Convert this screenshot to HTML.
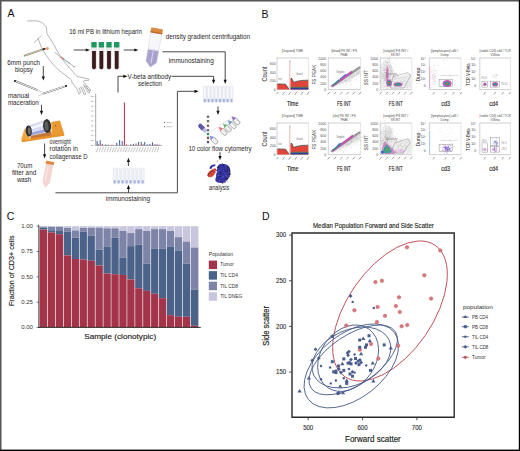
<!DOCTYPE html>
<html><head><meta charset="utf-8"><style>
html,body{margin:0;padding:0;background:#fff;}
svg{display:block;font-family:"Liberation Sans", sans-serif;}
</style></head><body>
<svg width="520" height="451" viewBox="0 0 520 451">
<rect width="520" height="451" fill="#fff"/>
<text x="7.6" y="17.4" font-size="10.5" fill="#111" stroke="#111" stroke-width="0" text-anchor="start" >A</text>
<line x1="73.7" y1="50" x2="87" y2="50" stroke="#1a1a1a" stroke-width="0.8" fill="none"/>
<polygon points="90,50 85.8,48.4 85.8,51.6" fill="#111"/>
<line x1="123.7" y1="50" x2="135.5" y2="50" stroke="#1a1a1a" stroke-width="0.8" fill="none"/>
<polygon points="138.5,50 134.3,48.4 134.3,51.6" fill="#111"/>
<polyline points="162.5,51.8 225.2,51.8 225.2,80.5" stroke="#1a1a1a" stroke-width="0.8" fill="none"/>
<polygon points="225.2,84 223.6,79.8 226.79999999999998,79.8" fill="#111"/>
<polyline points="118,92.5 118,76.3 124.5,76.3" stroke="#1a1a1a" stroke-width="0.8" fill="none"/>
<polygon points="127.5,76.3 123.3,74.7 123.3,77.89999999999999" fill="#111"/>
<polyline points="171.5,76.3 213.6,76.3 213.6,80.5" stroke="#1a1a1a" stroke-width="0.8" fill="none"/>
<polygon points="213.6,84 212.0,79.8 215.2,79.8" fill="#111"/>
<polyline points="55.4,192.8 177.4,192.8 177.4,91.3 195.5,91.3" stroke="#4a4a4a" stroke-width="1.0" fill="none"/>
<polygon points="198.7,91.3 194.5,89.7 194.5,92.89999999999999" fill="#111"/>
<line x1="128.5" y1="192.5" x2="128.5" y2="188" stroke="#1a1a1a" stroke-width="0.8" fill="none"/>
<polygon points="128.5,184.8 126.9,189.0 130.1,189.0" fill="#111"/>
<line x1="128.4" y1="166" x2="128.4" y2="161" stroke="#1a1a1a" stroke-width="0.8" fill="none"/>
<polygon points="128.4,157.7 126.80000000000001,161.89999999999998 130.0,161.89999999999998" fill="#111"/>
<line x1="43.3" y1="66" x2="43.3" y2="77" stroke="#1a1a1a" stroke-width="0.8" fill="none"/>
<polygon points="43.3,80.6 41.699999999999996,76.39999999999999 44.9,76.39999999999999" fill="#111"/>
<line x1="41.5" y1="104.8" x2="41.5" y2="111.5" stroke="#1a1a1a" stroke-width="0.8" fill="none"/>
<polygon points="41.5,115 39.9,110.8 43.1,110.8" fill="#111"/>
<line x1="44.6" y1="143.5" x2="44.6" y2="155" stroke="#1a1a1a" stroke-width="0.8" fill="none"/>
<polygon points="44.6,158.5 43.0,154.3 46.2,154.3" fill="#111"/>
<line x1="218" y1="106.4" x2="218" y2="111.5" stroke="#1a1a1a" stroke-width="0.8" fill="none"/>
<polygon points="218,115 216.4,110.8 219.6,110.8" fill="#111"/>
<line x1="220" y1="152.1" x2="220" y2="157" stroke="#1a1a1a" stroke-width="0.8" fill="none"/>
<polygon points="220,160.2 218.4,156.0 221.6,156.0" fill="#111"/>
<text x="69.2" y="33.7" font-size="6.3" fill="#2a2627" stroke="#2a2627" stroke-width="0" text-anchor="start" textLength="72.7" lengthAdjust="spacingAndGlyphs" >16 ml PB in lithium heparin</text>
<text x="165.8" y="38.5" font-size="6.3" fill="#2a2627" stroke="#2a2627" stroke-width="0" text-anchor="start" textLength="84.2" lengthAdjust="spacingAndGlyphs" >density gradient centrifugation</text>
<text x="168.7" y="62.5" font-size="6.3" fill="#2a2627" stroke="#2a2627" stroke-width="0" text-anchor="start" textLength="45.1" lengthAdjust="spacingAndGlyphs" >immunostaining</text>
<text x="127.6" y="78.5" font-size="6.3" fill="#2a2627" stroke="#2a2627" stroke-width="0" text-anchor="start" textLength="43.6" lengthAdjust="spacingAndGlyphs" >V-beta antibody</text>
<text x="138" y="86.3" font-size="6.3" fill="#2a2627" stroke="#2a2627" stroke-width="0" text-anchor="start" textLength="24" lengthAdjust="spacingAndGlyphs" >selection</text>
<text x="7.3" y="64.8" font-size="6.3" fill="#2a2627" stroke="#2a2627" stroke-width="0" text-anchor="start" textLength="32.7" lengthAdjust="spacingAndGlyphs" >6mm punch</text>
<text x="14.9" y="72.1" font-size="6.3" fill="#2a2627" stroke="#2a2627" stroke-width="0" text-anchor="start" textLength="18" lengthAdjust="spacingAndGlyphs" >biopsy</text>
<text x="7.9" y="97.7" font-size="6.3" fill="#2a2627" stroke="#2a2627" stroke-width="0" text-anchor="start" textLength="21.4" lengthAdjust="spacingAndGlyphs" >manual</text>
<text x="7.9" y="105" font-size="6.3" fill="#2a2627" stroke="#2a2627" stroke-width="0" text-anchor="start" textLength="30.9" lengthAdjust="spacingAndGlyphs" >maceration</text>
<text x="49.6" y="143.5" font-size="6.3" fill="#2a2627" stroke="#2a2627" stroke-width="0" text-anchor="start" textLength="21.2" lengthAdjust="spacingAndGlyphs" >overnight</text>
<text x="49.6" y="151.2" font-size="6.3" fill="#2a2627" stroke="#2a2627" stroke-width="0" text-anchor="start" textLength="28.3" lengthAdjust="spacingAndGlyphs" >rotation in</text>
<text x="49.6" y="158.8" font-size="6.3" fill="#2a2627" stroke="#2a2627" stroke-width="0" text-anchor="start" textLength="37.9" lengthAdjust="spacingAndGlyphs" >collagenase D</text>
<text x="16.9" y="167.5" font-size="6.3" fill="#2a2627" stroke="#2a2627" stroke-width="0" text-anchor="start" textLength="15.4" lengthAdjust="spacingAndGlyphs" >70um</text>
<text x="11.9" y="174.6" font-size="6.3" fill="#2a2627" stroke="#2a2627" stroke-width="0" text-anchor="start" textLength="24.3" lengthAdjust="spacingAndGlyphs" >filter and</text>
<text x="16.9" y="182.3" font-size="6.3" fill="#2a2627" stroke="#2a2627" stroke-width="0" text-anchor="start" textLength="14.3" lengthAdjust="spacingAndGlyphs" >wash</text>
<text x="188.4" y="151" font-size="6.3" fill="#2a2627" stroke="#2a2627" stroke-width="0" text-anchor="start" textLength="63.2" lengthAdjust="spacingAndGlyphs" >10 color flow cytometry</text>
<text x="209" y="189.8" font-size="6.3" fill="#2a2627" stroke="#2a2627" stroke-width="0" text-anchor="start" textLength="20.4" lengthAdjust="spacingAndGlyphs" >analysis</text>
<text x="105.8" y="201.2" font-size="6.3" fill="#2a2627" stroke="#2a2627" stroke-width="0" text-anchor="start" textLength="44.2" lengthAdjust="spacingAndGlyphs" >immunostaining</text>
<path d="M27.5,20.9 L37.7,20.9 C41,21.5 44.5,24 46.2,27.1 C47,29.5 46.6,31.5 46.8,33.5 C49,37 52,41 54,45 C57,51 60,56 63,60 C67,65 70,69 73.3,72 C74.5,74 75.5,75.3 77.2,76.4 C80,77.2 85,78 88.8,79.2 C89.6,79.6 89.2,80.4 87.7,80.4 L84.4,80.6 C83.2,81 83.3,82 84,82.6 L88.5,87.5 C90,89 91,90 90.5,90.6 C90,91 89,90.5 88.3,89.8 L83.8,85" stroke="#6a6a6a" stroke-width="0.5" fill="none" stroke-linecap="round" stroke-linejoin="round"/>
<path d="M38.2,39 C40,44 41.5,48 43.5,51 C47,57 52,64 58,69.5 C63,73.5 67,76.5 70.5,79.2 C72,80.5 72.5,81.5 71.6,81.6 C73,84 75,86.5 77.2,89.2 C78,90.5 78.3,92 78.4,93.2 C78.8,94.2 80,94 80.3,93 C80.5,91.5 79.8,89.5 79.2,88 M80.8,87 C81.8,89.5 83,92 84,94.2 C84.6,95.2 85.6,94.8 85.5,93.8 C85.2,92 83.8,89.5 82.5,87 M83.8,85 C85,87.5 86.8,90.5 88.2,92.6 C88.8,93.5 89.8,93.2 89.6,92.2 C89.2,90.8 87.6,88.5 86,86" stroke="#6a6a6a" stroke-width="0.5" fill="none" stroke-linecap="round" stroke-linejoin="round"/>
<path d="M34.2,42.6 L40.8,36" stroke="#6a6a6a" stroke-width="0.5" fill="none" stroke-linecap="round" stroke-linejoin="round"/>
<line x1="24.7" y1="55.6" x2="43.5" y2="49.2" stroke="#8f8a72" stroke-width="1.9" stroke-linecap="round"/>
<line x1="25" y1="55.5" x2="43" y2="49.3" stroke="#e3ddc6" stroke-width="0.7"/>
<line x1="42.5" y1="49.5" x2="45.5" y2="48.5" stroke="#222" stroke-width="1.5"/>
<circle cx="47.4" cy="48.4" r="1.5" fill="#f39a72"/>
<line x1="55" y1="52.7" x2="72.5" y2="65.5" stroke="#c7cdd0" stroke-width="1.3" stroke-linecap="round"/>
<line x1="60.3" y1="56.6" x2="64" y2="59.3" stroke="#c97060" stroke-width="1.1"/>
<line x1="64" y1="59.3" x2="70" y2="63.7" stroke="#6aa5a5" stroke-width="0.6"/>
<circle cx="74" cy="66.6" r="0.8" fill="#888"/>
<rect x="91.3" y="41.9" width="5.4" height="5.8" rx="0.7" fill="#1c9860"/>
<path d="M91.6,47.7 L91.6,67.8 Q91.6,69.8 94.0,69.8 Q96.4,69.8 96.4,67.8 L96.4,47.7 Z" fill="#f0eef0" stroke="#bfb7b9" stroke-width="0.3"/>
<path d="M92.1,51 L92.1,67.6 Q92.1,69.3 94.0,69.3 Q95.9,69.3 95.9,67.6 L95.9,51 Z" fill="#3a1b1e"/>
<rect x="98.64999999999999" y="41.9" width="5.4" height="5.8" rx="0.7" fill="#1c9860"/>
<path d="M98.94999999999999,47.7 L98.94999999999999,67.8 Q98.94999999999999,69.8 101.35,69.8 Q103.75,69.8 103.75,67.8 L103.75,47.7 Z" fill="#f0eef0" stroke="#bfb7b9" stroke-width="0.3"/>
<path d="M99.44999999999999,51 L99.44999999999999,67.6 Q99.44999999999999,69.3 101.35,69.3 Q103.25,69.3 103.25,67.6 L103.25,51 Z" fill="#3a1b1e"/>
<rect x="106.3" y="41.9" width="5.4" height="5.8" rx="0.7" fill="#1c9860"/>
<path d="M106.6,47.7 L106.6,67.8 Q106.6,69.8 109.0,69.8 Q111.4,69.8 111.4,67.8 L111.4,47.7 Z" fill="#f0eef0" stroke="#bfb7b9" stroke-width="0.3"/>
<path d="M107.1,51 L107.1,67.6 Q107.1,69.3 109.0,69.3 Q110.9,69.3 110.9,67.6 L110.9,51 Z" fill="#3a1b1e"/>
<rect x="114.0" y="41.9" width="5.4" height="5.8" rx="0.7" fill="#1c9860"/>
<path d="M114.3,47.7 L114.3,67.8 Q114.3,69.8 116.7,69.8 Q119.10000000000001,69.8 119.10000000000001,67.8 L119.10000000000001,47.7 Z" fill="#f0eef0" stroke="#bfb7b9" stroke-width="0.3"/>
<path d="M114.8,51 L114.8,67.6 Q114.8,69.3 116.7,69.3 Q118.60000000000001,69.3 118.60000000000001,67.6 L118.60000000000001,51 Z" fill="#3a1b1e"/>
<g transform="translate(-1.8 0) rotate(10 155 48)">
<path d="M150,33 L161,33 L161,62 L155.5,67.5 L150,62 Z" fill="#f7f6fb" stroke="#cfcbd9" stroke-width="0.4"/>
<path d="M150.2,49.5 L160.8,49.5 L160.8,62 L155.5,67.3 L150.2,62 Z" fill="#a9a2cd"/>
<rect x="150.2" y="49.2" width="10.6" height="1.2" fill="#e6e3f2"/>
<rect x="155" y="50.5" width="1" height="13" fill="#d9d5ea"/>
<rect x="149.5" y="28" width="12" height="5" rx="0.8" fill="#da8a40"/>
<rect x="149.5" y="31.8" width="12" height="1.2" fill="#b9692a"/>
</g>
<g stroke-linecap="round">
<line x1="14.8" y1="80.9" x2="37.1" y2="90" stroke="#4a4a4a" stroke-width="1.75"/>
<line x1="15.8" y1="81.3" x2="36.8" y2="89.9" stroke="#fafafa" stroke-width="1.0"/>
<path d="M36.8,89.2 L41.7,91.7 L36.5,90.8 Z" fill="#f6f6f6" stroke="#aaa" stroke-width="0.3"/>
<circle cx="14.9" cy="80.9" r="0.95" fill="#222"/>
<line x1="43.5" y1="93.5" x2="66" y2="86" stroke="#4a4a4a" stroke-width="1.75"/>
<line x1="44" y1="93.3" x2="65.2" y2="86.2" stroke="#fafafa" stroke-width="1.0"/>
<path d="M43.6,92.8 L38.3,95.8 L43.6,94.2 Z" fill="#f6f6f6" stroke="#aaa" stroke-width="0.3"/>
<circle cx="66" cy="86" r="0.95" fill="#222"/>
</g>
<path d="M51.25,121.9 L60,120.6 L64,133.75 L51.9,136.9 Z" fill="#eb9a32"/>
<path d="M60,120.6 L64,133.75 L64.3,135.5 L60.5,122 Z" fill="#d07a22"/>
<path d="M30.6,140 L51.9,136.9 L51.25,131 L30.6,134.5 Z" fill="#c47636"/>
<path d="M21.25,139.4 L64,133.75 L64.3,135.8 L21.9,142.3 Z" fill="#e8922c"/>
<path d="M21.25,139.4 L24.75,128.3 L30.8,140.2 Z" fill="#f2a540"/>
<path d="M21.25,139.4 L24.75,128.3" stroke="#f7c070" stroke-width="0.4"/>
<polygon points="28.8,125.6 47,119.3 47.2,132.5 29.2,136.3" fill="#d6daf3"/>
<polygon points="29.5,127.5 46.5,121.5 46.5,124.5 29.8,130" fill="#f4f5fd"/>
<polygon points="30,133 46.5,129 46.8,131.8 30,135.5" fill="#9aa2d8"/>
<ellipse cx="28.75" cy="131" rx="3.1" ry="5.6" fill="#2e2e2e" transform="rotate(-6 28.75 131)"/>
<ellipse cx="29.3" cy="131" rx="1.5" ry="3.8" fill="#6e6e6e" transform="rotate(-6 28.75 131)"/>
<ellipse cx="47.1" cy="126" rx="4" ry="6.9" fill="#2e2e2e" transform="rotate(-6 47.1 126)"/>
<ellipse cx="46.5" cy="126" rx="2" ry="4.8" fill="#5e5e5e" transform="rotate(-6 47.1 126)"/>
<circle cx="55.7" cy="125.8" r="0.6" fill="#444"/>
<g transform="rotate(11 47.8 174)">
<path d="M44,164 L51.5,164 L51.5,182.5 L47.8,188 L44,182.5 Z" fill="#f4d6d0"/>
<rect x="46" y="166" width="1" height="16" fill="#f9ebe8"/>
<rect x="43.6" y="161.2" width="8.3" height="3" rx="0.5" fill="#e0893e"/>
</g>
<line x1="95.7" y1="93.5" x2="95.7" y2="145.4" stroke="#444" stroke-width="0.45"/>
<line x1="95.7" y1="145.4" x2="162" y2="145.4" stroke="#444" stroke-width="0.45"/>
<line x1="94.6" y1="145.4" x2="95.7" y2="145.4" stroke="#666" stroke-width="0.3"/>
<rect x="91" y="145.0" width="2.2" height="0.9" fill="#b5b5b5"/>
<line x1="94.6" y1="140.5" x2="95.7" y2="140.5" stroke="#666" stroke-width="0.3"/>
<rect x="91" y="140.1" width="2.2" height="0.9" fill="#b5b5b5"/>
<line x1="94.6" y1="135.6" x2="95.7" y2="135.6" stroke="#666" stroke-width="0.3"/>
<rect x="91" y="135.2" width="2.2" height="0.9" fill="#b5b5b5"/>
<line x1="94.6" y1="130.7" x2="95.7" y2="130.7" stroke="#666" stroke-width="0.3"/>
<rect x="91" y="130.3" width="2.2" height="0.9" fill="#b5b5b5"/>
<line x1="94.6" y1="125.8" x2="95.7" y2="125.8" stroke="#666" stroke-width="0.3"/>
<rect x="91" y="125.4" width="2.2" height="0.9" fill="#b5b5b5"/>
<line x1="94.6" y1="120.9" x2="95.7" y2="120.9" stroke="#666" stroke-width="0.3"/>
<rect x="91" y="120.5" width="2.2" height="0.9" fill="#b5b5b5"/>
<line x1="94.6" y1="116.0" x2="95.7" y2="116.0" stroke="#666" stroke-width="0.3"/>
<rect x="91" y="115.5" width="2.2" height="0.9" fill="#b5b5b5"/>
<line x1="94.6" y1="111.1" x2="95.7" y2="111.1" stroke="#666" stroke-width="0.3"/>
<rect x="91" y="110.6" width="2.2" height="0.9" fill="#b5b5b5"/>
<line x1="94.6" y1="106.2" x2="95.7" y2="106.2" stroke="#666" stroke-width="0.3"/>
<rect x="91" y="105.8" width="2.2" height="0.9" fill="#b5b5b5"/>
<line x1="94.6" y1="101.3" x2="95.7" y2="101.3" stroke="#666" stroke-width="0.3"/>
<rect x="91" y="100.9" width="2.2" height="0.9" fill="#b5b5b5"/>
<line x1="94.6" y1="96.4" x2="95.7" y2="96.4" stroke="#666" stroke-width="0.3"/>
<rect x="91" y="96.0" width="2.6" height="0.9" fill="#b5b5b5"/>
<rect x="123.9" y="102.5" width="1.1" height="42.9" fill="#c43a4a"/>
<rect x="96.6" y="141.0" width="1" height="4.4" fill="#3f5fa0"/>
<rect x="99.7" y="140.20000000000002" width="1" height="5.2" fill="#3f5fa0"/>
<rect x="105.3" y="144.4" width="1" height="1" fill="#3f5fa0"/>
<rect x="108.0" y="144.8" width="1" height="0.6" fill="#3f5fa0"/>
<rect x="116.2" y="142.8" width="1" height="2.6" fill="#3f5fa0"/>
<rect x="119.1" y="140.0" width="1" height="5.4" fill="#3f5fa0"/>
<rect x="121.7" y="141.0" width="1" height="4.4" fill="#3f5fa0"/>
<rect x="130.3" y="144.4" width="1" height="1" fill="#3f5fa0"/>
<rect x="132.9" y="143.9" width="1" height="1.5" fill="#3f5fa0"/>
<rect x="138.1" y="141.9" width="1" height="3.5" fill="#3f5fa0"/>
<rect x="140.7" y="141.9" width="1" height="3.5" fill="#3f5fa0"/>
<rect x="144.2" y="141.9" width="1" height="3.5" fill="#3f5fa0"/>
<rect x="146.8" y="144.4" width="1" height="1" fill="#3f5fa0"/>
<rect x="149.4" y="143.9" width="1" height="1.5" fill="#3f5fa0"/>
<rect x="152.0" y="142.4" width="1" height="3" fill="#3f5fa0"/>
<rect x="155.5" y="144.4" width="1" height="1" fill="#3f5fa0"/>
<rect x="158.5" y="144.8" width="1" height="0.6" fill="#3f5fa0"/>
<rect x="97.8" y="144.20000000000002" width="1" height="1.2" fill="#c43a4a"/>
<rect x="101.8" y="143.9" width="1" height="1.5" fill="#c43a4a"/>
<rect x="111.5" y="144.8" width="1" height="0.6" fill="#c43a4a"/>
<rect x="126.0" y="144.4" width="1" height="1" fill="#c43a4a"/>
<rect x="135.5" y="143.4" width="1" height="2" fill="#c43a4a"/>
<rect x="142.5" y="144.20000000000002" width="1" height="1.2" fill="#c43a4a"/>
<rect x="153.7" y="144.4" width="1" height="1" fill="#c43a4a"/>
<rect x="157.0" y="144.6" width="1" height="0.8" fill="#c43a4a"/>
<line x1="98.3" y1="147.2" x2="96.1" y2="152.2" stroke="#b8b8b8" stroke-width="0.8"/>
<line x1="101.0" y1="147.2" x2="98.8" y2="152.2" stroke="#b8b8b8" stroke-width="0.8"/>
<line x1="103.6" y1="147.2" x2="101.4" y2="152.2" stroke="#b8b8b8" stroke-width="0.8"/>
<line x1="106.2" y1="147.2" x2="104.0" y2="152.2" stroke="#b8b8b8" stroke-width="0.8"/>
<line x1="108.9" y1="147.2" x2="106.7" y2="152.2" stroke="#b8b8b8" stroke-width="0.8"/>
<line x1="111.5" y1="147.2" x2="109.3" y2="152.2" stroke="#b8b8b8" stroke-width="0.8"/>
<line x1="114.2" y1="147.2" x2="112.0" y2="152.2" stroke="#b8b8b8" stroke-width="0.8"/>
<line x1="116.8" y1="147.2" x2="114.6" y2="152.2" stroke="#b8b8b8" stroke-width="0.8"/>
<line x1="119.5" y1="147.2" x2="117.3" y2="152.2" stroke="#b8b8b8" stroke-width="0.8"/>
<line x1="122.1" y1="147.2" x2="119.9" y2="152.2" stroke="#b8b8b8" stroke-width="0.8"/>
<line x1="124.8" y1="147.2" x2="122.6" y2="152.2" stroke="#b8b8b8" stroke-width="0.8"/>
<line x1="127.5" y1="147.2" x2="125.2" y2="152.2" stroke="#b8b8b8" stroke-width="0.8"/>
<line x1="130.1" y1="147.2" x2="127.9" y2="152.2" stroke="#b8b8b8" stroke-width="0.8"/>
<line x1="132.8" y1="147.2" x2="130.5" y2="152.2" stroke="#b8b8b8" stroke-width="0.8"/>
<line x1="135.4" y1="147.2" x2="133.2" y2="152.2" stroke="#b8b8b8" stroke-width="0.8"/>
<line x1="138.1" y1="147.2" x2="135.8" y2="152.2" stroke="#b8b8b8" stroke-width="0.8"/>
<line x1="140.7" y1="147.2" x2="138.5" y2="152.2" stroke="#b8b8b8" stroke-width="0.8"/>
<line x1="143.4" y1="147.2" x2="141.2" y2="152.2" stroke="#b8b8b8" stroke-width="0.8"/>
<line x1="146.0" y1="147.2" x2="143.8" y2="152.2" stroke="#b8b8b8" stroke-width="0.8"/>
<line x1="148.7" y1="147.2" x2="146.4" y2="152.2" stroke="#b8b8b8" stroke-width="0.8"/>
<line x1="151.3" y1="147.2" x2="149.1" y2="152.2" stroke="#b8b8b8" stroke-width="0.8"/>
<line x1="154.0" y1="147.2" x2="151.8" y2="152.2" stroke="#b8b8b8" stroke-width="0.8"/>
<line x1="156.6" y1="147.2" x2="154.4" y2="152.2" stroke="#b8b8b8" stroke-width="0.8"/>
<line x1="159.2" y1="147.2" x2="157.0" y2="152.2" stroke="#b8b8b8" stroke-width="0.8"/>
<rect x="164.1" y="122" width="1" height="1.1" fill="#c43a4a"/><rect x="166.3" y="122.1" width="6" height="0.9" fill="#c8c8c8"/>
<rect x="164.1" y="126.2" width="1" height="1.1" fill="#3f5fa0"/><rect x="166.3" y="126.3" width="6" height="0.9" fill="#c8c8c8"/>
<rect x="203.4" y="86.2" width="2.9" height="16.3" rx="0.9" fill="#f7f8fc" stroke="#c9cde2" stroke-width="0.45"/>
<rect x="203.75" y="98.7" width="2.2" height="3.5" rx="1.1" fill="#a6b4da"/>
<rect x="207.20000000000002" y="86.2" width="2.9" height="16.3" rx="0.9" fill="#f7f8fc" stroke="#c9cde2" stroke-width="0.45"/>
<rect x="207.55" y="98.7" width="2.2" height="3.5" rx="1.1" fill="#a6b4da"/>
<rect x="211.0" y="86.2" width="2.9" height="16.3" rx="0.9" fill="#f7f8fc" stroke="#c9cde2" stroke-width="0.45"/>
<rect x="211.35" y="98.7" width="2.2" height="3.5" rx="1.1" fill="#a6b4da"/>
<rect x="214.8" y="86.2" width="2.9" height="16.3" rx="0.9" fill="#f7f8fc" stroke="#c9cde2" stroke-width="0.45"/>
<rect x="215.15" y="98.7" width="2.2" height="3.5" rx="1.1" fill="#a6b4da"/>
<rect x="218.6" y="86.2" width="2.9" height="16.3" rx="0.9" fill="#f7f8fc" stroke="#c9cde2" stroke-width="0.45"/>
<rect x="218.95" y="98.7" width="2.2" height="3.5" rx="1.1" fill="#a6b4da"/>
<rect x="222.4" y="86.2" width="2.9" height="16.3" rx="0.9" fill="#f7f8fc" stroke="#c9cde2" stroke-width="0.45"/>
<rect x="222.75" y="98.7" width="2.2" height="3.5" rx="1.1" fill="#a6b4da"/>
<rect x="226.2" y="86.2" width="2.9" height="16.3" rx="0.9" fill="#f7f8fc" stroke="#c9cde2" stroke-width="0.45"/>
<rect x="226.54999999999998" y="98.7" width="2.2" height="3.5" rx="1.1" fill="#a6b4da"/>
<rect x="230.0" y="86.2" width="2.9" height="16.3" rx="0.9" fill="#f7f8fc" stroke="#c9cde2" stroke-width="0.45"/>
<rect x="230.35" y="98.7" width="2.2" height="3.5" rx="1.1" fill="#a6b4da"/>
<rect x="113.3" y="168.1" width="2.8" height="15.7" rx="0.9" fill="#f7f8fc" stroke="#c9cde2" stroke-width="0.45"/>
<rect x="113.64999999999999" y="179.99999999999997" width="2.0999999999999996" height="3.5" rx="1.1" fill="#a6b4da"/>
<rect x="117.3" y="168.1" width="2.8" height="15.7" rx="0.9" fill="#f7f8fc" stroke="#c9cde2" stroke-width="0.45"/>
<rect x="117.64999999999999" y="179.99999999999997" width="2.0999999999999996" height="3.5" rx="1.1" fill="#a6b4da"/>
<rect x="121.3" y="168.1" width="2.8" height="15.7" rx="0.9" fill="#f7f8fc" stroke="#c9cde2" stroke-width="0.45"/>
<rect x="121.64999999999999" y="179.99999999999997" width="2.0999999999999996" height="3.5" rx="1.1" fill="#a6b4da"/>
<rect x="125.3" y="168.1" width="2.8" height="15.7" rx="0.9" fill="#f7f8fc" stroke="#c9cde2" stroke-width="0.45"/>
<rect x="125.64999999999999" y="179.99999999999997" width="2.0999999999999996" height="3.5" rx="1.1" fill="#a6b4da"/>
<rect x="129.3" y="168.1" width="2.8" height="15.7" rx="0.9" fill="#f7f8fc" stroke="#c9cde2" stroke-width="0.45"/>
<rect x="129.65" y="179.99999999999997" width="2.0999999999999996" height="3.5" rx="1.1" fill="#a6b4da"/>
<rect x="133.3" y="168.1" width="2.8" height="15.7" rx="0.9" fill="#f7f8fc" stroke="#c9cde2" stroke-width="0.45"/>
<rect x="133.65" y="179.99999999999997" width="2.0999999999999996" height="3.5" rx="1.1" fill="#a6b4da"/>
<rect x="137.3" y="168.1" width="2.8" height="15.7" rx="0.9" fill="#f7f8fc" stroke="#c9cde2" stroke-width="0.45"/>
<rect x="137.65" y="179.99999999999997" width="2.0999999999999996" height="3.5" rx="1.1" fill="#a6b4da"/>
<rect x="141.3" y="168.1" width="2.8" height="15.7" rx="0.9" fill="#f7f8fc" stroke="#c9cde2" stroke-width="0.45"/>
<rect x="141.65" y="179.99999999999997" width="2.0999999999999996" height="3.5" rx="1.1" fill="#a6b4da"/>
<circle cx="208" cy="116.8" r="1.3" fill="#6f6080"/>
<circle cx="208" cy="121.1" r="1.3" fill="#606f62"/>
<circle cx="208" cy="125.8" r="1.3" fill="#8a6050"/>
<circle cx="208" cy="130.2" r="1.3" fill="#705a88"/>
<circle cx="208" cy="134" r="1.3" fill="#1e8a40"/>
<circle cx="208" cy="137.9" r="1.3" fill="#8a5a40"/>
<circle cx="208" cy="142.1" r="1.3" fill="#5e5478"/>
<polyline points="208.5,133.8 215,129 221,124.5 233,116.8" stroke="#c9a6c9" stroke-width="0.35" fill="none"/>
<line x1="204" y1="131" x2="209" y2="135" stroke="#9aa" stroke-width="0.35"/>
<g transform="rotate(45 198.8 124.4)"><path d="M198.8,124.4 Q198.8,122.2 201,122.2 L205.5,122.2 L205.5,126.6 L201,126.6 Q198.8,126.6 198.8,124.4 Z" fill="#5d5aa8"/><rect x="205.5" y="122.6" width="3.5" height="3.6" fill="#b8b6e0"/></g>
<g transform="rotate(45 218.6 126.8)"><path d="M222.6,124.7 L227.9,124.7 Q229.6,124.7 229.6,126.8 Q229.6,128.9 227.9,128.9 L222.6,128.9 Z" fill="#f2f2f2" stroke="#6a6a6a" stroke-width="0.5"/><path d="M224.1,125.6 L228.1,125.6" stroke="#aaa" stroke-width="0.4"/><path d="M218.6,126.8 L222.9,124.7 L222.9,128.9 Z" fill="#e87a7a"/></g>
<g transform="rotate(45 222.9 123.5)"><path d="M226.9,121.4 L232.20000000000002,121.4 Q233.9,121.4 233.9,123.5 Q233.9,125.6 232.20000000000002,125.6 L226.9,125.6 Z" fill="#f2f2f2" stroke="#6a6a6a" stroke-width="0.5"/><path d="M228.4,122.3 L232.4,122.3" stroke="#aaa" stroke-width="0.4"/><path d="M222.9,123.5 L227.20000000000002,121.4 L227.20000000000002,125.6 Z" fill="#6cba78"/></g>
<g transform="rotate(45 227.7 120.1)"><path d="M231.7,118.0 L237.0,118.0 Q238.7,118.0 238.7,120.1 Q238.7,122.19999999999999 237.0,122.19999999999999 L231.7,122.19999999999999 Z" fill="#f2f2f2" stroke="#6a6a6a" stroke-width="0.5"/><path d="M233.2,118.89999999999999 L237.2,118.89999999999999" stroke="#aaa" stroke-width="0.4"/><path d="M227.7,120.1 L232.0,118.0 L232.0,122.19999999999999 Z" fill="#6a9ad8"/></g>
<g transform="rotate(45 231.5 116.3)"><path d="M235.5,114.2 L240.8,114.2 Q242.5,114.2 242.5,116.3 Q242.5,118.39999999999999 240.8,118.39999999999999 L235.5,118.39999999999999 Z" fill="#f2f2f2" stroke="#6a6a6a" stroke-width="0.5"/><path d="M237.0,115.1 L241.0,115.1" stroke="#aaa" stroke-width="0.4"/><path d="M231.5,116.3 L235.8,114.2 L235.8,118.39999999999999 Z" fill="#a46cc4"/></g>
<g transform="rotate(45 209.4 135.5)"><path d="M213.4,133.4 L218.70000000000002,133.4 Q220.4,133.4 220.4,135.5 Q220.4,137.6 218.70000000000002,137.6 L213.4,137.6 Z" fill="#f2f2f2" stroke="#6a6a6a" stroke-width="0.5"/><path d="M214.9,134.3 L218.9,134.3" stroke="#aaa" stroke-width="0.4"/><path d="M209.4,135.5 L213.70000000000002,133.4 L213.70000000000002,137.6 Z" fill="#7a96dc"/></g>
<path d="M219,164.5 C222,163.2 226,164 228.5,166 C230.5,168 230.3,172 229.8,175 C229,178 227,181 224,182.5 C221,183.5 217,183 215.5,181 C214.8,179 216.5,176 217,173 C217.2,170 216.5,167 219,164.5 Z" fill="#3636a2"/>
<g><circle cx="221.7" cy="174.7" r="0.46" fill="#6464e0"/><circle cx="228.2" cy="167.3" r="0.48" fill="#111"/><circle cx="224.6" cy="179.4" r="0.46" fill="#161650"/><circle cx="216.8" cy="174.3" r="0.50" fill="#161650"/><circle cx="220.8" cy="172.6" r="0.51" fill="#20206a"/><circle cx="224.1" cy="179.1" r="0.46" fill="#5a5ad8"/><circle cx="228.0" cy="173.9" r="0.42" fill="#701a30"/><circle cx="225.0" cy="171.6" r="0.53" fill="#161650"/><circle cx="219.5" cy="168.1" r="0.36" fill="#5a5ad8"/><circle cx="223.5" cy="165.7" r="0.56" fill="#161650"/><circle cx="220.7" cy="182.7" r="0.40" fill="#161650"/><circle cx="220.5" cy="177.7" r="0.37" fill="#6464e0"/><circle cx="224.6" cy="179.1" r="0.43" fill="#5a5ad8"/><circle cx="221.1" cy="182.0" r="0.41" fill="#20206a"/><circle cx="227.3" cy="167.1" r="0.40" fill="#2a1010"/><circle cx="222.6" cy="183.2" r="0.45" fill="#20206a"/><circle cx="220.6" cy="171.4" r="0.35" fill="#20206a"/><circle cx="223.7" cy="164.3" r="0.40" fill="#20206a"/><circle cx="218.6" cy="179.0" r="0.56" fill="#5a5ad8"/><circle cx="220.7" cy="165.0" r="0.50" fill="#20206a"/><circle cx="218.4" cy="175.5" r="0.51" fill="#5a5ad8"/><circle cx="216.5" cy="175.2" r="0.57" fill="#20206a"/><circle cx="218.5" cy="167.3" r="0.52" fill="#20206a"/><circle cx="220.7" cy="173.2" r="0.46" fill="#161650"/><circle cx="225.8" cy="168.6" r="0.42" fill="#6464e0"/><circle cx="217.3" cy="177.9" r="0.38" fill="#161650"/><circle cx="222.2" cy="176.6" r="0.42" fill="#161650"/><circle cx="221.6" cy="164.7" r="0.42" fill="#20206a"/><circle cx="223.0" cy="183.0" r="0.44" fill="#161650"/><circle cx="225.0" cy="177.3" r="0.50" fill="#20206a"/><circle cx="229.3" cy="173.0" r="0.53" fill="#5a5ad8"/><circle cx="224.7" cy="173.1" r="0.43" fill="#5a5ad8"/><circle cx="223.2" cy="178.2" r="0.55" fill="#20206a"/><circle cx="229.1" cy="170.5" r="0.47" fill="#701a30"/><circle cx="222.5" cy="163.8" r="0.44" fill="#6464e0"/><circle cx="218.6" cy="171.8" r="0.45" fill="#5a5ad8"/><circle cx="226.3" cy="175.1" r="0.47" fill="#6464e0"/><circle cx="223.2" cy="173.9" r="0.43" fill="#161650"/><circle cx="227.0" cy="176.7" r="0.41" fill="#6464e0"/><circle cx="225.4" cy="167.6" r="0.54" fill="#20206a"/><circle cx="220.0" cy="182.1" r="0.57" fill="#6464e0"/><circle cx="219.7" cy="176.8" r="0.51" fill="#20206a"/><circle cx="227.4" cy="178.6" r="0.57" fill="#20206a"/><circle cx="220.7" cy="175.2" r="0.40" fill="#5a5ad8"/><circle cx="216.7" cy="170.5" r="0.53" fill="#161650"/><circle cx="217.2" cy="172.5" r="0.58" fill="#5a5ad8"/><circle cx="227.8" cy="171.2" r="0.47" fill="#2a1010"/><circle cx="219.5" cy="180.3" r="0.43" fill="#6464e0"/><circle cx="227.8" cy="169.1" r="0.36" fill="#2a1010"/><circle cx="225.8" cy="174.9" r="0.51" fill="#5a5ad8"/><circle cx="223.5" cy="176.3" r="0.46" fill="#6464e0"/><circle cx="218.3" cy="166.3" r="0.60" fill="#161650"/><circle cx="223.1" cy="176.3" r="0.59" fill="#5a5ad8"/><circle cx="225.5" cy="167.5" r="0.41" fill="#6464e0"/><circle cx="225.9" cy="178.6" r="0.39" fill="#161650"/><circle cx="218.9" cy="170.4" r="0.45" fill="#20206a"/><circle cx="227.2" cy="181.6" r="0.45" fill="#161650"/><circle cx="228.8" cy="171.3" r="0.46" fill="#6464e0"/><circle cx="224.5" cy="181.7" r="0.49" fill="#6464e0"/><circle cx="224.9" cy="173.6" r="0.47" fill="#5a5ad8"/><circle cx="224.9" cy="167.6" r="0.40" fill="#161650"/><circle cx="230.1" cy="174.2" r="0.58" fill="#111"/><circle cx="218.7" cy="177.9" r="0.44" fill="#161650"/><circle cx="215.8" cy="172.3" r="0.54" fill="#6464e0"/><circle cx="222.3" cy="164.1" r="0.46" fill="#161650"/><circle cx="225.5" cy="181.8" r="0.39" fill="#6464e0"/><circle cx="222.8" cy="178.0" r="0.59" fill="#6464e0"/><circle cx="222.4" cy="182.5" r="0.54" fill="#161650"/><circle cx="221.5" cy="174.7" r="0.48" fill="#20206a"/><circle cx="228.0" cy="174.7" r="0.52" fill="#5a5ad8"/><circle cx="224.3" cy="169.6" r="0.59" fill="#20206a"/><circle cx="222.9" cy="175.0" r="0.45" fill="#20206a"/><circle cx="220.5" cy="174.3" r="0.48" fill="#161650"/><circle cx="220.9" cy="179.5" r="0.47" fill="#161650"/><circle cx="225.6" cy="164.8" r="0.45" fill="#6464e0"/><circle cx="218.8" cy="173.0" r="0.43" fill="#20206a"/><circle cx="229.2" cy="174.0" r="0.40" fill="#161650"/><circle cx="224.4" cy="182.0" r="0.53" fill="#20206a"/><circle cx="219.0" cy="178.0" r="0.50" fill="#20206a"/><circle cx="216.5" cy="173.7" r="0.53" fill="#5a5ad8"/><circle cx="225.7" cy="181.1" r="0.44" fill="#161650"/><circle cx="221.1" cy="174.1" r="0.48" fill="#20206a"/><circle cx="228.3" cy="174.2" r="0.48" fill="#20206a"/><circle cx="228.1" cy="175.7" r="0.38" fill="#111"/><circle cx="229.1" cy="176.1" r="0.58" fill="#5a5ad8"/><circle cx="219.6" cy="169.8" r="0.40" fill="#20206a"/><circle cx="226.1" cy="168.7" r="0.46" fill="#161650"/><circle cx="229.6" cy="174.4" r="0.38" fill="#701a30"/><circle cx="220.9" cy="177.2" r="0.37" fill="#161650"/><circle cx="223.6" cy="170.7" r="0.38" fill="#5a5ad8"/><circle cx="222.6" cy="178.7" r="0.55" fill="#20206a"/><circle cx="222.2" cy="164.0" r="0.39" fill="#6464e0"/><circle cx="217.5" cy="167.6" r="0.60" fill="#20206a"/><circle cx="221.9" cy="178.8" r="0.45" fill="#5a5ad8"/><circle cx="221.3" cy="170.6" r="0.50" fill="#20206a"/><circle cx="228.0" cy="167.1" r="0.44" fill="#6464e0"/><circle cx="220.4" cy="181.9" r="0.37" fill="#20206a"/><circle cx="227.2" cy="170.0" r="0.55" fill="#161650"/><circle cx="225.8" cy="180.7" r="0.49" fill="#6464e0"/><circle cx="217.6" cy="175.2" r="0.55" fill="#5a5ad8"/><circle cx="226.4" cy="179.1" r="0.58" fill="#111"/><circle cx="216.6" cy="170.1" r="0.54" fill="#5a5ad8"/><circle cx="226.7" cy="171.6" r="0.40" fill="#701a30"/><circle cx="227.3" cy="169.5" r="0.35" fill="#161650"/><circle cx="220.2" cy="176.3" r="0.41" fill="#161650"/><circle cx="229.6" cy="176.8" r="0.40" fill="#5a5ad8"/><circle cx="221.0" cy="167.1" r="0.45" fill="#161650"/><circle cx="225.7" cy="178.7" r="0.38" fill="#161650"/><circle cx="221.6" cy="173.6" r="0.51" fill="#20206a"/><circle cx="218.9" cy="170.3" r="0.59" fill="#6464e0"/><circle cx="224.7" cy="179.7" r="0.49" fill="#161650"/><circle cx="225.2" cy="182.6" r="0.58" fill="#6464e0"/></g>
<path d="M227,166 C229.5,167.5 230.5,170 230,173.5 C229.5,176.5 228.5,178.5 227,179.5" stroke="#1a1020" stroke-width="0.9" fill="none" opacity="0.6"/>
<path d="M207.5,175.5 C207,173 210,170.5 213,169 C214.5,168 216,167.8 216,169 C216,172 214.5,175.5 212,176.8 C210,177.8 208,177.5 207.5,175.5 Z" fill="#d4483a"/>
<path d="M207.8,175.8 C208.5,174 210.5,172 213,170.5" stroke="#401010" stroke-width="0.7" fill="none" opacity="0.75"/>
<path d="M209.5,168.6 C209.5,166.2 211.5,165 213.5,164.6 L215.6,164.4 L215.2,165.9 L213.2,166.4 C212.2,166.9 211.6,168 211.1,169.2 Z" fill="#3232a8"/>
<circle cx="217.3" cy="161" r="0.6" fill="#c0392b"/>
<text x="261.6" y="17.5" font-size="10.5" fill="#111" stroke="#111" stroke-width="0" text-anchor="start" >B</text>
<text x="292.4" y="51.9" font-size="3.8" fill="#4a4a4a" text-anchor="middle" textLength="21.3" lengthAdjust="spacingAndGlyphs" >[Ungated] TIME</text>
<text x="344.2" y="51.9" font-size="3.8" fill="#4a4a4a" text-anchor="middle" textLength="25.4" lengthAdjust="spacingAndGlyphs" >[blood] FS INT / FS</text>
<text x="344.2" y="55.5" font-size="3.8" fill="#4a4a4a" text-anchor="middle" textLength="7.5" lengthAdjust="spacingAndGlyphs" >PEAK</text>
<text x="395.8" y="51.9" font-size="3.8" fill="#4a4a4a" text-anchor="middle" textLength="25" lengthAdjust="spacingAndGlyphs" >[singlet] FS INT /</text>
<text x="395.5" y="55.5" font-size="3.8" fill="#4a4a4a" text-anchor="middle" textLength="9.4" lengthAdjust="spacingAndGlyphs" >SS INT</text>
<text x="444.6" y="51.9" font-size="3.8" fill="#4a4a4a" text-anchor="middle" textLength="27" lengthAdjust="spacingAndGlyphs" >[lymphocytes] cd3 /</text>
<text x="444.6" y="55.5" font-size="3.8" fill="#4a4a4a" text-anchor="middle" textLength="8" lengthAdjust="spacingAndGlyphs" >Dump</text>
<text x="495.1" y="51.9" font-size="3.8" fill="#4a4a4a" text-anchor="middle" textLength="31" lengthAdjust="spacingAndGlyphs" >[viable CD3] cd4 / TCR</text>
<text x="495.1" y="55.5" font-size="3.8" fill="#4a4a4a" text-anchor="middle" textLength="9.4" lengthAdjust="spacingAndGlyphs" >V-Beta</text>
<text x="292.7" y="105.5" font-size="6.4" fill="#2a2627" stroke="#2a2627" stroke-width="0.13" text-anchor="middle" textLength="11.6" lengthAdjust="spacingAndGlyphs" >Time</text>
<text x="343.85" y="105.5" font-size="6.4" fill="#2a2627" stroke="#2a2627" stroke-width="0.13" text-anchor="middle" textLength="13.9" lengthAdjust="spacingAndGlyphs" >FS INT</text>
<text x="395.7" y="105.5" font-size="6.4" fill="#2a2627" stroke="#2a2627" stroke-width="0.13" text-anchor="middle" textLength="13.9" lengthAdjust="spacingAndGlyphs" >FS INT</text>
<text x="445.7" y="105.5" font-size="6.4" fill="#2a2627" stroke="#2a2627" stroke-width="0.13" text-anchor="middle" textLength="8.8" lengthAdjust="spacingAndGlyphs" >cd3</text>
<text x="493.7" y="105.5" font-size="6.4" fill="#2a2627" stroke="#2a2627" stroke-width="0.13" text-anchor="middle" textLength="8.8" lengthAdjust="spacingAndGlyphs" >cd4</text>
<text x="266.8" y="74.1" font-size="6.3" fill="#2a2627" stroke="#2a2627" stroke-width="0" text-anchor="middle" transform="rotate(-90 266.8 74.1)" textLength="15" lengthAdjust="spacingAndGlyphs">Count</text>
<text x="316.4" y="74.6" font-size="6.0" fill="#2a2627" stroke="#2a2627" stroke-width="0" text-anchor="middle" transform="rotate(-90 316.4 74.6)" textLength="19.8" lengthAdjust="spacingAndGlyphs">FS PEAK</text>
<text x="368.4" y="77.8" font-size="6.0" fill="#2a2627" stroke="#2a2627" stroke-width="0" text-anchor="middle" transform="rotate(-90 368.4 77.8)" textLength="14.7" lengthAdjust="spacingAndGlyphs">SS INT</text>
<text x="420.2" y="74.6" font-size="6.0" fill="#2a2627" stroke="#2a2627" stroke-width="0" text-anchor="middle" transform="rotate(-90 420.2 74.6)" textLength="13.9" lengthAdjust="spacingAndGlyphs">Dump</text>
<text x="469.8" y="74.6" font-size="6.0" fill="#2a2627" stroke="#2a2627" stroke-width="0" text-anchor="middle" transform="rotate(-90 469.8 74.6)" textLength="22.7" lengthAdjust="spacingAndGlyphs">TCR V-Beta</text>
<line x1="277" y1="58.0" x2="308.5" y2="58.0" stroke="#cfcfcf" stroke-width="1"/>
<line x1="308.5" y1="57.6" x2="308.5" y2="89.6" stroke="#cfcfcf" stroke-width="0.5"/>
<line x1="277" y1="57.6" x2="277" y2="89.6" stroke="#a0a0a0" stroke-width="0.5"/>
<line x1="277" y1="89.6" x2="308.5" y2="89.6" stroke="#a0a0a0" stroke-width="0.5"/>
<text x="275.6" y="65.1" font-size="3.5" fill="#505050" text-anchor="end" >600</text>
<text x="275.6" y="73.63333333333333" font-size="3.5" fill="#505050" text-anchor="end" >400</text>
<text x="275.6" y="82.16666666666666" font-size="3.5" fill="#505050" text-anchor="end" >200</text>
<text x="275.6" y="90.69999999999999" font-size="3.5" fill="#505050" text-anchor="end" >0</text>
<path d="M277.3,89.6 L277.3,84.39999999999999 L279,84.0 L282,84.19999999999999 L285.3,84.3 L287.5,87.1 L289.3,89.6 Z" fill="#e2443a"/>
<path d="M277.3,84.3 L279,83.8 L282,84.1 L285.3,84.1 L287.5,86.89999999999999 L289.3,89.3" stroke="#222" stroke-width="0.6" fill="none"/>
<path d="M290.2,89.6 L290.2,79.6 L291.5,78.19999999999999 L293.7,82.6 L297,81.39999999999999 L302,80.69999999999999 L308.3,80.39999999999999 L308.3,89.6 Z" fill="#e2443a"/>
<path d="M290.2,79.39999999999999 L291.5,78.0 L293.7,82.39999999999999 L297,81.19999999999999 L302,80.39999999999999 L308.3,80.19999999999999" stroke="#222" stroke-width="0.65" fill="none"/>
<rect x="290.2" y="86.8" width="18.1" height="0.9" fill="#3a9a5a"/>
<rect x="290.2" y="87.69999999999999" width="18.1" height="1.7" fill="#2a3f9a"/>
<rect x="289" y="60.2" width="1.4" height="29.39999999999999" fill="#f0cac4"/>
<rect x="289" y="60.2" width="1.4" height="3" fill="#d0d0d0"/>
<text x="278.3" y="79.8" font-size="2.8" fill="#777" text-anchor="start" textLength="3.5" lengthAdjust="spacingAndGlyphs" >live</text>
<text x="296.5" y="75.0" font-size="2.8" fill="#777" text-anchor="start" textLength="6" lengthAdjust="spacingAndGlyphs" >blood</text>
<line x1="278.6" y1="91.8" x2="276.4" y2="94.19999999999999" stroke="#888" stroke-width="0.8"/>
<line x1="284.7" y1="91.8" x2="282.5" y2="94.79999999999998" stroke="#888" stroke-width="0.8"/>
<line x1="290.8" y1="91.8" x2="288.6" y2="94.79999999999998" stroke="#888" stroke-width="0.8"/>
<line x1="296.9" y1="91.8" x2="294.7" y2="94.79999999999998" stroke="#888" stroke-width="0.8"/>
<line x1="303.0" y1="91.8" x2="300.8" y2="94.79999999999998" stroke="#888" stroke-width="0.8"/>
<line x1="309.1" y1="91.8" x2="306.9" y2="94.79999999999998" stroke="#888" stroke-width="0.8"/>
<line x1="328.3" y1="58.0" x2="360.5" y2="58.0" stroke="#cfcfcf" stroke-width="1"/>
<line x1="360.5" y1="57.6" x2="360.5" y2="89.6" stroke="#cfcfcf" stroke-width="0.5"/>
<line x1="328.3" y1="57.6" x2="328.3" y2="89.6" stroke="#a0a0a0" stroke-width="0.5"/>
<line x1="328.3" y1="89.6" x2="360.5" y2="89.6" stroke="#a0a0a0" stroke-width="0.5"/>
<text x="326.1" y="90.69999999999999" font-size="3.5" fill="#505050" text-anchor="end" >0</text>
<line x1="329.9" y1="91.8" x2="327.7" y2="94.39999999999999" stroke="#888" stroke-width="0.8"/>
<text x="326.1" y="84.49999999999999" font-size="3.5" fill="#505050" text-anchor="end" >200</text>
<line x1="336.1" y1="91.8" x2="333.9" y2="94.39999999999999" stroke="#888" stroke-width="0.8"/>
<text x="326.1" y="78.3" font-size="3.5" fill="#505050" text-anchor="end" >400</text>
<line x1="342.4" y1="91.8" x2="340.2" y2="94.39999999999999" stroke="#888" stroke-width="0.8"/>
<text x="326.1" y="72.1" font-size="3.5" fill="#505050" text-anchor="end" >600</text>
<line x1="348.6" y1="91.8" x2="346.4" y2="94.39999999999999" stroke="#888" stroke-width="0.8"/>
<text x="326.1" y="65.89999999999999" font-size="3.5" fill="#505050" text-anchor="end" >800</text>
<line x1="354.9" y1="91.8" x2="352.7" y2="94.39999999999999" stroke="#888" stroke-width="0.8"/>
<text x="326.1" y="59.7" font-size="3.5" fill="#505050" text-anchor="end" >1000</text>
<line x1="361.1" y1="91.8" x2="358.9" y2="94.39999999999999" stroke="#888" stroke-width="0.8"/>
<path d="M331.5,86.3 L348,74.6 L360,67.1 L360,73.6 L348,80.6 L333,87.8 Z" fill="#c4c4c4" opacity="0.45"/>
<g fill="#7a7a7a" opacity="0.45"><circle cx="341.9" cy="79.4" r="0.3"/><circle cx="352.4" cy="69.9" r="0.3"/><circle cx="347.1" cy="73.1" r="0.3"/><circle cx="358.4" cy="73.9" r="0.3"/><circle cx="359.2" cy="71.4" r="0.3"/><circle cx="353.2" cy="75.5" r="0.3"/><circle cx="346.4" cy="80.7" r="0.3"/><circle cx="342.4" cy="81.5" r="0.3"/><circle cx="355.6" cy="75.1" r="0.3"/><circle cx="351.2" cy="84.1" r="0.3"/><circle cx="350.6" cy="76.1" r="0.3"/><circle cx="351.4" cy="75.8" r="0.3"/><circle cx="348.0" cy="78.3" r="0.3"/><circle cx="364.2" cy="70.1" r="0.3"/><circle cx="353.0" cy="78.5" r="0.3"/><circle cx="363.8" cy="69.5" r="0.3"/><circle cx="350.2" cy="85.5" r="0.3"/><circle cx="341.0" cy="82.2" r="0.3"/><circle cx="358.3" cy="80.2" r="0.3"/><circle cx="341.7" cy="75.7" r="0.3"/><circle cx="354.6" cy="73.9" r="0.3"/><circle cx="349.1" cy="80.1" r="0.3"/><circle cx="352.8" cy="77.4" r="0.3"/><circle cx="349.9" cy="82.1" r="0.3"/><circle cx="360.8" cy="72.0" r="0.3"/><circle cx="349.0" cy="80.9" r="0.3"/><circle cx="352.8" cy="73.5" r="0.3"/><circle cx="349.4" cy="81.7" r="0.3"/><circle cx="349.9" cy="77.2" r="0.3"/><circle cx="352.3" cy="76.7" r="0.3"/><circle cx="348.5" cy="73.3" r="0.3"/><circle cx="362.6" cy="71.5" r="0.3"/><circle cx="346.6" cy="83.1" r="0.3"/><circle cx="353.0" cy="76.5" r="0.3"/><circle cx="360.7" cy="78.8" r="0.3"/><circle cx="356.7" cy="79.1" r="0.3"/><circle cx="363.7" cy="67.2" r="0.3"/><circle cx="348.6" cy="81.3" r="0.3"/><circle cx="339.6" cy="83.4" r="0.3"/><circle cx="360.8" cy="75.1" r="0.3"/><circle cx="352.3" cy="71.2" r="0.3"/><circle cx="367.0" cy="70.0" r="0.3"/><circle cx="356.6" cy="75.8" r="0.3"/><circle cx="338.0" cy="80.8" r="0.3"/><circle cx="345.6" cy="86.5" r="0.3"/><circle cx="345.3" cy="80.2" r="0.3"/><circle cx="350.1" cy="79.8" r="0.3"/><circle cx="354.6" cy="76.3" r="0.3"/><circle cx="338.7" cy="75.3" r="0.3"/><circle cx="352.4" cy="77.6" r="0.3"/><circle cx="358.9" cy="72.8" r="0.3"/><circle cx="347.6" cy="80.8" r="0.3"/><circle cx="339.6" cy="81.1" r="0.3"/><circle cx="344.8" cy="82.0" r="0.3"/><circle cx="365.6" cy="71.5" r="0.3"/><circle cx="358.7" cy="73.9" r="0.3"/><circle cx="352.2" cy="75.5" r="0.3"/><circle cx="346.0" cy="73.2" r="0.3"/><circle cx="341.5" cy="79.2" r="0.3"/><circle cx="357.3" cy="76.0" r="0.3"/><circle cx="360.4" cy="76.8" r="0.3"/><circle cx="350.4" cy="81.1" r="0.3"/><circle cx="363.7" cy="70.2" r="0.3"/><circle cx="357.8" cy="73.2" r="0.3"/><circle cx="340.7" cy="83.9" r="0.3"/><circle cx="345.8" cy="80.9" r="0.3"/><circle cx="348.4" cy="80.1" r="0.3"/><circle cx="339.8" cy="90.3" r="0.3"/><circle cx="359.4" cy="71.7" r="0.3"/><circle cx="345.1" cy="81.0" r="0.3"/><circle cx="355.9" cy="76.0" r="0.3"/><circle cx="351.0" cy="71.7" r="0.3"/><circle cx="345.4" cy="84.9" r="0.3"/><circle cx="350.6" cy="73.3" r="0.3"/><circle cx="343.5" cy="77.6" r="0.3"/><circle cx="345.9" cy="84.1" r="0.3"/><circle cx="351.0" cy="81.0" r="0.3"/><circle cx="350.3" cy="73.5" r="0.3"/><circle cx="349.8" cy="85.3" r="0.3"/><circle cx="344.6" cy="78.1" r="0.3"/><circle cx="359.3" cy="73.1" r="0.3"/><circle cx="352.9" cy="81.0" r="0.3"/><circle cx="339.9" cy="85.3" r="0.3"/><circle cx="342.2" cy="78.4" r="0.3"/><circle cx="347.1" cy="83.4" r="0.3"/><circle cx="347.6" cy="73.9" r="0.3"/><circle cx="345.7" cy="85.3" r="0.3"/><circle cx="356.3" cy="71.2" r="0.3"/><circle cx="366.6" cy="67.5" r="0.3"/><circle cx="342.9" cy="81.9" r="0.3"/><circle cx="359.4" cy="77.7" r="0.3"/><circle cx="357.3" cy="72.7" r="0.3"/><circle cx="345.3" cy="76.4" r="0.3"/><circle cx="349.7" cy="76.5" r="0.3"/><circle cx="350.9" cy="73.7" r="0.3"/><circle cx="346.4" cy="77.6" r="0.3"/><circle cx="341.4" cy="79.5" r="0.3"/><circle cx="342.7" cy="78.8" r="0.3"/><circle cx="354.9" cy="75.6" r="0.3"/><circle cx="342.9" cy="83.8" r="0.3"/><circle cx="354.9" cy="79.9" r="0.3"/><circle cx="349.4" cy="77.9" r="0.3"/><circle cx="346.6" cy="80.5" r="0.3"/><circle cx="354.5" cy="76.1" r="0.3"/><circle cx="350.1" cy="79.9" r="0.3"/><circle cx="351.9" cy="77.8" r="0.3"/><circle cx="345.1" cy="81.7" r="0.3"/><circle cx="343.3" cy="79.5" r="0.3"/><circle cx="354.9" cy="81.8" r="0.3"/><circle cx="357.6" cy="73.8" r="0.3"/><circle cx="351.1" cy="80.6" r="0.3"/><circle cx="361.8" cy="75.1" r="0.3"/><circle cx="350.0" cy="78.7" r="0.3"/><circle cx="348.4" cy="78.2" r="0.3"/><circle cx="345.0" cy="80.3" r="0.3"/><circle cx="335.1" cy="83.1" r="0.3"/><circle cx="352.6" cy="73.8" r="0.3"/><circle cx="352.9" cy="72.5" r="0.3"/><circle cx="349.1" cy="79.9" r="0.3"/><circle cx="343.2" cy="79.9" r="0.3"/><circle cx="366.5" cy="66.5" r="0.3"/><circle cx="345.5" cy="79.0" r="0.3"/><circle cx="351.2" cy="77.4" r="0.3"/><circle cx="358.6" cy="75.7" r="0.3"/><circle cx="347.8" cy="78.3" r="0.3"/><circle cx="339.6" cy="79.6" r="0.3"/><circle cx="347.1" cy="82.1" r="0.3"/><circle cx="352.9" cy="79.0" r="0.3"/><circle cx="357.0" cy="73.6" r="0.3"/><circle cx="364.3" cy="68.3" r="0.3"/><circle cx="346.3" cy="79.0" r="0.3"/><circle cx="358.4" cy="72.9" r="0.3"/><circle cx="346.7" cy="81.4" r="0.3"/><circle cx="358.4" cy="73.0" r="0.3"/><circle cx="350.8" cy="81.1" r="0.3"/><circle cx="358.8" cy="76.0" r="0.3"/><circle cx="346.3" cy="81.2" r="0.3"/><circle cx="351.0" cy="72.1" r="0.3"/><circle cx="359.1" cy="73.2" r="0.3"/><circle cx="351.7" cy="84.1" r="0.3"/><circle cx="351.0" cy="75.4" r="0.3"/><circle cx="351.3" cy="79.1" r="0.3"/><circle cx="356.3" cy="74.4" r="0.3"/><circle cx="344.3" cy="79.3" r="0.3"/><circle cx="344.2" cy="78.3" r="0.3"/><circle cx="350.2" cy="76.5" r="0.3"/><circle cx="350.3" cy="75.5" r="0.3"/><circle cx="345.0" cy="80.5" r="0.3"/><circle cx="350.2" cy="81.6" r="0.3"/><circle cx="345.3" cy="81.5" r="0.3"/><circle cx="349.0" cy="74.7" r="0.3"/><circle cx="356.1" cy="75.2" r="0.3"/><circle cx="337.9" cy="87.0" r="0.3"/><circle cx="356.2" cy="72.2" r="0.3"/><circle cx="362.4" cy="71.5" r="0.3"/><circle cx="344.1" cy="83.3" r="0.3"/><circle cx="346.8" cy="75.9" r="0.3"/><circle cx="337.1" cy="86.4" r="0.3"/><circle cx="347.0" cy="81.9" r="0.3"/><circle cx="352.9" cy="74.9" r="0.3"/></g>
<path d="M332,86.0 L359.5,67.6" stroke="#9a9a9a" stroke-width="2.4" stroke-linecap="round"/>
<path d="M332.5,86.0 L352,71.6" stroke="#b94fb0" stroke-width="2.0"/>
<path d="M333.5,85.19999999999999 L339,79.8" stroke="#2a9a8a" stroke-width="1.4"/>
<path d="M340,79.1 L346,74.1" stroke="#3a6ad0" stroke-width="1.1"/>
<path d="M341,79.1 L350,73.6" stroke="#d050b8" stroke-width="0.9"/>
<text x="336.4" y="73.4" font-size="2.8" fill="#666" text-anchor="start" textLength="8" lengthAdjust="spacingAndGlyphs" >Singlets</text>
<line x1="380.3" y1="58.0" x2="411.8" y2="58.0" stroke="#cfcfcf" stroke-width="1"/>
<line x1="411.8" y1="57.6" x2="411.8" y2="89.6" stroke="#cfcfcf" stroke-width="0.5"/>
<line x1="380.3" y1="57.6" x2="380.3" y2="89.6" stroke="#a0a0a0" stroke-width="0.5"/>
<line x1="380.3" y1="89.6" x2="411.8" y2="89.6" stroke="#a0a0a0" stroke-width="0.5"/>
<text x="378.1" y="90.69999999999999" font-size="3.5" fill="#505050" text-anchor="end" >0</text>
<line x1="381.9" y1="91.8" x2="379.7" y2="94.39999999999999" stroke="#888" stroke-width="0.8"/>
<text x="378.1" y="84.49999999999999" font-size="3.5" fill="#505050" text-anchor="end" >200</text>
<line x1="388.0" y1="91.8" x2="385.8" y2="94.39999999999999" stroke="#888" stroke-width="0.8"/>
<text x="378.1" y="78.3" font-size="3.5" fill="#505050" text-anchor="end" >400</text>
<line x1="394.1" y1="91.8" x2="391.9" y2="94.39999999999999" stroke="#888" stroke-width="0.8"/>
<text x="378.1" y="72.1" font-size="3.5" fill="#505050" text-anchor="end" >600</text>
<line x1="400.2" y1="91.8" x2="398.0" y2="94.39999999999999" stroke="#888" stroke-width="0.8"/>
<text x="378.1" y="65.89999999999999" font-size="3.5" fill="#505050" text-anchor="end" >800</text>
<line x1="406.3" y1="91.8" x2="404.1" y2="94.39999999999999" stroke="#888" stroke-width="0.8"/>
<text x="378.1" y="59.7" font-size="3.5" fill="#505050" text-anchor="end" >1000</text>
<line x1="412.4" y1="91.8" x2="410.2" y2="94.39999999999999" stroke="#888" stroke-width="0.8"/>
<path d="M381,88.6 L381,65.6 L385,59.6 L390,61.6 L394,71.6 L398,76.6 L411,73.6 L411,88.6 Z" fill="#cfcfcf" opacity="0.35"/>
<g fill="#6a6a6a" opacity="0.45"><circle cx="390.2" cy="79.8" r="0.3"/><circle cx="384.9" cy="64.6" r="0.3"/><circle cx="388.8" cy="82.7" r="0.3"/><circle cx="389.0" cy="62.8" r="0.3"/><circle cx="384.9" cy="70.4" r="0.3"/><circle cx="390.9" cy="70.7" r="0.3"/><circle cx="386.4" cy="69.2" r="0.3"/><circle cx="388.2" cy="65.7" r="0.3"/><circle cx="387.6" cy="72.6" r="0.3"/><circle cx="393.2" cy="70.4" r="0.3"/><circle cx="390.9" cy="63.8" r="0.3"/><circle cx="390.6" cy="71.9" r="0.3"/><circle cx="385.8" cy="70.7" r="0.3"/><circle cx="390.7" cy="68.6" r="0.3"/><circle cx="391.1" cy="81.3" r="0.3"/><circle cx="393.2" cy="81.9" r="0.3"/><circle cx="383.3" cy="73.2" r="0.3"/><circle cx="385.3" cy="77.3" r="0.3"/><circle cx="387.9" cy="72.4" r="0.3"/><circle cx="389.2" cy="66.8" r="0.3"/><circle cx="388.0" cy="65.9" r="0.3"/><circle cx="394.8" cy="67.7" r="0.3"/><circle cx="387.7" cy="58.7" r="0.3"/><circle cx="382.6" cy="65.1" r="0.3"/><circle cx="390.4" cy="76.1" r="0.3"/><circle cx="388.6" cy="66.4" r="0.3"/><circle cx="394.0" cy="63.8" r="0.3"/><circle cx="384.7" cy="74.2" r="0.3"/><circle cx="384.2" cy="72.7" r="0.3"/><circle cx="391.0" cy="70.4" r="0.3"/><circle cx="389.0" cy="71.1" r="0.3"/><circle cx="385.3" cy="49.0" r="0.3"/><circle cx="383.4" cy="70.8" r="0.3"/><circle cx="382.0" cy="67.0" r="0.3"/><circle cx="388.3" cy="80.0" r="0.3"/><circle cx="382.9" cy="67.2" r="0.3"/><circle cx="388.4" cy="74.5" r="0.3"/><circle cx="382.9" cy="83.7" r="0.3"/><circle cx="384.8" cy="78.4" r="0.3"/><circle cx="386.9" cy="73.7" r="0.3"/><circle cx="393.4" cy="75.7" r="0.3"/><circle cx="388.1" cy="63.9" r="0.3"/><circle cx="385.4" cy="61.0" r="0.3"/><circle cx="394.6" cy="60.1" r="0.3"/><circle cx="378.7" cy="82.2" r="0.3"/><circle cx="392.0" cy="68.4" r="0.3"/><circle cx="390.5" cy="65.2" r="0.3"/><circle cx="385.6" cy="74.3" r="0.3"/><circle cx="389.0" cy="67.7" r="0.3"/><circle cx="393.2" cy="75.9" r="0.3"/><circle cx="388.1" cy="62.6" r="0.3"/><circle cx="388.1" cy="68.6" r="0.3"/><circle cx="387.4" cy="76.4" r="0.3"/><circle cx="385.6" cy="72.7" r="0.3"/><circle cx="390.4" cy="73.3" r="0.3"/><circle cx="395.6" cy="58.7" r="0.3"/><circle cx="387.4" cy="62.6" r="0.3"/><circle cx="387.4" cy="88.3" r="0.3"/><circle cx="381.9" cy="68.8" r="0.3"/><circle cx="389.9" cy="71.5" r="0.3"/><circle cx="390.8" cy="60.0" r="0.3"/><circle cx="391.0" cy="64.2" r="0.3"/><circle cx="383.4" cy="74.7" r="0.3"/><circle cx="389.3" cy="65.7" r="0.3"/><circle cx="384.8" cy="69.4" r="0.3"/><circle cx="387.6" cy="69.6" r="0.3"/><circle cx="384.1" cy="54.6" r="0.3"/><circle cx="392.1" cy="72.0" r="0.3"/><circle cx="383.3" cy="59.9" r="0.3"/><circle cx="385.2" cy="67.9" r="0.3"/><circle cx="380.2" cy="80.5" r="0.3"/><circle cx="389.1" cy="68.5" r="0.3"/><circle cx="388.8" cy="72.3" r="0.3"/><circle cx="391.3" cy="71.8" r="0.3"/><circle cx="392.0" cy="81.5" r="0.3"/><circle cx="386.5" cy="67.6" r="0.3"/><circle cx="384.5" cy="69.1" r="0.3"/><circle cx="385.0" cy="70.8" r="0.3"/><circle cx="388.6" cy="74.5" r="0.3"/><circle cx="383.5" cy="78.2" r="0.3"/><circle cx="386.5" cy="69.9" r="0.3"/><circle cx="385.8" cy="56.8" r="0.3"/><circle cx="388.4" cy="58.4" r="0.3"/><circle cx="391.4" cy="71.0" r="0.3"/><circle cx="393.0" cy="75.2" r="0.3"/><circle cx="390.0" cy="80.4" r="0.3"/><circle cx="387.4" cy="81.4" r="0.3"/><circle cx="387.1" cy="72.5" r="0.3"/><circle cx="385.2" cy="74.5" r="0.3"/><circle cx="389.9" cy="67.2" r="0.3"/><circle cx="383.1" cy="70.4" r="0.3"/><circle cx="389.0" cy="69.6" r="0.3"/><circle cx="384.1" cy="65.6" r="0.3"/><circle cx="386.6" cy="52.4" r="0.3"/><circle cx="385.5" cy="80.7" r="0.3"/><circle cx="383.1" cy="69.2" r="0.3"/><circle cx="393.4" cy="75.6" r="0.3"/><circle cx="390.7" cy="69.6" r="0.3"/><circle cx="382.9" cy="90.7" r="0.3"/><circle cx="388.6" cy="72.3" r="0.3"/><circle cx="393.3" cy="76.3" r="0.3"/><circle cx="387.7" cy="63.0" r="0.3"/><circle cx="387.0" cy="69.6" r="0.3"/><circle cx="385.2" cy="64.6" r="0.3"/><circle cx="384.0" cy="69.8" r="0.3"/><circle cx="385.5" cy="73.5" r="0.3"/><circle cx="391.1" cy="72.9" r="0.3"/><circle cx="387.6" cy="81.5" r="0.3"/><circle cx="389.8" cy="60.4" r="0.3"/><circle cx="385.0" cy="72.0" r="0.3"/><circle cx="384.5" cy="75.9" r="0.3"/><circle cx="381.4" cy="57.4" r="0.3"/><circle cx="390.9" cy="74.7" r="0.3"/><circle cx="381.9" cy="71.2" r="0.3"/><circle cx="392.2" cy="62.9" r="0.3"/><circle cx="383.4" cy="62.2" r="0.3"/><circle cx="384.1" cy="58.5" r="0.3"/><circle cx="385.8" cy="60.5" r="0.3"/><circle cx="387.7" cy="86.2" r="0.3"/><circle cx="383.9" cy="76.9" r="0.3"/><circle cx="391.6" cy="54.5" r="0.3"/><circle cx="387.9" cy="70.5" r="0.3"/><circle cx="386.3" cy="76.2" r="0.3"/><circle cx="386.0" cy="73.1" r="0.3"/><circle cx="386.2" cy="69.7" r="0.3"/><circle cx="384.8" cy="86.5" r="0.3"/><circle cx="387.3" cy="62.8" r="0.3"/><circle cx="394.3" cy="81.6" r="0.3"/><circle cx="386.8" cy="66.0" r="0.3"/><circle cx="384.9" cy="79.2" r="0.3"/><circle cx="386.4" cy="65.7" r="0.3"/><circle cx="390.4" cy="68.7" r="0.3"/><circle cx="387.3" cy="84.1" r="0.3"/><circle cx="390.5" cy="79.3" r="0.3"/><circle cx="389.0" cy="79.6" r="0.3"/><circle cx="386.9" cy="77.3" r="0.3"/><circle cx="391.2" cy="67.7" r="0.3"/><circle cx="383.0" cy="74.3" r="0.3"/><circle cx="387.1" cy="74.9" r="0.3"/><circle cx="385.4" cy="74.3" r="0.3"/><circle cx="390.9" cy="87.1" r="0.3"/><circle cx="393.7" cy="73.3" r="0.3"/><circle cx="392.5" cy="66.2" r="0.3"/><circle cx="391.6" cy="71.6" r="0.3"/><circle cx="392.1" cy="72.9" r="0.3"/><circle cx="386.7" cy="65.7" r="0.3"/><circle cx="391.9" cy="71.0" r="0.3"/><circle cx="390.0" cy="74.0" r="0.3"/><circle cx="380.4" cy="74.8" r="0.3"/><circle cx="386.2" cy="73.3" r="0.3"/><circle cx="389.2" cy="58.0" r="0.3"/><circle cx="386.4" cy="70.2" r="0.3"/><circle cx="388.9" cy="77.2" r="0.3"/><circle cx="385.1" cy="69.0" r="0.3"/><circle cx="389.7" cy="57.8" r="0.3"/><circle cx="394.0" cy="64.0" r="0.3"/><circle cx="392.1" cy="71.6" r="0.3"/><circle cx="394.1" cy="77.9" r="0.3"/><circle cx="387.4" cy="58.8" r="0.3"/><circle cx="388.0" cy="72.9" r="0.3"/><circle cx="389.4" cy="61.8" r="0.3"/><circle cx="384.6" cy="65.2" r="0.3"/><circle cx="388.5" cy="64.6" r="0.3"/><circle cx="387.1" cy="77.1" r="0.3"/><circle cx="386.0" cy="80.0" r="0.3"/><circle cx="388.5" cy="68.9" r="0.3"/><circle cx="391.3" cy="74.1" r="0.3"/><circle cx="386.5" cy="66.5" r="0.3"/><circle cx="387.3" cy="73.0" r="0.3"/><circle cx="391.5" cy="72.5" r="0.3"/><circle cx="385.4" cy="61.4" r="0.3"/><circle cx="388.4" cy="73.4" r="0.3"/><circle cx="391.4" cy="66.9" r="0.3"/><circle cx="383.0" cy="76.4" r="0.3"/><circle cx="386.9" cy="62.1" r="0.3"/><circle cx="393.3" cy="76.8" r="0.3"/><circle cx="387.7" cy="72.6" r="0.3"/><circle cx="384.9" cy="77.5" r="0.3"/><circle cx="386.0" cy="67.5" r="0.3"/><circle cx="386.5" cy="62.7" r="0.3"/><circle cx="391.1" cy="82.2" r="0.3"/><circle cx="390.2" cy="56.3" r="0.3"/><circle cx="386.4" cy="66.2" r="0.3"/><circle cx="388.8" cy="55.7" r="0.3"/><circle cx="380.0" cy="67.4" r="0.3"/><circle cx="390.9" cy="69.3" r="0.3"/><circle cx="395.2" cy="64.7" r="0.3"/><circle cx="387.6" cy="69.6" r="0.3"/><circle cx="384.6" cy="78.3" r="0.3"/><circle cx="382.9" cy="63.3" r="0.3"/><circle cx="386.2" cy="67.3" r="0.3"/><circle cx="391.4" cy="66.9" r="0.3"/><circle cx="389.3" cy="67.4" r="0.3"/><circle cx="392.0" cy="70.5" r="0.3"/><circle cx="388.4" cy="59.3" r="0.3"/><circle cx="390.0" cy="66.1" r="0.3"/><circle cx="390.6" cy="74.1" r="0.3"/><circle cx="389.4" cy="78.5" r="0.3"/><circle cx="388.8" cy="64.5" r="0.3"/><circle cx="388.1" cy="71.8" r="0.3"/><circle cx="383.4" cy="74.9" r="0.3"/><circle cx="392.6" cy="72.3" r="0.3"/><circle cx="387.9" cy="73.8" r="0.3"/><circle cx="391.3" cy="66.9" r="0.3"/><circle cx="390.8" cy="65.4" r="0.3"/><circle cx="389.4" cy="74.2" r="0.3"/><circle cx="383.0" cy="75.2" r="0.3"/><circle cx="388.3" cy="59.0" r="0.3"/><circle cx="385.9" cy="66.3" r="0.3"/><circle cx="384.4" cy="73.5" r="0.3"/><circle cx="384.8" cy="71.0" r="0.3"/><circle cx="383.7" cy="68.8" r="0.3"/><circle cx="393.9" cy="73.5" r="0.3"/><circle cx="382.1" cy="64.1" r="0.3"/><circle cx="387.0" cy="59.3" r="0.3"/><circle cx="390.9" cy="70.3" r="0.3"/><circle cx="387.3" cy="71.0" r="0.3"/><circle cx="385.1" cy="62.7" r="0.3"/><circle cx="376.7" cy="59.3" r="0.3"/><circle cx="388.3" cy="75.3" r="0.3"/></g>
<g fill="#808080" opacity="0.4"><circle cx="404.2" cy="80.8" r="0.3"/><circle cx="393.3" cy="84.4" r="0.3"/><circle cx="403.0" cy="82.1" r="0.3"/><circle cx="402.2" cy="87.3" r="0.3"/><circle cx="407.4" cy="85.9" r="0.3"/><circle cx="399.2" cy="78.8" r="0.3"/><circle cx="394.1" cy="79.6" r="0.3"/><circle cx="382.4" cy="87.6" r="0.3"/><circle cx="402.1" cy="81.0" r="0.3"/><circle cx="407.1" cy="79.1" r="0.3"/><circle cx="402.9" cy="84.0" r="0.3"/><circle cx="390.3" cy="88.1" r="0.3"/><circle cx="402.1" cy="83.3" r="0.3"/><circle cx="394.0" cy="78.0" r="0.3"/><circle cx="412.9" cy="78.4" r="0.3"/><circle cx="398.3" cy="82.7" r="0.3"/><circle cx="411.1" cy="70.3" r="0.3"/><circle cx="411.4" cy="81.8" r="0.3"/><circle cx="407.4" cy="76.3" r="0.3"/><circle cx="403.3" cy="87.6" r="0.3"/><circle cx="400.5" cy="78.0" r="0.3"/><circle cx="398.1" cy="78.4" r="0.3"/><circle cx="406.7" cy="81.5" r="0.3"/><circle cx="397.7" cy="84.1" r="0.3"/><circle cx="393.5" cy="74.5" r="0.3"/><circle cx="418.3" cy="78.0" r="0.3"/><circle cx="412.5" cy="80.3" r="0.3"/><circle cx="399.6" cy="82.9" r="0.3"/><circle cx="395.2" cy="77.1" r="0.3"/><circle cx="399.7" cy="79.0" r="0.3"/><circle cx="406.2" cy="89.0" r="0.3"/><circle cx="392.9" cy="76.9" r="0.3"/><circle cx="406.4" cy="82.9" r="0.3"/><circle cx="408.9" cy="77.5" r="0.3"/><circle cx="405.3" cy="80.5" r="0.3"/><circle cx="389.8" cy="82.6" r="0.3"/><circle cx="390.2" cy="83.0" r="0.3"/><circle cx="398.0" cy="79.8" r="0.3"/><circle cx="416.1" cy="87.2" r="0.3"/><circle cx="404.1" cy="82.4" r="0.3"/><circle cx="395.8" cy="86.0" r="0.3"/><circle cx="405.5" cy="77.0" r="0.3"/><circle cx="389.5" cy="80.7" r="0.3"/><circle cx="399.9" cy="84.4" r="0.3"/><circle cx="394.0" cy="76.9" r="0.3"/><circle cx="404.1" cy="81.1" r="0.3"/><circle cx="407.8" cy="85.5" r="0.3"/><circle cx="394.9" cy="70.5" r="0.3"/><circle cx="401.5" cy="77.6" r="0.3"/><circle cx="402.8" cy="69.1" r="0.3"/><circle cx="400.4" cy="81.1" r="0.3"/><circle cx="397.3" cy="82.9" r="0.3"/><circle cx="401.9" cy="81.7" r="0.3"/><circle cx="410.2" cy="86.3" r="0.3"/><circle cx="409.5" cy="82.3" r="0.3"/><circle cx="402.1" cy="83.1" r="0.3"/><circle cx="403.4" cy="77.6" r="0.3"/><circle cx="403.9" cy="84.6" r="0.3"/><circle cx="398.3" cy="76.0" r="0.3"/><circle cx="405.2" cy="77.5" r="0.3"/><circle cx="390.8" cy="79.6" r="0.3"/><circle cx="391.0" cy="82.1" r="0.3"/><circle cx="397.6" cy="81.0" r="0.3"/><circle cx="409.1" cy="85.5" r="0.3"/><circle cx="400.5" cy="71.0" r="0.3"/><circle cx="397.9" cy="75.7" r="0.3"/><circle cx="407.4" cy="87.4" r="0.3"/><circle cx="406.0" cy="83.5" r="0.3"/><circle cx="405.0" cy="83.6" r="0.3"/><circle cx="398.6" cy="84.5" r="0.3"/><circle cx="399.0" cy="75.8" r="0.3"/><circle cx="401.5" cy="87.5" r="0.3"/><circle cx="399.9" cy="73.1" r="0.3"/><circle cx="409.8" cy="81.7" r="0.3"/><circle cx="405.0" cy="78.7" r="0.3"/><circle cx="404.5" cy="87.6" r="0.3"/><circle cx="396.7" cy="83.7" r="0.3"/><circle cx="403.6" cy="77.0" r="0.3"/><circle cx="402.4" cy="83.2" r="0.3"/><circle cx="395.3" cy="85.7" r="0.3"/><circle cx="393.4" cy="85.7" r="0.3"/><circle cx="405.5" cy="81.8" r="0.3"/><circle cx="395.7" cy="77.4" r="0.3"/><circle cx="385.8" cy="80.6" r="0.3"/><circle cx="400.3" cy="83.1" r="0.3"/><circle cx="408.3" cy="81.6" r="0.3"/><circle cx="398.8" cy="84.9" r="0.3"/><circle cx="401.1" cy="80.6" r="0.3"/><circle cx="393.0" cy="85.2" r="0.3"/><circle cx="396.5" cy="89.0" r="0.3"/><circle cx="395.2" cy="78.7" r="0.3"/><circle cx="401.8" cy="77.7" r="0.3"/><circle cx="391.1" cy="75.8" r="0.3"/><circle cx="395.5" cy="79.7" r="0.3"/><circle cx="408.0" cy="83.6" r="0.3"/><circle cx="403.4" cy="84.2" r="0.3"/><circle cx="386.1" cy="78.1" r="0.3"/><circle cx="397.4" cy="76.3" r="0.3"/><circle cx="404.5" cy="77.9" r="0.3"/><circle cx="393.6" cy="84.5" r="0.3"/><circle cx="396.7" cy="79.7" r="0.3"/><circle cx="390.8" cy="84.6" r="0.3"/><circle cx="401.5" cy="86.9" r="0.3"/><circle cx="416.4" cy="83.6" r="0.3"/><circle cx="398.7" cy="77.4" r="0.3"/><circle cx="412.5" cy="79.8" r="0.3"/><circle cx="405.5" cy="81.7" r="0.3"/><circle cx="377.9" cy="81.3" r="0.3"/><circle cx="402.3" cy="81.6" r="0.3"/><circle cx="400.2" cy="81.7" r="0.3"/><circle cx="394.2" cy="83.3" r="0.3"/><circle cx="397.7" cy="81.4" r="0.3"/><circle cx="412.6" cy="81.6" r="0.3"/><circle cx="394.1" cy="82.3" r="0.3"/><circle cx="391.2" cy="81.4" r="0.3"/><circle cx="410.9" cy="76.2" r="0.3"/><circle cx="400.2" cy="77.0" r="0.3"/><circle cx="402.4" cy="82.1" r="0.3"/><circle cx="402.4" cy="79.5" r="0.3"/><circle cx="388.1" cy="76.9" r="0.3"/><circle cx="398.2" cy="84.2" r="0.3"/><circle cx="387.4" cy="85.3" r="0.3"/><circle cx="396.0" cy="73.6" r="0.3"/><circle cx="411.2" cy="82.2" r="0.3"/><circle cx="394.7" cy="81.8" r="0.3"/><circle cx="405.3" cy="74.6" r="0.3"/><circle cx="410.0" cy="77.1" r="0.3"/><circle cx="406.8" cy="78.3" r="0.3"/><circle cx="390.3" cy="78.2" r="0.3"/><circle cx="397.6" cy="81.2" r="0.3"/><circle cx="389.7" cy="76.5" r="0.3"/><circle cx="403.3" cy="79.1" r="0.3"/><circle cx="397.6" cy="82.6" r="0.3"/><circle cx="392.1" cy="89.1" r="0.3"/><circle cx="396.0" cy="82.2" r="0.3"/><circle cx="400.0" cy="84.9" r="0.3"/><circle cx="398.1" cy="77.4" r="0.3"/><circle cx="402.8" cy="83.2" r="0.3"/><circle cx="400.1" cy="89.3" r="0.3"/><circle cx="406.3" cy="86.5" r="0.3"/><circle cx="409.9" cy="85.0" r="0.3"/><circle cx="399.9" cy="87.5" r="0.3"/><circle cx="398.6" cy="81.3" r="0.3"/><circle cx="410.7" cy="84.6" r="0.3"/><circle cx="393.8" cy="79.4" r="0.3"/><circle cx="395.0" cy="85.5" r="0.3"/><circle cx="398.7" cy="80.8" r="0.3"/><circle cx="396.5" cy="78.5" r="0.3"/><circle cx="405.7" cy="76.5" r="0.3"/><circle cx="401.5" cy="78.6" r="0.3"/></g>
<g fill="#666" opacity="0.5"><circle cx="381.2" cy="75.2" r="0.3"/><circle cx="386.0" cy="74.7" r="0.3"/><circle cx="381.3" cy="70.7" r="0.3"/><circle cx="386.6" cy="76.2" r="0.3"/><circle cx="382.6" cy="73.1" r="0.3"/><circle cx="377.2" cy="77.4" r="0.3"/><circle cx="381.8" cy="76.8" r="0.3"/><circle cx="389.0" cy="75.6" r="0.3"/><circle cx="384.2" cy="80.9" r="0.3"/><circle cx="384.0" cy="77.6" r="0.3"/><circle cx="381.2" cy="73.5" r="0.3"/><circle cx="379.8" cy="81.1" r="0.3"/><circle cx="388.4" cy="75.4" r="0.3"/><circle cx="384.4" cy="75.8" r="0.3"/><circle cx="392.9" cy="81.5" r="0.3"/><circle cx="384.6" cy="80.3" r="0.3"/><circle cx="389.0" cy="73.6" r="0.3"/><circle cx="386.9" cy="80.1" r="0.3"/><circle cx="385.1" cy="80.8" r="0.3"/><circle cx="388.7" cy="77.8" r="0.3"/><circle cx="384.0" cy="81.4" r="0.3"/><circle cx="385.6" cy="79.4" r="0.3"/><circle cx="391.0" cy="79.3" r="0.3"/><circle cx="384.9" cy="72.5" r="0.3"/><circle cx="386.2" cy="79.2" r="0.3"/><circle cx="386.9" cy="80.0" r="0.3"/><circle cx="387.3" cy="78.7" r="0.3"/><circle cx="385.6" cy="80.1" r="0.3"/><circle cx="383.1" cy="74.0" r="0.3"/><circle cx="382.2" cy="78.2" r="0.3"/><circle cx="379.9" cy="75.9" r="0.3"/><circle cx="384.6" cy="79.0" r="0.3"/><circle cx="382.1" cy="78.1" r="0.3"/><circle cx="385.3" cy="75.7" r="0.3"/><circle cx="385.4" cy="77.1" r="0.3"/><circle cx="381.9" cy="76.5" r="0.3"/><circle cx="382.5" cy="85.3" r="0.3"/><circle cx="384.5" cy="75.3" r="0.3"/><circle cx="380.9" cy="77.8" r="0.3"/><circle cx="386.3" cy="78.0" r="0.3"/><circle cx="381.1" cy="73.7" r="0.3"/><circle cx="381.9" cy="78.6" r="0.3"/><circle cx="382.7" cy="77.5" r="0.3"/><circle cx="390.5" cy="70.4" r="0.3"/><circle cx="384.4" cy="77.7" r="0.3"/><circle cx="380.7" cy="81.9" r="0.3"/><circle cx="384.4" cy="79.3" r="0.3"/><circle cx="386.9" cy="83.4" r="0.3"/><circle cx="383.2" cy="75.3" r="0.3"/><circle cx="381.4" cy="72.9" r="0.3"/><circle cx="390.5" cy="76.0" r="0.3"/><circle cx="380.0" cy="80.5" r="0.3"/><circle cx="390.4" cy="74.0" r="0.3"/><circle cx="385.0" cy="72.3" r="0.3"/><circle cx="379.2" cy="77.0" r="0.3"/><circle cx="381.6" cy="73.1" r="0.3"/><circle cx="385.2" cy="79.3" r="0.3"/><circle cx="384.5" cy="82.8" r="0.3"/><circle cx="383.2" cy="76.4" r="0.3"/><circle cx="387.8" cy="86.7" r="0.3"/><circle cx="391.2" cy="81.6" r="0.3"/><circle cx="385.5" cy="72.4" r="0.3"/><circle cx="389.5" cy="77.4" r="0.3"/><circle cx="392.1" cy="78.0" r="0.3"/><circle cx="379.3" cy="82.2" r="0.3"/><circle cx="385.6" cy="75.6" r="0.3"/><circle cx="385.6" cy="77.8" r="0.3"/><circle cx="386.0" cy="70.6" r="0.3"/><circle cx="385.2" cy="79.5" r="0.3"/><circle cx="381.4" cy="82.9" r="0.3"/><circle cx="384.7" cy="69.6" r="0.3"/><circle cx="389.9" cy="76.3" r="0.3"/><circle cx="385.3" cy="77.0" r="0.3"/><circle cx="391.0" cy="77.9" r="0.3"/><circle cx="383.0" cy="75.2" r="0.3"/><circle cx="386.9" cy="80.2" r="0.3"/><circle cx="383.1" cy="81.6" r="0.3"/><circle cx="383.1" cy="78.4" r="0.3"/><circle cx="386.8" cy="78.9" r="0.3"/><circle cx="386.0" cy="78.9" r="0.3"/></g>
<ellipse cx="387.4" cy="74.6" rx="1.3" ry="8" fill="#c858b6" opacity="0.6"/>
<g fill="#c050b0" opacity="0.7"><circle cx="386.3" cy="74.8" r="0.4"/><circle cx="387.7" cy="70.5" r="0.4"/><circle cx="386.8" cy="81.5" r="0.4"/><circle cx="386.6" cy="75.0" r="0.4"/><circle cx="386.7" cy="77.1" r="0.4"/><circle cx="388.0" cy="80.7" r="0.4"/><circle cx="388.5" cy="69.9" r="0.4"/><circle cx="386.9" cy="71.2" r="0.4"/><circle cx="386.9" cy="75.7" r="0.4"/><circle cx="387.3" cy="70.4" r="0.4"/><circle cx="386.7" cy="88.2" r="0.4"/><circle cx="386.1" cy="86.3" r="0.4"/><circle cx="386.3" cy="68.9" r="0.4"/><circle cx="387.0" cy="72.3" r="0.4"/><circle cx="387.2" cy="70.8" r="0.4"/><circle cx="387.0" cy="76.0" r="0.4"/><circle cx="388.2" cy="76.3" r="0.4"/><circle cx="388.3" cy="75.0" r="0.4"/><circle cx="389.3" cy="60.0" r="0.4"/><circle cx="387.0" cy="75.7" r="0.4"/><circle cx="387.2" cy="76.1" r="0.4"/><circle cx="387.7" cy="81.4" r="0.4"/><circle cx="387.2" cy="73.8" r="0.4"/><circle cx="386.5" cy="75.0" r="0.4"/><circle cx="387.0" cy="76.2" r="0.4"/><circle cx="387.1" cy="76.0" r="0.4"/><circle cx="386.9" cy="67.9" r="0.4"/><circle cx="386.8" cy="70.9" r="0.4"/><circle cx="388.2" cy="73.3" r="0.4"/><circle cx="387.6" cy="79.2" r="0.4"/><circle cx="387.9" cy="73.1" r="0.4"/><circle cx="387.6" cy="62.8" r="0.4"/><circle cx="388.0" cy="70.1" r="0.4"/><circle cx="385.7" cy="77.7" r="0.4"/><circle cx="387.0" cy="65.8" r="0.4"/><circle cx="387.9" cy="80.8" r="0.4"/><circle cx="387.4" cy="70.9" r="0.4"/><circle cx="387.9" cy="83.8" r="0.4"/><circle cx="386.6" cy="72.5" r="0.4"/><circle cx="386.7" cy="74.9" r="0.4"/><circle cx="387.4" cy="77.0" r="0.4"/><circle cx="387.0" cy="76.2" r="0.4"/><circle cx="389.2" cy="67.1" r="0.4"/><circle cx="387.1" cy="73.4" r="0.4"/><circle cx="387.0" cy="72.9" r="0.4"/><circle cx="387.1" cy="76.5" r="0.4"/><circle cx="387.0" cy="74.6" r="0.4"/><circle cx="387.3" cy="78.2" r="0.4"/><circle cx="385.4" cy="77.0" r="0.4"/><circle cx="386.0" cy="70.5" r="0.4"/></g>
<ellipse cx="389" cy="83.0" rx="2.8" ry="3.5" fill="#c858b6"/>
<ellipse cx="398" cy="84.39999999999999" rx="4.4" ry="2.2" fill="#c858b6"/>
<ellipse cx="389" cy="83.0" rx="1.8" ry="2.4" fill="#27a08a"/>
<ellipse cx="398" cy="84.39999999999999" rx="2.8" ry="1.3" fill="#27a08a"/>
<ellipse cx="389" cy="83.0" rx="0.8" ry="1.1" fill="#e0502a"/>
<path d="M390.5,88.1 L393,76.6 L408,72.6 L410.5,75.6 L404,88.1 Z" fill="none" stroke="#777" stroke-width="0.4"/>
<text x="385.5" y="74.8" font-size="2.8" fill="#888" text-anchor="start" textLength="12" lengthAdjust="spacingAndGlyphs" >lymphocytes</text>
<line x1="429.3" y1="58.0" x2="461" y2="58.0" stroke="#cfcfcf" stroke-width="1"/>
<line x1="461" y1="57.6" x2="461" y2="89.6" stroke="#cfcfcf" stroke-width="0.5"/>
<line x1="429.3" y1="57.6" x2="429.3" y2="89.6" stroke="#a0a0a0" stroke-width="0.5"/>
<line x1="429.3" y1="89.6" x2="461" y2="89.6" stroke="#a0a0a0" stroke-width="0.5"/>
<text x="425.8" y="59.6" font-size="3.5" fill="#505050" text-anchor="end" >10⁴</text>
<text x="425.8" y="65.8" font-size="3.5" fill="#505050" text-anchor="end" >10³</text>
<text x="425.8" y="73.1" font-size="3.5" fill="#505050" text-anchor="end" >10²</text>
<text x="425.8" y="79.69999999999999" font-size="3.5" fill="#505050" text-anchor="end" >10¹</text>
<text x="425.8" y="86.69999999999999" font-size="3.5" fill="#505050" text-anchor="end" >0</text>
<line x1="434.5" y1="92.1" x2="433.0" y2="94.39999999999999" stroke="#888" stroke-width="0.8"/>
<line x1="446.2" y1="92.1" x2="444.7" y2="94.39999999999999" stroke="#888" stroke-width="0.8"/>
<line x1="454.2" y1="92.1" x2="452.7" y2="94.39999999999999" stroke="#888" stroke-width="0.8"/>
<line x1="461.5" y1="92.1" x2="460.0" y2="94.39999999999999" stroke="#888" stroke-width="0.8"/>
<g fill="#999" opacity="0.4"><circle cx="440.8" cy="78.0" r="0.3"/><circle cx="453.9" cy="90.8" r="0.3"/><circle cx="434.2" cy="67.1" r="0.3"/><circle cx="437.6" cy="70.7" r="0.3"/><circle cx="443.8" cy="61.9" r="0.3"/><circle cx="447.3" cy="60.6" r="0.3"/><circle cx="449.6" cy="65.4" r="0.3"/><circle cx="447.6" cy="77.8" r="0.3"/><circle cx="444.2" cy="68.2" r="0.3"/><circle cx="438.7" cy="63.2" r="0.3"/><circle cx="458.0" cy="79.4" r="0.3"/><circle cx="460.7" cy="77.3" r="0.3"/><circle cx="448.0" cy="68.3" r="0.3"/><circle cx="443.1" cy="59.2" r="0.3"/><circle cx="453.4" cy="83.1" r="0.3"/><circle cx="457.6" cy="87.6" r="0.3"/><circle cx="436.6" cy="50.3" r="0.3"/><circle cx="451.6" cy="76.2" r="0.3"/><circle cx="437.0" cy="65.2" r="0.3"/><circle cx="451.9" cy="90.7" r="0.3"/><circle cx="448.9" cy="67.3" r="0.3"/><circle cx="452.2" cy="84.2" r="0.3"/><circle cx="435.1" cy="80.9" r="0.3"/><circle cx="437.0" cy="74.0" r="0.3"/><circle cx="449.3" cy="74.3" r="0.3"/><circle cx="432.5" cy="77.4" r="0.3"/><circle cx="433.2" cy="80.3" r="0.3"/><circle cx="429.0" cy="69.0" r="0.3"/><circle cx="441.0" cy="67.0" r="0.3"/><circle cx="446.9" cy="76.1" r="0.3"/><circle cx="460.4" cy="78.0" r="0.3"/><circle cx="454.4" cy="63.0" r="0.3"/><circle cx="454.1" cy="82.0" r="0.3"/><circle cx="456.7" cy="87.2" r="0.3"/><circle cx="437.5" cy="61.2" r="0.3"/><circle cx="438.6" cy="67.7" r="0.3"/><circle cx="456.8" cy="54.9" r="0.3"/><circle cx="445.4" cy="83.2" r="0.3"/><circle cx="443.7" cy="60.1" r="0.3"/><circle cx="437.6" cy="78.8" r="0.3"/><circle cx="451.3" cy="72.1" r="0.3"/><circle cx="447.9" cy="86.9" r="0.3"/><circle cx="442.1" cy="92.5" r="0.3"/><circle cx="436.7" cy="91.8" r="0.3"/><circle cx="432.9" cy="86.4" r="0.3"/><circle cx="445.1" cy="59.0" r="0.3"/><circle cx="446.1" cy="78.9" r="0.3"/><circle cx="450.0" cy="74.7" r="0.3"/><circle cx="443.5" cy="70.8" r="0.3"/><circle cx="445.8" cy="85.2" r="0.3"/><circle cx="449.0" cy="80.3" r="0.3"/><circle cx="446.6" cy="87.0" r="0.3"/><circle cx="465.4" cy="94.7" r="0.3"/><circle cx="434.7" cy="65.3" r="0.3"/><circle cx="436.1" cy="70.2" r="0.3"/><circle cx="461.7" cy="70.1" r="0.3"/><circle cx="445.9" cy="71.6" r="0.3"/><circle cx="428.9" cy="62.2" r="0.3"/><circle cx="438.8" cy="65.4" r="0.3"/><circle cx="442.1" cy="69.1" r="0.3"/></g>
<g fill="#b070a8" opacity="0.5"><circle cx="435.8" cy="79.5" r="0.35"/><circle cx="434.8" cy="82.0" r="0.35"/><circle cx="433.0" cy="69.8" r="0.35"/><circle cx="432.7" cy="79.3" r="0.35"/><circle cx="435.3" cy="78.2" r="0.35"/><circle cx="432.4" cy="84.6" r="0.35"/><circle cx="432.1" cy="75.2" r="0.35"/><circle cx="433.3" cy="78.9" r="0.35"/><circle cx="435.3" cy="70.1" r="0.35"/><circle cx="433.6" cy="79.2" r="0.35"/><circle cx="432.6" cy="77.1" r="0.35"/><circle cx="434.2" cy="70.9" r="0.35"/><circle cx="432.4" cy="77.3" r="0.35"/><circle cx="433.7" cy="78.7" r="0.35"/><circle cx="436.7" cy="82.1" r="0.35"/><circle cx="434.5" cy="74.0" r="0.35"/><circle cx="435.1" cy="73.7" r="0.35"/><circle cx="435.9" cy="83.5" r="0.35"/><circle cx="431.6" cy="71.7" r="0.35"/><circle cx="433.8" cy="75.6" r="0.35"/><circle cx="432.5" cy="71.5" r="0.35"/><circle cx="434.9" cy="74.9" r="0.35"/><circle cx="432.2" cy="76.2" r="0.35"/><circle cx="435.2" cy="86.0" r="0.35"/><circle cx="434.1" cy="76.0" r="0.35"/><circle cx="433.0" cy="75.0" r="0.35"/><circle cx="434.6" cy="83.9" r="0.35"/><circle cx="435.5" cy="76.4" r="0.35"/><circle cx="435.1" cy="81.4" r="0.35"/><circle cx="434.5" cy="65.3" r="0.35"/><circle cx="433.9" cy="76.2" r="0.35"/><circle cx="435.6" cy="76.2" r="0.35"/><circle cx="434.5" cy="78.9" r="0.35"/><circle cx="435.5" cy="81.4" r="0.35"/><circle cx="435.2" cy="85.1" r="0.35"/><circle cx="435.2" cy="81.5" r="0.35"/><circle cx="433.7" cy="78.1" r="0.35"/><circle cx="436.6" cy="77.8" r="0.35"/><circle cx="434.6" cy="77.2" r="0.35"/><circle cx="433.7" cy="62.6" r="0.35"/><circle cx="436.1" cy="71.7" r="0.35"/><circle cx="433.0" cy="84.4" r="0.35"/><circle cx="431.2" cy="77.7" r="0.35"/><circle cx="433.3" cy="68.4" r="0.35"/><circle cx="434.7" cy="73.7" r="0.35"/><circle cx="433.9" cy="75.5" r="0.35"/><circle cx="434.8" cy="88.9" r="0.35"/><circle cx="432.5" cy="81.9" r="0.35"/><circle cx="433.2" cy="75.8" r="0.35"/><circle cx="431.7" cy="71.9" r="0.35"/><circle cx="433.5" cy="81.7" r="0.35"/><circle cx="434.3" cy="80.5" r="0.35"/><circle cx="434.9" cy="70.7" r="0.35"/><circle cx="435.7" cy="76.0" r="0.35"/><circle cx="434.8" cy="76.7" r="0.35"/><circle cx="434.3" cy="80.8" r="0.35"/><circle cx="431.3" cy="87.7" r="0.35"/><circle cx="434.2" cy="83.1" r="0.35"/><circle cx="434.3" cy="78.0" r="0.35"/><circle cx="432.4" cy="75.6" r="0.35"/></g>
<rect x="429.3" y="66.6" width="0.9" height="21.999999999999993" fill="#e88ab8" opacity="0.7"/>
<ellipse cx="447.1" cy="83.6" rx="4.5" ry="3.5" fill="#c858b6"/>
<ellipse cx="447.1" cy="83.6" rx="2.6" ry="2" fill="#27a08a"/>
<ellipse cx="447.1" cy="83.6" rx="1" ry="0.8" fill="#e0602a"/>
<text x="440" y="75.8" font-size="2.4" fill="#aaa" text-anchor="start" >Viable CD3  93.77</text>
<rect x="439.1" y="79.3" width="13.2" height="7.4" fill="none" stroke="#777" stroke-width="0.4"/>
<line x1="479.8" y1="58.0" x2="510.5" y2="58.0" stroke="#cfcfcf" stroke-width="1"/>
<line x1="510.5" y1="57.6" x2="510.5" y2="89.6" stroke="#cfcfcf" stroke-width="0.5"/>
<line x1="479.8" y1="57.6" x2="479.8" y2="89.6" stroke="#a0a0a0" stroke-width="0.5"/>
<line x1="479.8" y1="89.6" x2="510.5" y2="89.6" stroke="#a0a0a0" stroke-width="0.5"/>
<text x="476.2" y="59.6" font-size="3.5" fill="#505050" text-anchor="end" >10⁴</text>
<text x="476.2" y="65.8" font-size="3.5" fill="#505050" text-anchor="end" >10³</text>
<text x="476.2" y="73.1" font-size="3.5" fill="#505050" text-anchor="end" >10²</text>
<text x="476.2" y="79.69999999999999" font-size="3.5" fill="#505050" text-anchor="end" >10¹</text>
<text x="476.2" y="86.69999999999999" font-size="3.5" fill="#505050" text-anchor="end" >0</text>
<line x1="485.4" y1="92.1" x2="483.9" y2="94.39999999999999" stroke="#888" stroke-width="0.8"/>
<line x1="495.6" y1="92.1" x2="494.1" y2="94.39999999999999" stroke="#888" stroke-width="0.8"/>
<line x1="503.5" y1="92.1" x2="502.0" y2="94.39999999999999" stroke="#888" stroke-width="0.8"/>
<line x1="510.5" y1="92.1" x2="509.0" y2="94.39999999999999" stroke="#888" stroke-width="0.8"/>
<rect x="482" y="81.19999999999999" width="5.8" height="5.9" fill="none" stroke="#777" stroke-width="0.4"/>
<rect x="490.7" y="81.19999999999999" width="8.8" height="5.9" fill="none" stroke="#777" stroke-width="0.4"/>
<ellipse cx="484.9" cy="84.3" rx="1.7" ry="1.7" fill="#c858b6"/><ellipse cx="484.9" cy="84.3" rx="0.8" ry="0.8" fill="#27a08a"/>
<ellipse cx="495.1" cy="84.3" rx="3" ry="2.3" fill="#c858b6"/><ellipse cx="495.1" cy="84.3" rx="1.7" ry="1.3" fill="#27a08a"/>
<g fill="#aaa" opacity="0.6"><circle cx="495.2" cy="77.4" r="0.35"/><circle cx="496.3" cy="78.0" r="0.35"/><circle cx="495.3" cy="77.5" r="0.35"/><circle cx="496.2" cy="74.9" r="0.35"/><circle cx="497.0" cy="75.1" r="0.35"/><circle cx="493.5" cy="75.0" r="0.35"/><circle cx="494.1" cy="74.9" r="0.35"/><circle cx="496.3" cy="75.6" r="0.35"/><circle cx="497.4" cy="75.3" r="0.35"/><circle cx="496.0" cy="75.8" r="0.35"/><circle cx="492.9" cy="76.0" r="0.35"/><circle cx="495.8" cy="77.5" r="0.35"/><circle cx="493.7" cy="77.6" r="0.35"/><circle cx="496.9" cy="74.5" r="0.35"/><circle cx="495.8" cy="78.0" r="0.35"/><circle cx="493.0" cy="76.7" r="0.35"/><circle cx="492.5" cy="76.2" r="0.35"/><circle cx="497.3" cy="75.4" r="0.35"/><circle cx="496.1" cy="73.1" r="0.35"/><circle cx="494.5" cy="75.1" r="0.35"/><circle cx="496.4" cy="75.5" r="0.35"/><circle cx="496.4" cy="75.8" r="0.35"/><circle cx="494.4" cy="76.1" r="0.35"/><circle cx="495.7" cy="75.4" r="0.35"/><circle cx="496.3" cy="74.5" r="0.35"/></g>
<text x="481.5" y="79.1" font-size="2.6" fill="#888" text-anchor="start" textLength="5.5" lengthAdjust="spacingAndGlyphs" >PB CD8</text>
<text x="501.5" y="85.0" font-size="2.6" fill="#888" text-anchor="start" textLength="6" lengthAdjust="spacingAndGlyphs" >PB CD4</text>
<text x="292.4" y="116.9" font-size="3.8" fill="#4a4a4a" text-anchor="middle" textLength="21.3" lengthAdjust="spacingAndGlyphs" >[Ungated] TIME</text>
<text x="344.2" y="116.9" font-size="3.8" fill="#4a4a4a" text-anchor="middle" textLength="23" lengthAdjust="spacingAndGlyphs" >[ukn] FS INT / FS</text>
<text x="344.2" y="120.5" font-size="3.8" fill="#4a4a4a" text-anchor="middle" textLength="7.5" lengthAdjust="spacingAndGlyphs" >PEAK</text>
<text x="395.8" y="116.9" font-size="3.8" fill="#4a4a4a" text-anchor="middle" textLength="25" lengthAdjust="spacingAndGlyphs" >[singlet] FS INT /</text>
<text x="395.5" y="120.5" font-size="3.8" fill="#4a4a4a" text-anchor="middle" textLength="9.4" lengthAdjust="spacingAndGlyphs" >SS INT</text>
<text x="444.6" y="116.9" font-size="3.8" fill="#4a4a4a" text-anchor="middle" textLength="27" lengthAdjust="spacingAndGlyphs" >[lymphocytes] cd3 /</text>
<text x="444.6" y="120.5" font-size="3.8" fill="#4a4a4a" text-anchor="middle" textLength="8" lengthAdjust="spacingAndGlyphs" >Dump</text>
<text x="495.1" y="116.9" font-size="3.8" fill="#4a4a4a" text-anchor="middle" textLength="31" lengthAdjust="spacingAndGlyphs" >[viable CD3] cd4 / TCR</text>
<text x="495.1" y="120.5" font-size="3.8" fill="#4a4a4a" text-anchor="middle" textLength="9.4" lengthAdjust="spacingAndGlyphs" >V-Beta</text>
<text x="292.7" y="170.5" font-size="6.4" fill="#2a2627" stroke="#2a2627" stroke-width="0.13" text-anchor="middle" textLength="11.6" lengthAdjust="spacingAndGlyphs" >Time</text>
<text x="343.85" y="170.5" font-size="6.4" fill="#2a2627" stroke="#2a2627" stroke-width="0.13" text-anchor="middle" textLength="13.9" lengthAdjust="spacingAndGlyphs" >FS INT</text>
<text x="395.7" y="170.5" font-size="6.4" fill="#2a2627" stroke="#2a2627" stroke-width="0.13" text-anchor="middle" textLength="13.9" lengthAdjust="spacingAndGlyphs" >FS INT</text>
<text x="445.7" y="170.5" font-size="6.4" fill="#2a2627" stroke="#2a2627" stroke-width="0.13" text-anchor="middle" textLength="8.8" lengthAdjust="spacingAndGlyphs" >cd3</text>
<text x="493.7" y="170.5" font-size="6.4" fill="#2a2627" stroke="#2a2627" stroke-width="0.13" text-anchor="middle" textLength="8.8" lengthAdjust="spacingAndGlyphs" >cd4</text>
<text x="266.8" y="139.1" font-size="6.3" fill="#2a2627" stroke="#2a2627" stroke-width="0" text-anchor="middle" transform="rotate(-90 266.8 139.1)" textLength="15" lengthAdjust="spacingAndGlyphs">Count</text>
<text x="316.4" y="139.6" font-size="6.0" fill="#2a2627" stroke="#2a2627" stroke-width="0" text-anchor="middle" transform="rotate(-90 316.4 139.6)" textLength="19.8" lengthAdjust="spacingAndGlyphs">FS PEAK</text>
<text x="368.4" y="142.8" font-size="6.0" fill="#2a2627" stroke="#2a2627" stroke-width="0" text-anchor="middle" transform="rotate(-90 368.4 142.8)" textLength="14.7" lengthAdjust="spacingAndGlyphs">SS INT</text>
<text x="420.2" y="139.6" font-size="6.0" fill="#2a2627" stroke="#2a2627" stroke-width="0" text-anchor="middle" transform="rotate(-90 420.2 139.6)" textLength="13.9" lengthAdjust="spacingAndGlyphs">Dump</text>
<text x="469.8" y="139.6" font-size="6.0" fill="#2a2627" stroke="#2a2627" stroke-width="0" text-anchor="middle" transform="rotate(-90 469.8 139.6)" textLength="22.7" lengthAdjust="spacingAndGlyphs">TCR V-Beta</text>
<line x1="277" y1="123.0" x2="308.5" y2="123.0" stroke="#cfcfcf" stroke-width="1"/>
<line x1="308.5" y1="122.6" x2="308.5" y2="154.6" stroke="#cfcfcf" stroke-width="0.5"/>
<line x1="277" y1="122.6" x2="277" y2="154.6" stroke="#a0a0a0" stroke-width="0.5"/>
<line x1="277" y1="154.6" x2="308.5" y2="154.6" stroke="#a0a0a0" stroke-width="0.5"/>
<text x="275.6" y="130.1" font-size="3.5" fill="#505050" text-anchor="end" >600</text>
<text x="275.6" y="138.63333333333333" font-size="3.5" fill="#505050" text-anchor="end" >400</text>
<text x="275.6" y="147.16666666666666" font-size="3.5" fill="#505050" text-anchor="end" >200</text>
<text x="275.6" y="155.7" font-size="3.5" fill="#505050" text-anchor="end" >0</text>
<path d="M277.3,154.6 L277.3,149.4 L279,149.0 L282,149.2 L285.3,149.29999999999998 L287.5,152.1 L289.3,154.6 Z" fill="#e2443a"/>
<path d="M277.3,149.29999999999998 L279,148.79999999999998 L282,149.1 L285.3,149.1 L287.5,151.9 L289.3,154.29999999999998" stroke="#222" stroke-width="0.6" fill="none"/>
<path d="M290.2,154.6 L290.2,144.6 L291.5,143.2 L293.7,147.6 L297,146.4 L302,145.7 L308.3,145.4 L308.3,154.6 Z" fill="#e2443a"/>
<path d="M290.2,144.4 L291.5,143.0 L293.7,147.4 L297,146.2 L302,145.4 L308.3,145.2" stroke="#222" stroke-width="0.65" fill="none"/>
<rect x="290.2" y="151.79999999999998" width="18.1" height="0.9" fill="#3a9a5a"/>
<rect x="290.2" y="152.7" width="18.1" height="1.7" fill="#2a3f9a"/>
<rect x="289" y="125.19999999999999" width="1.4" height="29.4" fill="#f0cac4"/>
<rect x="289" y="125.19999999999999" width="1.4" height="3" fill="#d0d0d0"/>
<text x="278.3" y="144.79999999999998" font-size="2.8" fill="#777" text-anchor="start" textLength="3.5" lengthAdjust="spacingAndGlyphs" >live</text>
<text x="296.5" y="140.0" font-size="2.8" fill="#777" text-anchor="start" textLength="6" lengthAdjust="spacingAndGlyphs" >blood</text>
<line x1="278.6" y1="156.79999999999998" x2="276.4" y2="159.2" stroke="#888" stroke-width="0.8"/>
<line x1="284.7" y1="156.79999999999998" x2="282.5" y2="159.79999999999998" stroke="#888" stroke-width="0.8"/>
<line x1="290.8" y1="156.79999999999998" x2="288.6" y2="159.79999999999998" stroke="#888" stroke-width="0.8"/>
<line x1="296.9" y1="156.79999999999998" x2="294.7" y2="159.79999999999998" stroke="#888" stroke-width="0.8"/>
<line x1="303.0" y1="156.79999999999998" x2="300.8" y2="159.79999999999998" stroke="#888" stroke-width="0.8"/>
<line x1="309.1" y1="156.79999999999998" x2="306.9" y2="159.79999999999998" stroke="#888" stroke-width="0.8"/>
<line x1="328.3" y1="123.0" x2="360.5" y2="123.0" stroke="#cfcfcf" stroke-width="1"/>
<line x1="360.5" y1="122.6" x2="360.5" y2="154.6" stroke="#cfcfcf" stroke-width="0.5"/>
<line x1="328.3" y1="122.6" x2="328.3" y2="154.6" stroke="#a0a0a0" stroke-width="0.5"/>
<line x1="328.3" y1="154.6" x2="360.5" y2="154.6" stroke="#a0a0a0" stroke-width="0.5"/>
<text x="326.1" y="155.7" font-size="3.5" fill="#505050" text-anchor="end" >0</text>
<line x1="329.9" y1="156.79999999999998" x2="327.7" y2="159.4" stroke="#888" stroke-width="0.8"/>
<text x="326.1" y="149.5" font-size="3.5" fill="#505050" text-anchor="end" >200</text>
<line x1="336.1" y1="156.79999999999998" x2="333.9" y2="159.4" stroke="#888" stroke-width="0.8"/>
<text x="326.1" y="143.29999999999998" font-size="3.5" fill="#505050" text-anchor="end" >400</text>
<line x1="342.4" y1="156.79999999999998" x2="340.2" y2="159.4" stroke="#888" stroke-width="0.8"/>
<text x="326.1" y="137.1" font-size="3.5" fill="#505050" text-anchor="end" >600</text>
<line x1="348.6" y1="156.79999999999998" x2="346.4" y2="159.4" stroke="#888" stroke-width="0.8"/>
<text x="326.1" y="130.89999999999998" font-size="3.5" fill="#505050" text-anchor="end" >800</text>
<line x1="354.9" y1="156.79999999999998" x2="352.7" y2="159.4" stroke="#888" stroke-width="0.8"/>
<text x="326.1" y="124.69999999999999" font-size="3.5" fill="#505050" text-anchor="end" >1000</text>
<line x1="361.1" y1="156.79999999999998" x2="358.9" y2="159.4" stroke="#888" stroke-width="0.8"/>
<path d="M331.5,151.29999999999998 L348,139.6 L360,132.1 L360,138.6 L348,145.6 L333,152.79999999999998 Z" fill="#c4c4c4" opacity="0.45"/>
<g fill="#7a7a7a" opacity="0.45"><circle cx="351.9" cy="136.7" r="0.3"/><circle cx="346.1" cy="145.7" r="0.3"/><circle cx="360.6" cy="137.1" r="0.3"/><circle cx="340.6" cy="149.5" r="0.3"/><circle cx="344.8" cy="149.9" r="0.3"/><circle cx="351.7" cy="147.6" r="0.3"/><circle cx="348.8" cy="140.8" r="0.3"/><circle cx="341.0" cy="147.3" r="0.3"/><circle cx="355.4" cy="143.6" r="0.3"/><circle cx="351.8" cy="139.9" r="0.3"/><circle cx="352.4" cy="137.5" r="0.3"/><circle cx="353.3" cy="139.0" r="0.3"/><circle cx="362.0" cy="139.2" r="0.3"/><circle cx="352.1" cy="138.9" r="0.3"/><circle cx="355.1" cy="141.4" r="0.3"/><circle cx="346.6" cy="143.3" r="0.3"/><circle cx="358.7" cy="136.9" r="0.3"/><circle cx="355.7" cy="144.1" r="0.3"/><circle cx="343.7" cy="152.2" r="0.3"/><circle cx="356.7" cy="137.3" r="0.3"/><circle cx="343.2" cy="143.4" r="0.3"/><circle cx="353.7" cy="133.3" r="0.3"/><circle cx="357.3" cy="139.5" r="0.3"/><circle cx="345.9" cy="144.0" r="0.3"/><circle cx="348.3" cy="143.5" r="0.3"/><circle cx="355.7" cy="137.4" r="0.3"/><circle cx="359.4" cy="140.7" r="0.3"/><circle cx="350.2" cy="144.9" r="0.3"/><circle cx="347.5" cy="144.8" r="0.3"/><circle cx="356.8" cy="145.1" r="0.3"/><circle cx="350.5" cy="142.5" r="0.3"/><circle cx="351.0" cy="142.1" r="0.3"/><circle cx="346.4" cy="150.9" r="0.3"/><circle cx="346.2" cy="143.6" r="0.3"/><circle cx="347.3" cy="146.8" r="0.3"/><circle cx="374.2" cy="138.3" r="0.3"/><circle cx="357.9" cy="139.7" r="0.3"/><circle cx="349.5" cy="140.4" r="0.3"/><circle cx="355.7" cy="139.6" r="0.3"/><circle cx="364.2" cy="134.1" r="0.3"/><circle cx="342.1" cy="142.2" r="0.3"/><circle cx="340.2" cy="150.7" r="0.3"/><circle cx="351.7" cy="138.7" r="0.3"/><circle cx="341.4" cy="149.0" r="0.3"/><circle cx="349.0" cy="144.5" r="0.3"/><circle cx="349.9" cy="140.9" r="0.3"/><circle cx="339.8" cy="149.5" r="0.3"/><circle cx="351.9" cy="142.6" r="0.3"/><circle cx="358.4" cy="141.1" r="0.3"/><circle cx="348.6" cy="145.8" r="0.3"/><circle cx="337.7" cy="152.3" r="0.3"/><circle cx="352.1" cy="145.0" r="0.3"/><circle cx="356.3" cy="136.7" r="0.3"/><circle cx="351.6" cy="145.6" r="0.3"/><circle cx="347.5" cy="144.8" r="0.3"/><circle cx="347.8" cy="146.2" r="0.3"/><circle cx="351.9" cy="139.6" r="0.3"/><circle cx="338.8" cy="142.9" r="0.3"/><circle cx="356.0" cy="138.4" r="0.3"/><circle cx="345.8" cy="144.0" r="0.3"/><circle cx="345.9" cy="147.6" r="0.3"/><circle cx="352.2" cy="135.1" r="0.3"/><circle cx="351.0" cy="142.9" r="0.3"/><circle cx="349.0" cy="144.1" r="0.3"/><circle cx="362.4" cy="137.0" r="0.3"/><circle cx="360.2" cy="140.4" r="0.3"/><circle cx="343.4" cy="152.4" r="0.3"/><circle cx="352.0" cy="141.1" r="0.3"/><circle cx="359.5" cy="144.5" r="0.3"/><circle cx="345.0" cy="144.0" r="0.3"/><circle cx="351.1" cy="137.2" r="0.3"/><circle cx="343.8" cy="146.9" r="0.3"/><circle cx="356.7" cy="141.0" r="0.3"/><circle cx="358.0" cy="141.9" r="0.3"/><circle cx="347.7" cy="143.5" r="0.3"/><circle cx="348.5" cy="143.0" r="0.3"/><circle cx="359.5" cy="140.3" r="0.3"/><circle cx="338.1" cy="151.5" r="0.3"/><circle cx="342.6" cy="144.1" r="0.3"/><circle cx="361.3" cy="140.7" r="0.3"/><circle cx="359.7" cy="139.7" r="0.3"/><circle cx="361.5" cy="133.1" r="0.3"/><circle cx="355.7" cy="137.8" r="0.3"/><circle cx="344.9" cy="141.2" r="0.3"/><circle cx="363.5" cy="140.8" r="0.3"/><circle cx="356.1" cy="137.9" r="0.3"/><circle cx="350.9" cy="139.5" r="0.3"/><circle cx="351.3" cy="147.1" r="0.3"/><circle cx="362.6" cy="138.0" r="0.3"/><circle cx="356.1" cy="139.3" r="0.3"/><circle cx="353.3" cy="140.8" r="0.3"/><circle cx="353.5" cy="139.3" r="0.3"/><circle cx="357.4" cy="138.2" r="0.3"/><circle cx="352.3" cy="141.5" r="0.3"/><circle cx="362.5" cy="138.8" r="0.3"/><circle cx="344.6" cy="143.5" r="0.3"/><circle cx="355.1" cy="140.6" r="0.3"/><circle cx="349.9" cy="144.0" r="0.3"/><circle cx="361.9" cy="136.1" r="0.3"/><circle cx="360.0" cy="136.0" r="0.3"/><circle cx="350.0" cy="144.2" r="0.3"/><circle cx="350.0" cy="141.7" r="0.3"/><circle cx="343.6" cy="145.9" r="0.3"/><circle cx="348.5" cy="144.1" r="0.3"/><circle cx="358.7" cy="139.8" r="0.3"/><circle cx="359.1" cy="138.6" r="0.3"/><circle cx="355.0" cy="142.3" r="0.3"/><circle cx="357.3" cy="142.1" r="0.3"/><circle cx="348.1" cy="145.7" r="0.3"/><circle cx="354.1" cy="144.6" r="0.3"/><circle cx="356.0" cy="138.0" r="0.3"/><circle cx="354.9" cy="142.6" r="0.3"/><circle cx="353.2" cy="145.2" r="0.3"/><circle cx="351.3" cy="138.7" r="0.3"/><circle cx="354.3" cy="143.2" r="0.3"/><circle cx="346.8" cy="147.2" r="0.3"/><circle cx="335.7" cy="157.7" r="0.3"/><circle cx="341.3" cy="146.8" r="0.3"/><circle cx="347.2" cy="140.6" r="0.3"/><circle cx="352.0" cy="139.3" r="0.3"/><circle cx="339.3" cy="142.4" r="0.3"/><circle cx="357.2" cy="142.6" r="0.3"/><circle cx="349.6" cy="144.1" r="0.3"/><circle cx="362.2" cy="137.4" r="0.3"/><circle cx="360.0" cy="140.5" r="0.3"/><circle cx="356.8" cy="141.0" r="0.3"/><circle cx="359.3" cy="138.6" r="0.3"/><circle cx="351.1" cy="140.4" r="0.3"/><circle cx="336.4" cy="148.3" r="0.3"/><circle cx="350.4" cy="146.2" r="0.3"/><circle cx="346.3" cy="139.4" r="0.3"/><circle cx="357.3" cy="142.8" r="0.3"/><circle cx="353.7" cy="142.0" r="0.3"/><circle cx="353.0" cy="141.3" r="0.3"/><circle cx="359.4" cy="135.3" r="0.3"/><circle cx="344.4" cy="142.1" r="0.3"/><circle cx="347.0" cy="142.9" r="0.3"/><circle cx="347.2" cy="145.5" r="0.3"/><circle cx="356.4" cy="135.4" r="0.3"/><circle cx="351.2" cy="140.5" r="0.3"/><circle cx="346.3" cy="144.1" r="0.3"/><circle cx="351.6" cy="137.4" r="0.3"/><circle cx="361.1" cy="136.6" r="0.3"/><circle cx="344.4" cy="141.7" r="0.3"/><circle cx="359.2" cy="140.1" r="0.3"/><circle cx="357.3" cy="139.5" r="0.3"/><circle cx="364.9" cy="139.5" r="0.3"/><circle cx="365.9" cy="135.2" r="0.3"/><circle cx="357.1" cy="138.0" r="0.3"/><circle cx="351.7" cy="141.4" r="0.3"/><circle cx="351.7" cy="142.5" r="0.3"/><circle cx="351.5" cy="142.4" r="0.3"/><circle cx="351.8" cy="141.0" r="0.3"/><circle cx="346.1" cy="144.2" r="0.3"/><circle cx="356.6" cy="141.7" r="0.3"/><circle cx="361.7" cy="144.0" r="0.3"/><circle cx="345.7" cy="148.4" r="0.3"/><circle cx="341.9" cy="146.2" r="0.3"/><circle cx="346.0" cy="145.8" r="0.3"/><circle cx="361.9" cy="141.0" r="0.3"/></g>
<path d="M332,151.0 L359.5,132.6" stroke="#9a9a9a" stroke-width="2.4" stroke-linecap="round"/>
<path d="M332.5,151.0 L353,135.6" stroke="#c04fae" stroke-width="2.1"/>
<path d="M333.5,150.1 L340,143.6" stroke="#2a9a8a" stroke-width="1.4"/>
<path d="M337,146.6 L341,143.1" stroke="#3a6ad0" stroke-width="0.9"/>
<text x="336.4" y="138.4" font-size="2.8" fill="#666" text-anchor="start" textLength="8" lengthAdjust="spacingAndGlyphs" >Singlets</text>
<line x1="380.3" y1="123.0" x2="411.8" y2="123.0" stroke="#cfcfcf" stroke-width="1"/>
<line x1="411.8" y1="122.6" x2="411.8" y2="154.6" stroke="#cfcfcf" stroke-width="0.5"/>
<line x1="380.3" y1="122.6" x2="380.3" y2="154.6" stroke="#a0a0a0" stroke-width="0.5"/>
<line x1="380.3" y1="154.6" x2="411.8" y2="154.6" stroke="#a0a0a0" stroke-width="0.5"/>
<text x="378.1" y="155.7" font-size="3.5" fill="#505050" text-anchor="end" >0</text>
<line x1="381.9" y1="156.79999999999998" x2="379.7" y2="159.4" stroke="#888" stroke-width="0.8"/>
<text x="378.1" y="149.5" font-size="3.5" fill="#505050" text-anchor="end" >200</text>
<line x1="388.0" y1="156.79999999999998" x2="385.8" y2="159.4" stroke="#888" stroke-width="0.8"/>
<text x="378.1" y="143.29999999999998" font-size="3.5" fill="#505050" text-anchor="end" >400</text>
<line x1="394.1" y1="156.79999999999998" x2="391.9" y2="159.4" stroke="#888" stroke-width="0.8"/>
<text x="378.1" y="137.1" font-size="3.5" fill="#505050" text-anchor="end" >600</text>
<line x1="400.2" y1="156.79999999999998" x2="398.0" y2="159.4" stroke="#888" stroke-width="0.8"/>
<text x="378.1" y="130.89999999999998" font-size="3.5" fill="#505050" text-anchor="end" >800</text>
<line x1="406.3" y1="156.79999999999998" x2="404.1" y2="159.4" stroke="#888" stroke-width="0.8"/>
<text x="378.1" y="124.69999999999999" font-size="3.5" fill="#505050" text-anchor="end" >1000</text>
<line x1="412.4" y1="156.79999999999998" x2="410.2" y2="159.4" stroke="#888" stroke-width="0.8"/>
<path d="M381,153.6 L381,130.6 L385,124.6 L390,126.6 L394,136.6 L398,141.6 L411,138.6 L411,153.6 Z" fill="#cfcfcf" opacity="0.35"/>
<g fill="#6a6a6a" opacity="0.45"><circle cx="389.4" cy="134.6" r="0.3"/><circle cx="400.1" cy="139.4" r="0.3"/><circle cx="388.2" cy="138.9" r="0.3"/><circle cx="385.6" cy="130.4" r="0.3"/><circle cx="389.5" cy="132.3" r="0.3"/><circle cx="390.5" cy="134.1" r="0.3"/><circle cx="381.0" cy="126.0" r="0.3"/><circle cx="384.4" cy="121.0" r="0.3"/><circle cx="387.2" cy="133.5" r="0.3"/><circle cx="390.9" cy="129.3" r="0.3"/><circle cx="386.7" cy="139.8" r="0.3"/><circle cx="390.2" cy="128.1" r="0.3"/><circle cx="393.1" cy="131.0" r="0.3"/><circle cx="391.9" cy="133.4" r="0.3"/><circle cx="386.0" cy="126.5" r="0.3"/><circle cx="387.0" cy="153.1" r="0.3"/><circle cx="385.2" cy="146.9" r="0.3"/><circle cx="392.4" cy="132.7" r="0.3"/><circle cx="391.6" cy="145.8" r="0.3"/><circle cx="386.4" cy="131.7" r="0.3"/><circle cx="391.6" cy="138.2" r="0.3"/><circle cx="395.3" cy="138.8" r="0.3"/><circle cx="383.3" cy="135.3" r="0.3"/><circle cx="383.2" cy="141.1" r="0.3"/><circle cx="390.1" cy="132.6" r="0.3"/><circle cx="384.3" cy="142.2" r="0.3"/><circle cx="386.1" cy="144.6" r="0.3"/><circle cx="383.9" cy="133.6" r="0.3"/><circle cx="385.5" cy="128.0" r="0.3"/><circle cx="397.5" cy="148.0" r="0.3"/><circle cx="385.2" cy="141.5" r="0.3"/><circle cx="380.9" cy="144.8" r="0.3"/><circle cx="391.5" cy="133.1" r="0.3"/><circle cx="386.2" cy="137.4" r="0.3"/><circle cx="389.2" cy="133.0" r="0.3"/><circle cx="384.4" cy="133.7" r="0.3"/><circle cx="385.9" cy="141.4" r="0.3"/><circle cx="387.8" cy="137.4" r="0.3"/><circle cx="381.4" cy="132.8" r="0.3"/><circle cx="386.1" cy="131.9" r="0.3"/><circle cx="387.1" cy="133.5" r="0.3"/><circle cx="381.9" cy="142.6" r="0.3"/><circle cx="390.9" cy="131.9" r="0.3"/><circle cx="389.8" cy="128.8" r="0.3"/><circle cx="382.9" cy="134.2" r="0.3"/><circle cx="393.3" cy="135.0" r="0.3"/><circle cx="381.9" cy="137.5" r="0.3"/><circle cx="385.5" cy="130.5" r="0.3"/><circle cx="388.9" cy="122.9" r="0.3"/><circle cx="381.0" cy="125.1" r="0.3"/><circle cx="391.6" cy="136.5" r="0.3"/><circle cx="385.4" cy="130.8" r="0.3"/><circle cx="390.0" cy="145.1" r="0.3"/><circle cx="385.0" cy="137.8" r="0.3"/><circle cx="396.3" cy="140.4" r="0.3"/><circle cx="386.4" cy="138.4" r="0.3"/><circle cx="388.1" cy="140.9" r="0.3"/><circle cx="389.0" cy="132.3" r="0.3"/><circle cx="387.2" cy="138.7" r="0.3"/><circle cx="385.2" cy="136.5" r="0.3"/><circle cx="384.3" cy="145.1" r="0.3"/><circle cx="393.4" cy="129.6" r="0.3"/><circle cx="390.8" cy="137.2" r="0.3"/><circle cx="388.0" cy="134.1" r="0.3"/><circle cx="388.7" cy="143.4" r="0.3"/><circle cx="383.2" cy="143.5" r="0.3"/><circle cx="386.7" cy="127.9" r="0.3"/><circle cx="387.5" cy="140.7" r="0.3"/><circle cx="387.4" cy="138.2" r="0.3"/><circle cx="386.5" cy="132.1" r="0.3"/><circle cx="391.4" cy="129.1" r="0.3"/><circle cx="391.4" cy="138.5" r="0.3"/><circle cx="386.7" cy="134.4" r="0.3"/><circle cx="386.6" cy="135.7" r="0.3"/><circle cx="387.5" cy="135.0" r="0.3"/><circle cx="380.6" cy="120.6" r="0.3"/><circle cx="389.0" cy="131.4" r="0.3"/><circle cx="385.6" cy="134.8" r="0.3"/><circle cx="383.7" cy="147.3" r="0.3"/><circle cx="387.7" cy="134.7" r="0.3"/><circle cx="383.9" cy="142.5" r="0.3"/><circle cx="390.3" cy="146.9" r="0.3"/><circle cx="391.0" cy="130.1" r="0.3"/><circle cx="383.1" cy="146.0" r="0.3"/><circle cx="385.2" cy="135.2" r="0.3"/><circle cx="387.1" cy="139.7" r="0.3"/><circle cx="389.7" cy="128.5" r="0.3"/><circle cx="385.4" cy="123.4" r="0.3"/><circle cx="389.7" cy="134.9" r="0.3"/><circle cx="381.6" cy="143.6" r="0.3"/><circle cx="387.8" cy="128.7" r="0.3"/><circle cx="386.2" cy="131.8" r="0.3"/><circle cx="388.1" cy="137.5" r="0.3"/><circle cx="385.6" cy="139.1" r="0.3"/><circle cx="378.3" cy="133.6" r="0.3"/><circle cx="390.1" cy="142.9" r="0.3"/><circle cx="390.6" cy="128.5" r="0.3"/><circle cx="381.6" cy="133.6" r="0.3"/><circle cx="395.9" cy="137.9" r="0.3"/><circle cx="385.0" cy="123.9" r="0.3"/><circle cx="388.2" cy="132.8" r="0.3"/><circle cx="389.5" cy="137.4" r="0.3"/><circle cx="379.2" cy="135.1" r="0.3"/><circle cx="390.5" cy="131.7" r="0.3"/><circle cx="383.4" cy="127.6" r="0.3"/><circle cx="382.9" cy="151.7" r="0.3"/><circle cx="392.8" cy="131.6" r="0.3"/><circle cx="392.6" cy="128.3" r="0.3"/><circle cx="385.7" cy="130.6" r="0.3"/><circle cx="387.0" cy="140.7" r="0.3"/><circle cx="395.0" cy="141.2" r="0.3"/><circle cx="387.3" cy="137.1" r="0.3"/><circle cx="386.8" cy="138.6" r="0.3"/><circle cx="384.5" cy="137.7" r="0.3"/><circle cx="389.3" cy="142.7" r="0.3"/><circle cx="384.7" cy="138.9" r="0.3"/><circle cx="388.7" cy="130.1" r="0.3"/><circle cx="380.6" cy="131.9" r="0.3"/><circle cx="390.8" cy="133.9" r="0.3"/><circle cx="395.8" cy="139.9" r="0.3"/><circle cx="385.1" cy="135.2" r="0.3"/><circle cx="389.3" cy="139.3" r="0.3"/><circle cx="386.8" cy="139.2" r="0.3"/><circle cx="398.2" cy="142.4" r="0.3"/><circle cx="388.2" cy="132.5" r="0.3"/><circle cx="381.3" cy="137.1" r="0.3"/><circle cx="386.2" cy="135.5" r="0.3"/><circle cx="385.7" cy="141.4" r="0.3"/><circle cx="391.5" cy="130.9" r="0.3"/><circle cx="382.7" cy="138.1" r="0.3"/><circle cx="392.6" cy="138.8" r="0.3"/><circle cx="389.4" cy="125.9" r="0.3"/><circle cx="385.7" cy="140.0" r="0.3"/><circle cx="388.9" cy="135.8" r="0.3"/><circle cx="389.7" cy="142.0" r="0.3"/><circle cx="387.9" cy="130.8" r="0.3"/><circle cx="382.6" cy="137.3" r="0.3"/><circle cx="387.0" cy="134.6" r="0.3"/><circle cx="391.6" cy="131.2" r="0.3"/><circle cx="386.6" cy="140.5" r="0.3"/><circle cx="384.5" cy="120.5" r="0.3"/><circle cx="385.7" cy="141.6" r="0.3"/><circle cx="385.5" cy="134.1" r="0.3"/><circle cx="381.0" cy="144.3" r="0.3"/><circle cx="381.4" cy="131.1" r="0.3"/><circle cx="387.0" cy="149.7" r="0.3"/><circle cx="388.0" cy="130.7" r="0.3"/><circle cx="382.3" cy="133.6" r="0.3"/><circle cx="383.2" cy="131.4" r="0.3"/><circle cx="387.8" cy="144.5" r="0.3"/><circle cx="383.7" cy="145.5" r="0.3"/><circle cx="380.7" cy="149.6" r="0.3"/><circle cx="385.3" cy="133.2" r="0.3"/><circle cx="385.9" cy="137.5" r="0.3"/><circle cx="387.4" cy="133.5" r="0.3"/><circle cx="385.1" cy="131.9" r="0.3"/><circle cx="387.8" cy="132.0" r="0.3"/><circle cx="385.2" cy="125.6" r="0.3"/><circle cx="387.7" cy="139.3" r="0.3"/><circle cx="384.0" cy="142.9" r="0.3"/><circle cx="387.5" cy="136.5" r="0.3"/><circle cx="381.6" cy="140.2" r="0.3"/><circle cx="392.1" cy="149.5" r="0.3"/><circle cx="385.4" cy="135.4" r="0.3"/><circle cx="390.2" cy="139.6" r="0.3"/><circle cx="385.3" cy="136.2" r="0.3"/><circle cx="391.1" cy="139.8" r="0.3"/><circle cx="387.4" cy="143.2" r="0.3"/><circle cx="382.3" cy="138.9" r="0.3"/><circle cx="385.3" cy="133.2" r="0.3"/><circle cx="390.5" cy="148.1" r="0.3"/><circle cx="389.2" cy="136.7" r="0.3"/><circle cx="393.4" cy="141.2" r="0.3"/><circle cx="379.8" cy="131.6" r="0.3"/><circle cx="385.3" cy="131.1" r="0.3"/><circle cx="382.4" cy="140.4" r="0.3"/><circle cx="388.2" cy="148.1" r="0.3"/><circle cx="386.6" cy="136.7" r="0.3"/><circle cx="385.0" cy="143.1" r="0.3"/><circle cx="392.1" cy="147.7" r="0.3"/><circle cx="391.2" cy="131.9" r="0.3"/><circle cx="391.9" cy="129.6" r="0.3"/><circle cx="385.5" cy="134.6" r="0.3"/><circle cx="395.0" cy="131.0" r="0.3"/><circle cx="384.2" cy="137.7" r="0.3"/><circle cx="391.9" cy="139.9" r="0.3"/><circle cx="389.6" cy="130.1" r="0.3"/><circle cx="386.3" cy="145.0" r="0.3"/><circle cx="388.1" cy="131.5" r="0.3"/><circle cx="386.5" cy="145.4" r="0.3"/><circle cx="393.7" cy="138.9" r="0.3"/><circle cx="384.9" cy="147.7" r="0.3"/><circle cx="385.5" cy="136.8" r="0.3"/><circle cx="389.2" cy="136.0" r="0.3"/><circle cx="387.1" cy="147.4" r="0.3"/><circle cx="388.8" cy="126.1" r="0.3"/><circle cx="385.7" cy="145.3" r="0.3"/><circle cx="387.1" cy="128.9" r="0.3"/><circle cx="390.9" cy="139.5" r="0.3"/><circle cx="387.9" cy="140.1" r="0.3"/><circle cx="386.4" cy="137.4" r="0.3"/><circle cx="389.8" cy="132.2" r="0.3"/><circle cx="392.1" cy="128.8" r="0.3"/><circle cx="395.0" cy="136.6" r="0.3"/><circle cx="389.1" cy="127.6" r="0.3"/><circle cx="390.5" cy="130.3" r="0.3"/><circle cx="389.5" cy="136.2" r="0.3"/><circle cx="384.9" cy="148.4" r="0.3"/><circle cx="388.3" cy="132.5" r="0.3"/><circle cx="386.5" cy="138.4" r="0.3"/><circle cx="387.9" cy="142.1" r="0.3"/><circle cx="385.8" cy="137.6" r="0.3"/><circle cx="386.1" cy="131.2" r="0.3"/><circle cx="390.6" cy="130.5" r="0.3"/><circle cx="382.1" cy="140.7" r="0.3"/><circle cx="386.0" cy="140.1" r="0.3"/><circle cx="389.6" cy="139.7" r="0.3"/><circle cx="388.1" cy="147.0" r="0.3"/><circle cx="384.1" cy="144.3" r="0.3"/><circle cx="387.3" cy="138.2" r="0.3"/></g>
<g fill="#808080" opacity="0.4"><circle cx="405.0" cy="146.9" r="0.3"/><circle cx="396.4" cy="153.7" r="0.3"/><circle cx="390.6" cy="145.8" r="0.3"/><circle cx="407.3" cy="148.4" r="0.3"/><circle cx="405.4" cy="141.5" r="0.3"/><circle cx="413.6" cy="142.8" r="0.3"/><circle cx="400.8" cy="145.7" r="0.3"/><circle cx="401.1" cy="143.5" r="0.3"/><circle cx="411.5" cy="146.0" r="0.3"/><circle cx="407.8" cy="139.2" r="0.3"/><circle cx="405.2" cy="144.8" r="0.3"/><circle cx="403.9" cy="146.6" r="0.3"/><circle cx="404.1" cy="145.3" r="0.3"/><circle cx="401.7" cy="146.3" r="0.3"/><circle cx="402.7" cy="145.9" r="0.3"/><circle cx="398.7" cy="147.5" r="0.3"/><circle cx="395.5" cy="154.2" r="0.3"/><circle cx="406.9" cy="152.0" r="0.3"/><circle cx="400.4" cy="140.4" r="0.3"/><circle cx="391.1" cy="142.5" r="0.3"/><circle cx="397.0" cy="144.1" r="0.3"/><circle cx="398.7" cy="148.2" r="0.3"/><circle cx="385.4" cy="152.5" r="0.3"/><circle cx="398.8" cy="146.3" r="0.3"/><circle cx="389.2" cy="146.7" r="0.3"/><circle cx="391.5" cy="147.7" r="0.3"/><circle cx="403.0" cy="146.4" r="0.3"/><circle cx="399.9" cy="144.5" r="0.3"/><circle cx="398.9" cy="149.3" r="0.3"/><circle cx="401.6" cy="146.6" r="0.3"/><circle cx="417.0" cy="146.0" r="0.3"/><circle cx="395.0" cy="136.5" r="0.3"/><circle cx="384.9" cy="146.1" r="0.3"/><circle cx="406.9" cy="141.4" r="0.3"/><circle cx="393.3" cy="144.8" r="0.3"/><circle cx="402.0" cy="149.4" r="0.3"/><circle cx="400.3" cy="143.0" r="0.3"/><circle cx="405.6" cy="141.7" r="0.3"/><circle cx="391.4" cy="141.1" r="0.3"/><circle cx="398.9" cy="143.9" r="0.3"/><circle cx="401.0" cy="145.8" r="0.3"/><circle cx="416.8" cy="147.3" r="0.3"/><circle cx="386.7" cy="139.8" r="0.3"/><circle cx="402.1" cy="142.2" r="0.3"/><circle cx="415.4" cy="143.7" r="0.3"/><circle cx="398.4" cy="146.1" r="0.3"/><circle cx="399.4" cy="147.8" r="0.3"/><circle cx="399.2" cy="146.8" r="0.3"/><circle cx="396.8" cy="134.7" r="0.3"/><circle cx="403.8" cy="152.4" r="0.3"/><circle cx="394.6" cy="143.3" r="0.3"/><circle cx="406.3" cy="143.5" r="0.3"/><circle cx="401.7" cy="144.6" r="0.3"/><circle cx="405.0" cy="145.1" r="0.3"/><circle cx="414.4" cy="145.8" r="0.3"/><circle cx="399.3" cy="139.7" r="0.3"/><circle cx="401.6" cy="141.7" r="0.3"/><circle cx="405.3" cy="147.9" r="0.3"/><circle cx="418.6" cy="142.4" r="0.3"/><circle cx="401.9" cy="149.9" r="0.3"/><circle cx="387.6" cy="148.2" r="0.3"/><circle cx="413.2" cy="145.9" r="0.3"/><circle cx="400.8" cy="150.6" r="0.3"/><circle cx="402.9" cy="146.8" r="0.3"/><circle cx="406.7" cy="142.4" r="0.3"/><circle cx="413.8" cy="144.2" r="0.3"/><circle cx="401.0" cy="144.0" r="0.3"/><circle cx="383.8" cy="139.0" r="0.3"/><circle cx="398.6" cy="145.6" r="0.3"/><circle cx="408.7" cy="156.5" r="0.3"/><circle cx="405.8" cy="145.2" r="0.3"/><circle cx="396.7" cy="151.4" r="0.3"/><circle cx="396.8" cy="145.5" r="0.3"/><circle cx="410.0" cy="145.1" r="0.3"/><circle cx="400.1" cy="146.2" r="0.3"/><circle cx="390.2" cy="145.2" r="0.3"/><circle cx="402.2" cy="147.1" r="0.3"/><circle cx="398.6" cy="136.7" r="0.3"/><circle cx="395.7" cy="148.8" r="0.3"/><circle cx="395.8" cy="141.9" r="0.3"/><circle cx="404.6" cy="147.9" r="0.3"/><circle cx="402.2" cy="148.2" r="0.3"/><circle cx="406.5" cy="147.7" r="0.3"/><circle cx="403.4" cy="153.2" r="0.3"/><circle cx="393.7" cy="154.8" r="0.3"/><circle cx="402.9" cy="142.7" r="0.3"/><circle cx="405.8" cy="149.9" r="0.3"/><circle cx="393.1" cy="146.4" r="0.3"/><circle cx="406.7" cy="149.0" r="0.3"/><circle cx="401.4" cy="141.3" r="0.3"/><circle cx="400.5" cy="154.6" r="0.3"/><circle cx="394.9" cy="158.1" r="0.3"/><circle cx="400.8" cy="145.3" r="0.3"/><circle cx="397.5" cy="146.3" r="0.3"/><circle cx="402.5" cy="141.5" r="0.3"/><circle cx="414.8" cy="150.6" r="0.3"/><circle cx="403.7" cy="140.4" r="0.3"/><circle cx="398.7" cy="145.0" r="0.3"/><circle cx="406.5" cy="145.2" r="0.3"/><circle cx="393.5" cy="144.9" r="0.3"/><circle cx="399.8" cy="145.7" r="0.3"/><circle cx="406.9" cy="142.7" r="0.3"/><circle cx="390.9" cy="150.5" r="0.3"/><circle cx="407.6" cy="140.7" r="0.3"/><circle cx="406.0" cy="143.6" r="0.3"/><circle cx="405.8" cy="147.9" r="0.3"/><circle cx="391.8" cy="141.4" r="0.3"/><circle cx="400.1" cy="140.0" r="0.3"/><circle cx="393.2" cy="142.1" r="0.3"/><circle cx="400.0" cy="145.3" r="0.3"/><circle cx="396.0" cy="144.7" r="0.3"/><circle cx="409.0" cy="148.0" r="0.3"/><circle cx="403.9" cy="142.9" r="0.3"/><circle cx="396.6" cy="140.7" r="0.3"/><circle cx="395.5" cy="138.2" r="0.3"/><circle cx="400.1" cy="144.1" r="0.3"/><circle cx="396.5" cy="143.1" r="0.3"/><circle cx="392.6" cy="148.6" r="0.3"/><circle cx="405.2" cy="150.6" r="0.3"/><circle cx="403.4" cy="145.0" r="0.3"/><circle cx="407.1" cy="140.6" r="0.3"/><circle cx="391.9" cy="149.5" r="0.3"/><circle cx="404.4" cy="146.7" r="0.3"/><circle cx="410.1" cy="145.5" r="0.3"/><circle cx="402.7" cy="147.4" r="0.3"/><circle cx="393.3" cy="147.2" r="0.3"/><circle cx="405.2" cy="145.4" r="0.3"/><circle cx="396.4" cy="142.4" r="0.3"/><circle cx="386.5" cy="142.2" r="0.3"/><circle cx="410.1" cy="150.7" r="0.3"/><circle cx="400.4" cy="142.5" r="0.3"/><circle cx="408.9" cy="150.1" r="0.3"/><circle cx="404.6" cy="142.7" r="0.3"/><circle cx="406.3" cy="149.5" r="0.3"/><circle cx="398.1" cy="142.3" r="0.3"/><circle cx="398.4" cy="146.6" r="0.3"/><circle cx="403.9" cy="147.8" r="0.3"/><circle cx="401.2" cy="143.6" r="0.3"/><circle cx="403.3" cy="149.8" r="0.3"/><circle cx="402.2" cy="148.5" r="0.3"/><circle cx="400.6" cy="142.7" r="0.3"/><circle cx="398.5" cy="145.0" r="0.3"/><circle cx="391.0" cy="144.9" r="0.3"/><circle cx="397.0" cy="146.4" r="0.3"/><circle cx="406.1" cy="146.2" r="0.3"/><circle cx="398.5" cy="146.6" r="0.3"/><circle cx="394.1" cy="147.7" r="0.3"/><circle cx="409.8" cy="147.9" r="0.3"/><circle cx="410.7" cy="143.9" r="0.3"/><circle cx="389.3" cy="148.0" r="0.3"/></g>
<g fill="#666" opacity="0.5"><circle cx="381.1" cy="141.6" r="0.3"/><circle cx="388.6" cy="135.5" r="0.3"/><circle cx="387.1" cy="140.0" r="0.3"/><circle cx="388.0" cy="141.3" r="0.3"/><circle cx="384.5" cy="144.3" r="0.3"/><circle cx="383.3" cy="142.4" r="0.3"/><circle cx="384.4" cy="148.0" r="0.3"/><circle cx="385.8" cy="136.0" r="0.3"/><circle cx="385.9" cy="143.3" r="0.3"/><circle cx="384.9" cy="147.7" r="0.3"/><circle cx="387.9" cy="136.5" r="0.3"/><circle cx="388.7" cy="140.4" r="0.3"/><circle cx="383.4" cy="140.1" r="0.3"/><circle cx="384.2" cy="145.1" r="0.3"/><circle cx="381.0" cy="141.4" r="0.3"/><circle cx="382.3" cy="140.8" r="0.3"/><circle cx="383.0" cy="144.0" r="0.3"/><circle cx="386.6" cy="137.8" r="0.3"/><circle cx="385.0" cy="135.3" r="0.3"/><circle cx="384.7" cy="144.6" r="0.3"/><circle cx="383.7" cy="151.1" r="0.3"/><circle cx="385.8" cy="138.7" r="0.3"/><circle cx="385.5" cy="139.0" r="0.3"/><circle cx="385.9" cy="141.3" r="0.3"/><circle cx="384.5" cy="131.4" r="0.3"/><circle cx="382.1" cy="144.7" r="0.3"/><circle cx="386.6" cy="145.0" r="0.3"/><circle cx="385.3" cy="145.9" r="0.3"/><circle cx="387.3" cy="144.0" r="0.3"/><circle cx="387.9" cy="145.6" r="0.3"/><circle cx="383.2" cy="144.2" r="0.3"/><circle cx="387.4" cy="141.4" r="0.3"/><circle cx="378.8" cy="140.9" r="0.3"/><circle cx="385.4" cy="132.2" r="0.3"/><circle cx="380.3" cy="137.5" r="0.3"/><circle cx="389.5" cy="145.2" r="0.3"/><circle cx="383.6" cy="145.6" r="0.3"/><circle cx="385.6" cy="136.1" r="0.3"/><circle cx="383.4" cy="145.8" r="0.3"/><circle cx="383.7" cy="151.8" r="0.3"/><circle cx="383.3" cy="140.6" r="0.3"/><circle cx="384.0" cy="142.3" r="0.3"/><circle cx="384.6" cy="147.3" r="0.3"/><circle cx="390.8" cy="141.2" r="0.3"/><circle cx="380.1" cy="140.6" r="0.3"/><circle cx="384.9" cy="148.8" r="0.3"/><circle cx="386.7" cy="142.5" r="0.3"/><circle cx="393.0" cy="137.8" r="0.3"/><circle cx="381.3" cy="148.0" r="0.3"/><circle cx="386.7" cy="142.4" r="0.3"/><circle cx="381.1" cy="143.8" r="0.3"/><circle cx="385.6" cy="139.6" r="0.3"/><circle cx="385.1" cy="136.4" r="0.3"/><circle cx="388.1" cy="137.5" r="0.3"/><circle cx="387.6" cy="138.4" r="0.3"/><circle cx="381.8" cy="141.4" r="0.3"/><circle cx="382.2" cy="145.1" r="0.3"/><circle cx="382.0" cy="142.8" r="0.3"/><circle cx="386.9" cy="145.8" r="0.3"/><circle cx="387.4" cy="141.4" r="0.3"/><circle cx="390.6" cy="141.8" r="0.3"/><circle cx="383.0" cy="143.4" r="0.3"/><circle cx="390.4" cy="135.7" r="0.3"/><circle cx="383.3" cy="148.1" r="0.3"/><circle cx="385.1" cy="137.0" r="0.3"/><circle cx="386.6" cy="144.6" r="0.3"/><circle cx="384.2" cy="137.0" r="0.3"/><circle cx="383.8" cy="139.7" r="0.3"/><circle cx="388.8" cy="137.9" r="0.3"/><circle cx="379.1" cy="143.3" r="0.3"/><circle cx="383.8" cy="147.3" r="0.3"/><circle cx="377.2" cy="141.3" r="0.3"/><circle cx="387.5" cy="141.2" r="0.3"/><circle cx="385.5" cy="139.3" r="0.3"/><circle cx="389.7" cy="136.9" r="0.3"/><circle cx="384.7" cy="141.6" r="0.3"/><circle cx="384.4" cy="144.9" r="0.3"/><circle cx="384.2" cy="142.6" r="0.3"/><circle cx="386.3" cy="143.3" r="0.3"/><circle cx="387.7" cy="138.5" r="0.3"/></g>
<path d="M381,154.1 L382.5,146.6 L384.5,141.6 L388,144.1 L392.5,148.6 L396,152.1 L394,154.1 Z" fill="#c858b6" opacity="0.6"/>
<path d="M382.5,153.1 L384.2,147.6 L386.5,144.6 L389.5,147.6 L391.5,151.6 L389.5,153.4 Z" fill="#2a9c8c" opacity="0.85"/>
<ellipse cx="387.3" cy="149.6" rx="1.4" ry="1.8" fill="#48b050"/>
<ellipse cx="382.3" cy="152.1" rx="1.2" ry="1.5" fill="#2a5ad0"/>
<g fill="#c86ac0" opacity="0.55"><circle cx="403.2" cy="151.9" r="0.4"/><circle cx="402.2" cy="151.0" r="0.4"/><circle cx="395.7" cy="150.8" r="0.4"/><circle cx="398.7" cy="149.1" r="0.4"/><circle cx="391.2" cy="149.0" r="0.4"/><circle cx="398.1" cy="150.0" r="0.4"/><circle cx="395.4" cy="152.4" r="0.4"/><circle cx="398.1" cy="150.2" r="0.4"/><circle cx="400.4" cy="149.8" r="0.4"/><circle cx="399.2" cy="150.5" r="0.4"/><circle cx="398.7" cy="151.3" r="0.4"/><circle cx="396.7" cy="151.6" r="0.4"/><circle cx="397.6" cy="151.9" r="0.4"/><circle cx="402.0" cy="149.6" r="0.4"/><circle cx="396.6" cy="152.3" r="0.4"/><circle cx="402.3" cy="153.9" r="0.4"/><circle cx="402.8" cy="150.2" r="0.4"/><circle cx="403.9" cy="153.7" r="0.4"/><circle cx="399.2" cy="151.5" r="0.4"/><circle cx="396.0" cy="151.7" r="0.4"/><circle cx="400.2" cy="150.5" r="0.4"/><circle cx="402.5" cy="151.6" r="0.4"/><circle cx="404.0" cy="151.6" r="0.4"/><circle cx="391.9" cy="151.3" r="0.4"/><circle cx="401.3" cy="150.7" r="0.4"/><circle cx="399.9" cy="149.6" r="0.4"/><circle cx="400.4" cy="150.9" r="0.4"/><circle cx="389.6" cy="152.1" r="0.4"/><circle cx="401.8" cy="151.5" r="0.4"/><circle cx="397.8" cy="152.2" r="0.4"/><circle cx="401.3" cy="151.1" r="0.4"/><circle cx="400.2" cy="150.2" r="0.4"/><circle cx="400.4" cy="150.6" r="0.4"/><circle cx="407.3" cy="153.3" r="0.4"/><circle cx="404.0" cy="151.3" r="0.4"/><circle cx="400.3" cy="152.7" r="0.4"/><circle cx="397.0" cy="152.8" r="0.4"/><circle cx="396.4" cy="149.2" r="0.4"/><circle cx="403.7" cy="152.8" r="0.4"/><circle cx="399.3" cy="152.8" r="0.4"/><circle cx="401.2" cy="149.0" r="0.4"/><circle cx="395.0" cy="150.8" r="0.4"/><circle cx="403.1" cy="153.3" r="0.4"/><circle cx="394.0" cy="149.8" r="0.4"/><circle cx="404.3" cy="150.7" r="0.4"/><circle cx="397.8" cy="152.5" r="0.4"/><circle cx="400.3" cy="152.0" r="0.4"/><circle cx="402.2" cy="149.6" r="0.4"/><circle cx="401.1" cy="152.5" r="0.4"/><circle cx="393.6" cy="152.4" r="0.4"/><circle cx="400.6" cy="150.0" r="0.4"/><circle cx="401.0" cy="151.5" r="0.4"/><circle cx="395.9" cy="150.6" r="0.4"/><circle cx="404.6" cy="151.6" r="0.4"/><circle cx="396.7" cy="150.3" r="0.4"/><circle cx="402.2" cy="151.3" r="0.4"/><circle cx="397.9" cy="150.9" r="0.4"/><circle cx="399.8" cy="151.3" r="0.4"/><circle cx="403.7" cy="151.5" r="0.4"/><circle cx="397.9" cy="149.3" r="0.4"/></g>
<path d="M391,152.1 L395,142.6 L408,138.6 L410,142.6 L403,153.1 L392,153.1 Z" fill="none" stroke="#777" stroke-width="0.4"/>
<text x="386" y="140.1" font-size="2.8" fill="#888" text-anchor="start" textLength="12" lengthAdjust="spacingAndGlyphs" >lymphocytes</text>
<line x1="429.3" y1="123.0" x2="461" y2="123.0" stroke="#cfcfcf" stroke-width="1"/>
<line x1="461" y1="122.6" x2="461" y2="154.6" stroke="#cfcfcf" stroke-width="0.5"/>
<line x1="429.3" y1="122.6" x2="429.3" y2="154.6" stroke="#a0a0a0" stroke-width="0.5"/>
<line x1="429.3" y1="154.6" x2="461" y2="154.6" stroke="#a0a0a0" stroke-width="0.5"/>
<text x="425.8" y="124.6" font-size="3.5" fill="#505050" text-anchor="end" >10⁴</text>
<text x="425.8" y="130.79999999999998" font-size="3.5" fill="#505050" text-anchor="end" >10³</text>
<text x="425.8" y="138.1" font-size="3.5" fill="#505050" text-anchor="end" >10²</text>
<text x="425.8" y="144.7" font-size="3.5" fill="#505050" text-anchor="end" >10¹</text>
<text x="425.8" y="151.7" font-size="3.5" fill="#505050" text-anchor="end" >0</text>
<line x1="434.5" y1="157.1" x2="433.0" y2="159.4" stroke="#888" stroke-width="0.8"/>
<line x1="446.2" y1="157.1" x2="444.7" y2="159.4" stroke="#888" stroke-width="0.8"/>
<line x1="454.2" y1="157.1" x2="452.7" y2="159.4" stroke="#888" stroke-width="0.8"/>
<line x1="461.5" y1="157.1" x2="460.0" y2="159.4" stroke="#888" stroke-width="0.8"/>
<g fill="#999" opacity="0.4"><circle cx="443.8" cy="137.0" r="0.3"/><circle cx="444.1" cy="144.9" r="0.3"/><circle cx="444.0" cy="125.1" r="0.3"/><circle cx="447.7" cy="136.2" r="0.3"/><circle cx="443.3" cy="139.6" r="0.3"/><circle cx="446.9" cy="149.1" r="0.3"/><circle cx="450.3" cy="139.6" r="0.3"/><circle cx="439.1" cy="129.5" r="0.3"/><circle cx="447.0" cy="150.4" r="0.3"/><circle cx="445.3" cy="137.6" r="0.3"/><circle cx="449.3" cy="125.5" r="0.3"/><circle cx="442.5" cy="143.0" r="0.3"/><circle cx="452.0" cy="136.4" r="0.3"/><circle cx="448.0" cy="140.8" r="0.3"/><circle cx="451.3" cy="128.6" r="0.3"/><circle cx="449.5" cy="125.0" r="0.3"/><circle cx="424.0" cy="133.1" r="0.3"/><circle cx="437.7" cy="146.5" r="0.3"/><circle cx="450.3" cy="127.6" r="0.3"/><circle cx="451.8" cy="129.6" r="0.3"/><circle cx="444.3" cy="136.0" r="0.3"/><circle cx="445.9" cy="146.0" r="0.3"/><circle cx="450.1" cy="141.7" r="0.3"/><circle cx="450.2" cy="142.9" r="0.3"/><circle cx="440.0" cy="132.1" r="0.3"/><circle cx="441.2" cy="143.1" r="0.3"/><circle cx="443.0" cy="159.6" r="0.3"/><circle cx="438.4" cy="128.7" r="0.3"/><circle cx="451.1" cy="151.4" r="0.3"/><circle cx="449.0" cy="146.1" r="0.3"/><circle cx="456.4" cy="137.8" r="0.3"/><circle cx="433.6" cy="133.8" r="0.3"/><circle cx="452.6" cy="125.6" r="0.3"/><circle cx="445.3" cy="140.9" r="0.3"/><circle cx="442.5" cy="145.1" r="0.3"/><circle cx="449.6" cy="159.5" r="0.3"/><circle cx="450.0" cy="133.1" r="0.3"/><circle cx="440.5" cy="131.1" r="0.3"/><circle cx="452.6" cy="133.5" r="0.3"/><circle cx="444.4" cy="145.3" r="0.3"/><circle cx="439.2" cy="136.0" r="0.3"/><circle cx="430.3" cy="128.9" r="0.3"/><circle cx="440.5" cy="142.3" r="0.3"/><circle cx="454.5" cy="138.4" r="0.3"/><circle cx="447.1" cy="140.1" r="0.3"/><circle cx="453.7" cy="146.6" r="0.3"/><circle cx="447.2" cy="129.5" r="0.3"/><circle cx="452.2" cy="142.0" r="0.3"/><circle cx="454.8" cy="138.3" r="0.3"/><circle cx="460.6" cy="135.4" r="0.3"/><circle cx="457.7" cy="139.6" r="0.3"/><circle cx="440.9" cy="128.4" r="0.3"/><circle cx="443.8" cy="151.4" r="0.3"/><circle cx="451.5" cy="144.8" r="0.3"/><circle cx="426.0" cy="145.0" r="0.3"/><circle cx="449.4" cy="133.7" r="0.3"/><circle cx="440.0" cy="138.6" r="0.3"/><circle cx="458.8" cy="129.1" r="0.3"/><circle cx="441.6" cy="150.9" r="0.3"/><circle cx="441.4" cy="135.3" r="0.3"/></g>
<rect x="429.3" y="131.6" width="0.9" height="22.0" fill="#8ac8e8" opacity="0.7"/>
<g fill="#b060b0" opacity="0.8"><circle cx="445.7" cy="148.3" r="0.4"/><circle cx="446.5" cy="147.0" r="0.4"/><circle cx="448.5" cy="148.1" r="0.4"/><circle cx="447.1" cy="147.4" r="0.4"/><circle cx="452.0" cy="147.7" r="0.4"/><circle cx="449.8" cy="150.4" r="0.4"/><circle cx="447.6" cy="150.9" r="0.4"/><circle cx="447.9" cy="147.7" r="0.4"/><circle cx="447.2" cy="149.4" r="0.4"/><circle cx="449.7" cy="149.5" r="0.4"/><circle cx="447.7" cy="149.5" r="0.4"/><circle cx="446.3" cy="147.0" r="0.4"/><circle cx="445.8" cy="150.1" r="0.4"/><circle cx="448.1" cy="147.3" r="0.4"/><circle cx="443.5" cy="144.8" r="0.4"/><circle cx="445.2" cy="147.9" r="0.4"/><circle cx="449.3" cy="150.8" r="0.4"/><circle cx="448.1" cy="150.4" r="0.4"/><circle cx="448.7" cy="145.4" r="0.4"/><circle cx="446.6" cy="150.5" r="0.4"/><circle cx="446.5" cy="150.2" r="0.4"/><circle cx="445.8" cy="148.6" r="0.4"/><circle cx="448.1" cy="149.3" r="0.4"/><circle cx="445.5" cy="150.8" r="0.4"/><circle cx="445.9" cy="150.5" r="0.4"/><circle cx="447.6" cy="145.2" r="0.4"/><circle cx="442.4" cy="150.6" r="0.4"/><circle cx="450.3" cy="148.6" r="0.4"/><circle cx="446.0" cy="146.7" r="0.4"/><circle cx="445.3" cy="149.3" r="0.4"/><circle cx="447.2" cy="147.3" r="0.4"/><circle cx="443.4" cy="147.4" r="0.4"/><circle cx="449.7" cy="144.6" r="0.4"/><circle cx="447.7" cy="149.6" r="0.4"/><circle cx="446.2" cy="152.3" r="0.4"/><circle cx="443.5" cy="147.0" r="0.4"/><circle cx="444.2" cy="149.6" r="0.4"/><circle cx="449.5" cy="148.3" r="0.4"/><circle cx="443.7" cy="149.9" r="0.4"/><circle cx="450.5" cy="145.3" r="0.4"/><circle cx="446.3" cy="148.5" r="0.4"/><circle cx="447.5" cy="148.9" r="0.4"/><circle cx="450.6" cy="148.7" r="0.4"/><circle cx="446.3" cy="149.2" r="0.4"/><circle cx="448.2" cy="146.1" r="0.4"/><circle cx="442.2" cy="148.4" r="0.4"/><circle cx="449.2" cy="149.8" r="0.4"/><circle cx="444.5" cy="147.4" r="0.4"/><circle cx="447.9" cy="152.0" r="0.4"/><circle cx="452.1" cy="143.5" r="0.4"/><circle cx="445.7" cy="147.8" r="0.4"/><circle cx="447.0" cy="149.1" r="0.4"/><circle cx="449.6" cy="148.4" r="0.4"/><circle cx="446.9" cy="149.0" r="0.4"/><circle cx="444.4" cy="153.6" r="0.4"/><circle cx="446.5" cy="147.9" r="0.4"/><circle cx="447.7" cy="153.3" r="0.4"/><circle cx="445.2" cy="151.7" r="0.4"/><circle cx="446.4" cy="148.0" r="0.4"/><circle cx="450.3" cy="145.9" r="0.4"/><circle cx="448.1" cy="148.2" r="0.4"/><circle cx="447.2" cy="150.4" r="0.4"/><circle cx="448.4" cy="146.3" r="0.4"/><circle cx="451.2" cy="147.9" r="0.4"/><circle cx="450.0" cy="149.8" r="0.4"/><circle cx="451.0" cy="150.5" r="0.4"/><circle cx="449.0" cy="148.7" r="0.4"/><circle cx="443.5" cy="146.1" r="0.4"/><circle cx="450.4" cy="151.2" r="0.4"/><circle cx="449.0" cy="149.7" r="0.4"/><circle cx="447.4" cy="146.4" r="0.4"/><circle cx="445.8" cy="146.6" r="0.4"/><circle cx="444.6" cy="145.6" r="0.4"/><circle cx="445.4" cy="148.8" r="0.4"/><circle cx="449.8" cy="148.8" r="0.4"/><circle cx="447.4" cy="150.3" r="0.4"/><circle cx="447.5" cy="149.8" r="0.4"/><circle cx="449.2" cy="148.4" r="0.4"/><circle cx="447.6" cy="148.3" r="0.4"/><circle cx="441.9" cy="147.7" r="0.4"/></g>
<g fill="#4a5ad0" opacity="0.8"><circle cx="448.7" cy="149.2" r="0.4"/><circle cx="449.3" cy="150.2" r="0.4"/><circle cx="446.4" cy="148.6" r="0.4"/><circle cx="449.8" cy="149.3" r="0.4"/><circle cx="448.7" cy="150.6" r="0.4"/><circle cx="445.5" cy="147.3" r="0.4"/><circle cx="448.5" cy="147.0" r="0.4"/><circle cx="445.4" cy="147.9" r="0.4"/><circle cx="447.0" cy="149.4" r="0.4"/><circle cx="445.5" cy="149.3" r="0.4"/><circle cx="447.2" cy="147.4" r="0.4"/><circle cx="443.5" cy="150.8" r="0.4"/><circle cx="445.1" cy="147.1" r="0.4"/><circle cx="445.5" cy="145.6" r="0.4"/><circle cx="447.8" cy="151.1" r="0.4"/><circle cx="448.3" cy="149.1" r="0.4"/><circle cx="445.7" cy="147.9" r="0.4"/><circle cx="445.7" cy="148.7" r="0.4"/><circle cx="446.9" cy="150.2" r="0.4"/><circle cx="444.9" cy="147.1" r="0.4"/><circle cx="445.2" cy="148.6" r="0.4"/><circle cx="450.0" cy="148.1" r="0.4"/><circle cx="444.9" cy="148.0" r="0.4"/><circle cx="447.7" cy="149.4" r="0.4"/><circle cx="450.7" cy="150.4" r="0.4"/><circle cx="447.3" cy="148.1" r="0.4"/><circle cx="446.4" cy="147.2" r="0.4"/><circle cx="446.0" cy="147.2" r="0.4"/><circle cx="446.7" cy="149.1" r="0.4"/><circle cx="447.7" cy="150.1" r="0.4"/><circle cx="446.8" cy="147.7" r="0.4"/><circle cx="442.6" cy="150.0" r="0.4"/><circle cx="448.5" cy="149.5" r="0.4"/><circle cx="448.6" cy="146.9" r="0.4"/><circle cx="449.3" cy="148.0" r="0.4"/><circle cx="446.2" cy="147.7" r="0.4"/><circle cx="445.2" cy="149.6" r="0.4"/><circle cx="448.8" cy="147.0" r="0.4"/><circle cx="444.4" cy="150.8" r="0.4"/><circle cx="444.8" cy="147.0" r="0.4"/><circle cx="447.6" cy="149.6" r="0.4"/><circle cx="445.4" cy="147.7" r="0.4"/><circle cx="446.8" cy="152.0" r="0.4"/><circle cx="449.6" cy="148.1" r="0.4"/><circle cx="449.8" cy="148.2" r="0.4"/><circle cx="446.1" cy="148.8" r="0.4"/><circle cx="443.4" cy="147.3" r="0.4"/><circle cx="444.3" cy="147.5" r="0.4"/><circle cx="446.7" cy="148.8" r="0.4"/><circle cx="445.4" cy="148.5" r="0.4"/></g>
<text x="440" y="140.79999999999998" font-size="2.4" fill="#aaa" text-anchor="start" >Viable CD3  1.77</text>
<rect x="439.1" y="144.29999999999998" width="13.2" height="7.4" fill="none" stroke="#777" stroke-width="0.4"/>
<line x1="479.8" y1="123.0" x2="510.5" y2="123.0" stroke="#cfcfcf" stroke-width="1"/>
<line x1="510.5" y1="122.6" x2="510.5" y2="154.6" stroke="#cfcfcf" stroke-width="0.5"/>
<line x1="479.8" y1="122.6" x2="479.8" y2="154.6" stroke="#a0a0a0" stroke-width="0.5"/>
<line x1="479.8" y1="154.6" x2="510.5" y2="154.6" stroke="#a0a0a0" stroke-width="0.5"/>
<text x="476.2" y="124.6" font-size="3.5" fill="#505050" text-anchor="end" >10⁴</text>
<text x="476.2" y="130.79999999999998" font-size="3.5" fill="#505050" text-anchor="end" >10³</text>
<text x="476.2" y="138.1" font-size="3.5" fill="#505050" text-anchor="end" >10²</text>
<text x="476.2" y="144.7" font-size="3.5" fill="#505050" text-anchor="end" >10¹</text>
<text x="476.2" y="151.7" font-size="3.5" fill="#505050" text-anchor="end" >0</text>
<line x1="485.4" y1="157.1" x2="483.9" y2="159.4" stroke="#888" stroke-width="0.8"/>
<line x1="495.6" y1="157.1" x2="494.1" y2="159.4" stroke="#888" stroke-width="0.8"/>
<line x1="503.5" y1="157.1" x2="502.0" y2="159.4" stroke="#888" stroke-width="0.8"/>
<line x1="510.5" y1="157.1" x2="509.0" y2="159.4" stroke="#888" stroke-width="0.8"/>
<rect x="482" y="142.9" width="5.8" height="9.2" fill="none" stroke="#777" stroke-width="0.4"/>
<rect x="490.7" y="146.2" width="8.8" height="5.9" fill="none" stroke="#777" stroke-width="0.4"/>
<rect x="490.7" y="137.7" width="8.8" height="7.7" fill="none" stroke="#777" stroke-width="0.4"/>
<g fill="#a060b0" opacity="0.7"><circle cx="485.3" cy="149.0" r="0.4"/><circle cx="483.9" cy="148.9" r="0.4"/><circle cx="485.8" cy="149.1" r="0.4"/><circle cx="483.8" cy="149.7" r="0.4"/><circle cx="483.4" cy="150.6" r="0.4"/><circle cx="485.9" cy="148.3" r="0.4"/><circle cx="487.5" cy="150.2" r="0.4"/><circle cx="483.7" cy="148.9" r="0.4"/><circle cx="483.9" cy="149.0" r="0.4"/><circle cx="485.6" cy="149.0" r="0.4"/><circle cx="487.2" cy="152.1" r="0.4"/><circle cx="484.8" cy="150.0" r="0.4"/><circle cx="483.1" cy="150.0" r="0.4"/><circle cx="484.8" cy="149.4" r="0.4"/><circle cx="484.8" cy="149.9" r="0.4"/><circle cx="486.8" cy="149.5" r="0.4"/><circle cx="484.8" cy="148.8" r="0.4"/><circle cx="485.0" cy="151.8" r="0.4"/><circle cx="484.6" cy="148.4" r="0.4"/><circle cx="482.6" cy="148.1" r="0.4"/><circle cx="485.0" cy="150.6" r="0.4"/><circle cx="485.9" cy="149.4" r="0.4"/><circle cx="485.0" cy="150.1" r="0.4"/><circle cx="484.2" cy="149.9" r="0.4"/><circle cx="485.6" cy="148.8" r="0.4"/></g>
<g fill="#9a60b8" opacity="0.8"><circle cx="498.2" cy="151.0" r="0.4"/><circle cx="496.5" cy="151.0" r="0.4"/><circle cx="496.4" cy="147.5" r="0.4"/><circle cx="494.7" cy="150.4" r="0.4"/><circle cx="494.4" cy="146.0" r="0.4"/><circle cx="494.1" cy="147.9" r="0.4"/><circle cx="493.9" cy="150.2" r="0.4"/><circle cx="494.8" cy="147.9" r="0.4"/><circle cx="493.0" cy="148.9" r="0.4"/><circle cx="494.8" cy="149.0" r="0.4"/><circle cx="495.4" cy="151.3" r="0.4"/><circle cx="492.5" cy="148.2" r="0.4"/><circle cx="496.1" cy="149.6" r="0.4"/><circle cx="492.6" cy="149.3" r="0.4"/><circle cx="496.0" cy="151.4" r="0.4"/><circle cx="494.0" cy="149.9" r="0.4"/><circle cx="495.4" cy="148.8" r="0.4"/><circle cx="496.3" cy="148.8" r="0.4"/><circle cx="494.4" cy="150.0" r="0.4"/><circle cx="492.3" cy="149.8" r="0.4"/><circle cx="495.4" cy="150.9" r="0.4"/><circle cx="493.9" cy="149.7" r="0.4"/><circle cx="496.7" cy="150.8" r="0.4"/><circle cx="493.6" cy="150.0" r="0.4"/><circle cx="494.5" cy="148.9" r="0.4"/><circle cx="496.4" cy="146.8" r="0.4"/><circle cx="495.0" cy="151.7" r="0.4"/><circle cx="494.7" cy="148.3" r="0.4"/><circle cx="495.0" cy="149.8" r="0.4"/><circle cx="493.7" cy="150.0" r="0.4"/><circle cx="493.4" cy="149.4" r="0.4"/><circle cx="494.4" cy="149.1" r="0.4"/><circle cx="495.4" cy="150.9" r="0.4"/><circle cx="494.2" cy="149.4" r="0.4"/><circle cx="494.4" cy="152.9" r="0.4"/><circle cx="495.8" cy="147.3" r="0.4"/><circle cx="494.1" cy="150.4" r="0.4"/><circle cx="494.6" cy="147.7" r="0.4"/><circle cx="494.8" cy="149.0" r="0.4"/><circle cx="494.9" cy="148.5" r="0.4"/><circle cx="494.2" cy="150.7" r="0.4"/><circle cx="496.6" cy="148.9" r="0.4"/><circle cx="494.5" cy="148.6" r="0.4"/><circle cx="496.2" cy="148.9" r="0.4"/><circle cx="492.9" cy="148.8" r="0.4"/><circle cx="494.6" cy="148.0" r="0.4"/><circle cx="495.0" cy="149.2" r="0.4"/><circle cx="497.0" cy="149.1" r="0.4"/><circle cx="494.1" cy="148.7" r="0.4"/><circle cx="493.0" cy="149.5" r="0.4"/></g>
<g fill="#6a70c8" opacity="0.8"><circle cx="497.5" cy="142.2" r="0.4"/><circle cx="493.8" cy="142.9" r="0.4"/><circle cx="496.1" cy="138.1" r="0.4"/><circle cx="494.6" cy="143.1" r="0.4"/><circle cx="495.2" cy="143.0" r="0.4"/><circle cx="492.7" cy="138.9" r="0.4"/><circle cx="496.3" cy="145.0" r="0.4"/><circle cx="496.4" cy="146.0" r="0.4"/><circle cx="494.2" cy="142.1" r="0.4"/><circle cx="496.5" cy="142.8" r="0.4"/><circle cx="496.4" cy="142.0" r="0.4"/><circle cx="494.2" cy="141.3" r="0.4"/><circle cx="493.4" cy="143.4" r="0.4"/><circle cx="497.2" cy="144.2" r="0.4"/><circle cx="496.6" cy="143.0" r="0.4"/><circle cx="495.2" cy="141.7" r="0.4"/><circle cx="496.8" cy="143.9" r="0.4"/><circle cx="495.5" cy="142.5" r="0.4"/><circle cx="494.7" cy="140.8" r="0.4"/><circle cx="497.5" cy="142.6" r="0.4"/><circle cx="497.5" cy="142.6" r="0.4"/><circle cx="494.5" cy="141.7" r="0.4"/><circle cx="493.9" cy="144.7" r="0.4"/><circle cx="496.2" cy="144.2" r="0.4"/><circle cx="495.1" cy="142.6" r="0.4"/><circle cx="496.4" cy="142.0" r="0.4"/><circle cx="496.0" cy="141.0" r="0.4"/><circle cx="496.9" cy="142.7" r="0.4"/><circle cx="494.2" cy="141.8" r="0.4"/><circle cx="495.9" cy="142.4" r="0.4"/><circle cx="497.0" cy="140.0" r="0.4"/><circle cx="496.5" cy="144.1" r="0.4"/><circle cx="497.5" cy="143.2" r="0.4"/><circle cx="495.2" cy="141.4" r="0.4"/><circle cx="495.9" cy="141.5" r="0.4"/><circle cx="497.2" cy="143.2" r="0.4"/><circle cx="495.6" cy="141.3" r="0.4"/><circle cx="496.1" cy="144.7" r="0.4"/><circle cx="495.2" cy="141.9" r="0.4"/><circle cx="496.7" cy="144.4" r="0.4"/><circle cx="495.8" cy="141.8" r="0.4"/><circle cx="494.2" cy="140.9" r="0.4"/><circle cx="497.8" cy="143.2" r="0.4"/><circle cx="494.9" cy="142.7" r="0.4"/><circle cx="496.4" cy="143.5" r="0.4"/></g>
<text x="481.8" y="142.1" font-size="2.6" fill="#888" text-anchor="start" textLength="5" lengthAdjust="spacingAndGlyphs" >DN %</text>
<text x="501.5" y="150.0" font-size="2.6" fill="#888" text-anchor="start" textLength="5" lengthAdjust="spacingAndGlyphs" >DN %</text>
<text x="501.5" y="143.6" font-size="2.6" fill="#888" text-anchor="start" textLength="5" lengthAdjust="spacingAndGlyphs" >Vb %</text>
<text x="6.8" y="219.7" font-size="10.5" fill="#111" stroke="#111" stroke-width="0" text-anchor="start" >C</text>
<rect x="39.60" y="226.20" width="7.94" height="0.51" fill="#c7c6dc"/>
<rect x="39.60" y="226.71" width="7.94" height="1.11" fill="#7e84a8"/>
<rect x="39.60" y="227.82" width="7.94" height="1.82" fill="#4b6388"/>
<rect x="39.60" y="229.64" width="7.94" height="97.76" fill="#a3344a"/>
<rect x="47.54" y="226.20" width="7.94" height="0.51" fill="#c7c6dc"/>
<rect x="47.54" y="226.71" width="7.94" height="3.54" fill="#7e84a8"/>
<rect x="47.54" y="230.25" width="7.94" height="2.13" fill="#4b6388"/>
<rect x="47.54" y="232.37" width="7.94" height="95.03" fill="#a3344a"/>
<rect x="55.48" y="226.20" width="7.94" height="0.51" fill="#c7c6dc"/>
<rect x="55.48" y="226.71" width="7.94" height="4.25" fill="#7e84a8"/>
<rect x="55.48" y="230.96" width="7.94" height="3.24" fill="#4b6388"/>
<rect x="55.48" y="234.19" width="7.94" height="93.21" fill="#a3344a"/>
<rect x="63.42" y="226.20" width="7.94" height="1.62" fill="#c7c6dc"/>
<rect x="63.42" y="227.82" width="7.94" height="3.95" fill="#7e84a8"/>
<rect x="63.42" y="231.77" width="7.94" height="23.68" fill="#4b6388"/>
<rect x="63.42" y="255.45" width="7.94" height="71.95" fill="#a3344a"/>
<rect x="71.36" y="226.20" width="7.94" height="4.25" fill="#c7c6dc"/>
<rect x="71.36" y="230.45" width="7.94" height="7.19" fill="#7e84a8"/>
<rect x="71.36" y="237.64" width="7.94" height="21.35" fill="#4b6388"/>
<rect x="71.36" y="258.99" width="7.94" height="68.41" fill="#a3344a"/>
<rect x="79.30" y="226.20" width="7.94" height="1.62" fill="#c7c6dc"/>
<rect x="79.30" y="227.82" width="7.94" height="3.95" fill="#7e84a8"/>
<rect x="79.30" y="231.77" width="7.94" height="27.73" fill="#4b6388"/>
<rect x="79.30" y="259.49" width="7.94" height="67.91" fill="#a3344a"/>
<rect x="87.24" y="226.20" width="7.94" height="1.62" fill="#c7c6dc"/>
<rect x="87.24" y="227.82" width="7.94" height="7.99" fill="#7e84a8"/>
<rect x="87.24" y="235.81" width="7.94" height="25.00" fill="#4b6388"/>
<rect x="87.24" y="260.81" width="7.94" height="66.59" fill="#a3344a"/>
<rect x="95.18" y="226.20" width="7.94" height="1.62" fill="#c7c6dc"/>
<rect x="95.18" y="227.82" width="7.94" height="21.86" fill="#7e84a8"/>
<rect x="95.18" y="249.68" width="7.94" height="15.89" fill="#4b6388"/>
<rect x="95.18" y="265.57" width="7.94" height="61.83" fill="#a3344a"/>
<rect x="103.12" y="226.20" width="7.94" height="2.13" fill="#c7c6dc"/>
<rect x="103.12" y="228.33" width="7.94" height="18.11" fill="#7e84a8"/>
<rect x="103.12" y="246.44" width="7.94" height="27.12" fill="#4b6388"/>
<rect x="103.12" y="273.56" width="7.94" height="53.84" fill="#a3344a"/>
<rect x="111.06" y="226.20" width="7.94" height="2.13" fill="#c7c6dc"/>
<rect x="111.06" y="228.33" width="7.94" height="9.31" fill="#7e84a8"/>
<rect x="111.06" y="237.64" width="7.94" height="36.53" fill="#4b6388"/>
<rect x="111.06" y="274.17" width="7.94" height="53.23" fill="#a3344a"/>
<rect x="119.00" y="226.20" width="7.94" height="4.76" fill="#c7c6dc"/>
<rect x="119.00" y="230.96" width="7.94" height="26.72" fill="#7e84a8"/>
<rect x="119.00" y="257.67" width="7.94" height="17.31" fill="#4b6388"/>
<rect x="119.00" y="274.98" width="7.94" height="52.42" fill="#a3344a"/>
<rect x="126.94" y="226.20" width="7.94" height="6.88" fill="#c7c6dc"/>
<rect x="126.94" y="233.08" width="7.94" height="13.05" fill="#7e84a8"/>
<rect x="126.94" y="246.14" width="7.94" height="33.29" fill="#4b6388"/>
<rect x="126.94" y="279.43" width="7.94" height="47.97" fill="#a3344a"/>
<rect x="134.88" y="226.20" width="7.94" height="2.93" fill="#c7c6dc"/>
<rect x="134.88" y="229.13" width="7.94" height="15.69" fill="#7e84a8"/>
<rect x="134.88" y="244.82" width="7.94" height="43.41" fill="#4b6388"/>
<rect x="134.88" y="288.24" width="7.94" height="39.16" fill="#a3344a"/>
<rect x="142.82" y="226.20" width="7.94" height="4.76" fill="#c7c6dc"/>
<rect x="142.82" y="230.96" width="7.94" height="32.79" fill="#7e84a8"/>
<rect x="142.82" y="263.75" width="7.94" height="27.12" fill="#4b6388"/>
<rect x="142.82" y="290.87" width="7.94" height="36.53" fill="#a3344a"/>
<rect x="150.76" y="226.20" width="7.94" height="2.93" fill="#c7c6dc"/>
<rect x="150.76" y="229.13" width="7.94" height="19.73" fill="#7e84a8"/>
<rect x="150.76" y="248.87" width="7.94" height="44.93" fill="#4b6388"/>
<rect x="150.76" y="293.80" width="7.94" height="33.60" fill="#a3344a"/>
<rect x="158.70" y="226.20" width="7.94" height="2.93" fill="#c7c6dc"/>
<rect x="158.70" y="229.13" width="7.94" height="19.73" fill="#7e84a8"/>
<rect x="158.70" y="248.87" width="7.94" height="49.28" fill="#4b6388"/>
<rect x="158.70" y="298.15" width="7.94" height="29.25" fill="#a3344a"/>
<rect x="166.64" y="226.20" width="7.94" height="4.76" fill="#c7c6dc"/>
<rect x="166.64" y="230.96" width="7.94" height="15.99" fill="#7e84a8"/>
<rect x="166.64" y="246.95" width="7.94" height="68.21" fill="#4b6388"/>
<rect x="166.64" y="315.15" width="7.94" height="12.25" fill="#a3344a"/>
<rect x="174.58" y="226.20" width="7.94" height="10.93" fill="#c7c6dc"/>
<rect x="174.58" y="237.13" width="7.94" height="13.36" fill="#7e84a8"/>
<rect x="174.58" y="250.49" width="7.94" height="66.29" fill="#4b6388"/>
<rect x="174.58" y="316.77" width="7.94" height="10.63" fill="#a3344a"/>
<rect x="182.52" y="226.20" width="7.94" height="15.48" fill="#c7c6dc"/>
<rect x="182.52" y="241.68" width="7.94" height="22.06" fill="#7e84a8"/>
<rect x="182.52" y="263.75" width="7.94" height="53.03" fill="#4b6388"/>
<rect x="182.52" y="316.77" width="7.94" height="10.63" fill="#a3344a"/>
<rect x="190.46" y="226.20" width="7.94" height="21.35" fill="#c7c6dc"/>
<rect x="190.46" y="247.55" width="7.94" height="42.00" fill="#7e84a8"/>
<rect x="190.46" y="289.55" width="7.94" height="36.23" fill="#4b6388"/>
<rect x="190.46" y="325.78" width="7.94" height="1.62" fill="#a3344a"/>
<rect x="47.19" y="226.2" width="0.7" height="101.19999999999999" fill="#fff" opacity="0.8"/>
<rect x="55.13" y="226.2" width="0.7" height="101.19999999999999" fill="#fff" opacity="0.8"/>
<rect x="63.07" y="226.2" width="0.7" height="101.19999999999999" fill="#fff" opacity="0.8"/>
<rect x="71.01" y="226.2" width="0.7" height="101.19999999999999" fill="#fff" opacity="0.8"/>
<rect x="78.95" y="226.2" width="0.7" height="101.19999999999999" fill="#fff" opacity="0.8"/>
<rect x="86.89" y="226.2" width="0.7" height="101.19999999999999" fill="#fff" opacity="0.8"/>
<rect x="94.83" y="226.2" width="0.7" height="101.19999999999999" fill="#fff" opacity="0.8"/>
<rect x="102.77" y="226.2" width="0.7" height="101.19999999999999" fill="#fff" opacity="0.8"/>
<rect x="110.71" y="226.2" width="0.7" height="101.19999999999999" fill="#fff" opacity="0.8"/>
<rect x="118.65" y="226.2" width="0.7" height="101.19999999999999" fill="#fff" opacity="0.8"/>
<rect x="126.59" y="226.2" width="0.7" height="101.19999999999999" fill="#fff" opacity="0.8"/>
<rect x="134.53" y="226.2" width="0.7" height="101.19999999999999" fill="#fff" opacity="0.8"/>
<rect x="142.47" y="226.2" width="0.7" height="101.19999999999999" fill="#fff" opacity="0.8"/>
<rect x="150.41" y="226.2" width="0.7" height="101.19999999999999" fill="#fff" opacity="0.8"/>
<rect x="158.35" y="226.2" width="0.7" height="101.19999999999999" fill="#fff" opacity="0.8"/>
<rect x="166.29" y="226.2" width="0.7" height="101.19999999999999" fill="#fff" opacity="0.8"/>
<rect x="174.23" y="226.2" width="0.7" height="101.19999999999999" fill="#fff" opacity="0.8"/>
<rect x="182.17" y="226.2" width="0.7" height="101.19999999999999" fill="#fff" opacity="0.8"/>
<rect x="190.11" y="226.2" width="0.7" height="101.19999999999999" fill="#fff" opacity="0.8"/>
<line x1="38.8" y1="224.7" x2="38.8" y2="327.9" stroke="#222" stroke-width="0.8"/>
<line x1="38.4" y1="327.4" x2="200.8" y2="327.4" stroke="#222" stroke-width="0.9"/>
<line x1="36.6" y1="226.20" x2="38.8" y2="226.20" stroke="#222" stroke-width="0.6"/>
<text x="32.9" y="227.89999999999998" font-size="6.0" fill="#333" stroke="#333" stroke-width="0" text-anchor="end" textLength="11.7" lengthAdjust="spacingAndGlyphs" >1.00</text>
<line x1="36.6" y1="251.50" x2="38.8" y2="251.50" stroke="#222" stroke-width="0.6"/>
<text x="32.9" y="253.2" font-size="6.0" fill="#333" stroke="#333" stroke-width="0" text-anchor="end" textLength="11.7" lengthAdjust="spacingAndGlyphs" >0.75</text>
<line x1="36.6" y1="276.80" x2="38.8" y2="276.80" stroke="#222" stroke-width="0.6"/>
<text x="32.9" y="278.49999999999994" font-size="6.0" fill="#333" stroke="#333" stroke-width="0" text-anchor="end" textLength="11.7" lengthAdjust="spacingAndGlyphs" >0.50</text>
<line x1="36.6" y1="302.10" x2="38.8" y2="302.10" stroke="#222" stroke-width="0.6"/>
<text x="32.9" y="303.79999999999995" font-size="6.0" fill="#333" stroke="#333" stroke-width="0" text-anchor="end" textLength="11.7" lengthAdjust="spacingAndGlyphs" >0.25</text>
<line x1="36.6" y1="327.40" x2="38.8" y2="327.40" stroke="#222" stroke-width="0.6"/>
<text x="32.9" y="329.09999999999997" font-size="6.0" fill="#333" stroke="#333" stroke-width="0" text-anchor="end" textLength="11.7" lengthAdjust="spacingAndGlyphs" >0.00</text>
<text x="14.4" y="270.8" font-size="8.0" fill="#2a2627" stroke="#2a2627" stroke-width="0.16" text-anchor="middle" transform="rotate(-90 14.4 270.8)" textLength="70.6" lengthAdjust="spacingAndGlyphs">Fraction of CD3+ cells</text>
<text x="120.2" y="338.8" font-size="7.4" fill="#2a2627" stroke="#2a2627" stroke-width="0.15" text-anchor="middle" textLength="72" lengthAdjust="spacingAndGlyphs" >Sample (clonotypic)</text>
<text x="208.7" y="255.8" font-size="5.4" fill="#333" stroke="#333" stroke-width="0" text-anchor="start" textLength="24.5" lengthAdjust="spacingAndGlyphs" >Population</text>
<rect x="208.8" y="260.6" width="8.2" height="8.5" fill="#a3344a"/>
<text x="220.2" y="266.40000000000003" font-size="4.8" fill="#333" stroke="#333" stroke-width="0" text-anchor="start" >Tumor</text>
<rect x="208.8" y="271.15000000000003" width="8.2" height="8.5" fill="#4b6388"/>
<text x="220.2" y="276.95000000000005" font-size="4.8" fill="#333" stroke="#333" stroke-width="0" text-anchor="start" >TIL CD4</text>
<rect x="208.8" y="281.70000000000005" width="8.2" height="8.5" fill="#7e84a8"/>
<text x="220.2" y="287.50000000000006" font-size="4.8" fill="#333" stroke="#333" stroke-width="0" text-anchor="start" >TIL CD8</text>
<rect x="208.8" y="292.25" width="8.2" height="8.5" fill="#c7c6dc"/>
<text x="220.2" y="298.05" font-size="4.8" fill="#333" stroke="#333" stroke-width="0" text-anchor="start" >TIL DNEG</text>
<text x="261.9" y="219.6" font-size="10.5" fill="#111" stroke="#111" stroke-width="0" text-anchor="start" >D</text>
<text x="313" y="228.4" font-size="6.6" fill="#231f20" stroke="#231f20" stroke-width="0.13" text-anchor="start" textLength="120.8" lengthAdjust="spacingAndGlyphs" >Median Population Forward and Side Scatter</text>
<path d="M292,417.3 L292,233 L454.2,233 L454.2,417.3 Z" fill="none" stroke="#2a2a2a" stroke-width="1.4"/>
<line x1="289" y1="372.1" x2="292" y2="372.1" stroke="#2a2a2a" stroke-width="0.8"/>
<text x="286.2" y="374.40000000000003" font-size="6.4" fill="#333" stroke="#333" stroke-width="0.13" text-anchor="end" textLength="10.1" lengthAdjust="spacingAndGlyphs" >150</text>
<line x1="289" y1="326.4" x2="292" y2="326.4" stroke="#2a2a2a" stroke-width="0.8"/>
<text x="286.2" y="328.725" font-size="6.4" fill="#333" stroke="#333" stroke-width="0.13" text-anchor="end" textLength="10.1" lengthAdjust="spacingAndGlyphs" >200</text>
<line x1="289" y1="280.8" x2="292" y2="280.8" stroke="#2a2a2a" stroke-width="0.8"/>
<text x="286.2" y="283.05" font-size="6.4" fill="#333" stroke="#333" stroke-width="0.13" text-anchor="end" textLength="10.1" lengthAdjust="spacingAndGlyphs" >250</text>
<line x1="289" y1="235.1" x2="292" y2="235.1" stroke="#2a2a2a" stroke-width="0.8"/>
<text x="286.2" y="237.37500000000003" font-size="6.4" fill="#333" stroke="#333" stroke-width="0.13" text-anchor="end" textLength="10.1" lengthAdjust="spacingAndGlyphs" >300</text>
<line x1="308.2" y1="417.3" x2="308.2" y2="420.3" stroke="#2a2a2a" stroke-width="0.8"/>
<text x="308.2" y="429.90000000000003" font-size="6.4" fill="#333" stroke="#333" stroke-width="0.13" text-anchor="middle" textLength="10.1" lengthAdjust="spacingAndGlyphs" >500</text>
<line x1="362.6" y1="417.3" x2="362.6" y2="420.3" stroke="#2a2a2a" stroke-width="0.8"/>
<text x="362.55" y="429.90000000000003" font-size="6.4" fill="#333" stroke="#333" stroke-width="0.13" text-anchor="middle" textLength="10.1" lengthAdjust="spacingAndGlyphs" >600</text>
<line x1="416.9" y1="417.3" x2="416.9" y2="420.3" stroke="#2a2a2a" stroke-width="0.8"/>
<text x="416.9" y="429.90000000000003" font-size="6.4" fill="#333" stroke="#333" stroke-width="0.13" text-anchor="middle" textLength="10.1" lengthAdjust="spacingAndGlyphs" >700</text>
<text x="345" y="441.5" font-size="8.6" fill="#231f20" stroke="#231f20" stroke-width="0.17" text-anchor="start" textLength="55.8" lengthAdjust="spacingAndGlyphs" >Forward scatter</text>
<text x="269" y="325.8" font-size="8.4" fill="#231f20" stroke="#231f20" stroke-width="0.17" text-anchor="middle" transform="rotate(-90 269 325.8)" textLength="39.7" lengthAdjust="spacingAndGlyphs">Side scatter</text>
<ellipse cx="390" cy="311" rx="79.7" ry="42.9" transform="rotate(-55.5 390 311)" fill="none" stroke="#c0505a" stroke-width="0.9"/>
<ellipse cx="351.3" cy="365.9" rx="54.5" ry="32.1" transform="rotate(-38 351.3 365.9)" fill="none" stroke="#4a5d8c" stroke-width="0.85"/>
<ellipse cx="353.2" cy="359.9" rx="50.7" ry="24.7" transform="rotate(-33.9 353.2 359.9)" fill="none" stroke="#4a5d8c" stroke-width="0.85"/>
<ellipse cx="348.1" cy="358.2" rx="35.8" ry="27.4" transform="rotate(-54.7 348.1 358.2)" fill="none" stroke="#4a5d8c" stroke-width="0.85"/>
<ellipse cx="351.4" cy="357.5" rx="41.6" ry="27.5" transform="rotate(-25.1 351.4 357.5)" fill="none" stroke="#4a5d8c" stroke-width="0.85"/>
<circle cx="375.4" cy="282.1" r="1.75" fill="#d77a7c" stroke="#c25a60" stroke-width="0.5"/>
<circle cx="381.9" cy="280.8" r="1.75" fill="#d77a7c" stroke="#c25a60" stroke-width="0.5"/>
<circle cx="399" cy="297.3" r="1.75" fill="#d77a7c" stroke="#c25a60" stroke-width="0.5"/>
<circle cx="377.6" cy="306.9" r="1.75" fill="#d77a7c" stroke="#c25a60" stroke-width="0.5"/>
<circle cx="395.9" cy="306.1" r="1.75" fill="#d77a7c" stroke="#c25a60" stroke-width="0.5"/>
<circle cx="399.8" cy="312" r="1.75" fill="#d77a7c" stroke="#c25a60" stroke-width="0.5"/>
<circle cx="385" cy="315.8" r="1.75" fill="#d77a7c" stroke="#c25a60" stroke-width="0.5"/>
<circle cx="354.4" cy="310.3" r="1.75" fill="#d77a7c" stroke="#c25a60" stroke-width="0.5"/>
<circle cx="376.9" cy="322" r="1.75" fill="#d77a7c" stroke="#c25a60" stroke-width="0.5"/>
<circle cx="346.2" cy="325.5" r="1.75" fill="#d77a7c" stroke="#c25a60" stroke-width="0.5"/>
<circle cx="401.6" cy="326.3" r="1.75" fill="#d77a7c" stroke="#c25a60" stroke-width="0.5"/>
<circle cx="407.2" cy="325.1" r="1.75" fill="#d77a7c" stroke="#c25a60" stroke-width="0.5"/>
<circle cx="407" cy="247.2" r="1.75" fill="#d77a7c" stroke="#c25a60" stroke-width="0.5"/>
<circle cx="440.3" cy="250.4" r="1.75" fill="#d77a7c" stroke="#c25a60" stroke-width="0.5"/>
<circle cx="424.3" cy="275.2" r="1.75" fill="#d77a7c" stroke="#c25a60" stroke-width="0.5"/>
<circle cx="431.1" cy="298.6" r="1.75" fill="#d77a7c" stroke="#c25a60" stroke-width="0.5"/>
<circle cx="371" cy="344" r="1.75" fill="#d77a7c" stroke="#c25a60" stroke-width="0.5"/>
<circle cx="359.9" cy="349.7" r="1.75" fill="#d77a7c" stroke="#c25a60" stroke-width="0.5"/>
<circle cx="378.3" cy="358.6" r="1.75" fill="#d77a7c" stroke="#c25a60" stroke-width="0.5"/>
<circle cx="398.2" cy="345.7" r="1.75" fill="#d77a7c" stroke="#c25a60" stroke-width="0.5"/>
<rect x="348.5" y="372.5" width="3" height="3" fill="#4a5d8c"/>
<rect x="337.0" y="364.5" width="3" height="3" fill="#4a5d8c"/>
<rect x="354.0" y="357.0" width="3" height="3" fill="#4a5d8c"/>
<rect x="330.8" y="335.0" width="3" height="3" fill="#4a5d8c"/>
<rect x="358.2" y="338.6" width="3" height="3" fill="#4a5d8c"/>
<rect x="367.5" y="334.3" width="3" height="3" fill="#4a5d8c"/>
<rect x="358.2" y="345.8" width="3" height="3" fill="#4a5d8c"/>
<rect x="364.0" y="345.8" width="3" height="3" fill="#4a5d8c"/>
<rect x="342.3" y="357.4" width="3" height="3" fill="#4a5d8c"/>
<rect x="330.8" y="360.2" width="3" height="3" fill="#4a5d8c"/>
<rect x="346.6" y="361.7" width="3" height="3" fill="#4a5d8c"/>
<rect x="349.5" y="362.4" width="3" height="3" fill="#4a5d8c"/>
<rect x="357.5" y="363.1" width="3" height="3" fill="#4a5d8c"/>
<rect x="342.3" y="368.9" width="3" height="3" fill="#4a5d8c"/>
<rect x="334.4" y="371.1" width="3" height="3" fill="#4a5d8c"/>
<rect x="332.2" y="370.3" width="3" height="3" fill="#4a5d8c"/>
<rect x="351.0" y="374.7" width="3" height="3" fill="#4a5d8c"/>
<rect x="369.0" y="368.9" width="3" height="3" fill="#4a5d8c"/>
<rect x="345.2" y="381.9" width="3" height="3" fill="#4a5d8c"/>
<rect x="336.5" y="392.0" width="3" height="3" fill="#4a5d8c"/>
<rect x="382.7" y="343.4" width="3" height="3" fill="#4a5d8c"/>
<rect x="365.0" y="343.4" width="3" height="3" fill="#4a5d8c"/>
<polygon points="363.3,336.6 361.2,340.1 365.4,340.1" fill="#4a5d8c"/>
<polygon points="369.8,338.7 367.7,342.2 371.9,342.2" fill="#4a5d8c"/>
<polygon points="361.1,351.7 359.0,355.2 363.2,355.2" fill="#4a5d8c"/>
<polygon points="342.4,361.8 340.3,365.3 344.5,365.3" fill="#4a5d8c"/>
<polygon points="372.7,361.1 370.6,364.6 374.8,364.6" fill="#4a5d8c"/>
<polygon points="346.7,378.4 344.6,381.9 348.8,381.9" fill="#4a5d8c"/>
<polygon points="373.4,379.1 371.3,382.6 375.5,382.6" fill="#4a5d8c"/>
<polygon points="340.2,384.2 338.1,387.7 342.3,387.7" fill="#4a5d8c"/>
<polygon points="343.1,390.7 341.0,394.2 345.2,394.2" fill="#4a5d8c"/>
<polygon points="308.9,376.0 306.8,379.5 311.0,379.5" fill="#4a5d8c"/>
<polygon points="299.6,389.1 297.5,392.6 301.7,392.6" fill="#4a5d8c"/>
<polygon points="390.8,346.1 388.7,349.6 392.9,349.6" fill="#4a5d8c"/>
<polygon points="338.8,390.4 336.7,393.9 340.9,393.9" fill="#4a5d8c"/>
<circle cx="354.6" cy="354.5" r="1.2" fill="#4a5d8c"/>
<circle cx="366.2" cy="365.4" r="1.2" fill="#4a5d8c"/>
<circle cx="330.1" cy="367.5" r="1.2" fill="#4a5d8c"/>
<circle cx="354.6" cy="372.6" r="1.2" fill="#4a5d8c"/>
<circle cx="348.9" cy="369" r="1.2" fill="#4a5d8c"/>
<circle cx="335.9" cy="380.5" r="1.2" fill="#4a5d8c"/>
<circle cx="330.8" cy="383.4" r="1.2" fill="#4a5d8c"/>
<circle cx="343.8" cy="378.3" r="1.2" fill="#4a5d8c"/>
<circle cx="321" cy="366" r="1.2" fill="#4a5d8c"/>
<circle cx="321" cy="379.2" r="1.2" fill="#4a5d8c"/>
<circle cx="352.7" cy="301.9" r="1.2" fill="#4a5d8c"/>
<circle cx="373.8" cy="308" r="1.2" fill="#4a5d8c"/>
<polygon points="347.5,351.1 349.4,353.0 347.5,354.9 345.6,353.0" fill="#4a5d8c"/>
<polygon points="356.0,361.1 357.9,363.0 356.0,364.9 354.1,363.0" fill="#4a5d8c"/>
<polygon points="341.0,370.6 342.9,372.5 341.0,374.4 339.1,372.5" fill="#4a5d8c"/>
<polygon points="336.0,369.1 337.9,371.0 336.0,372.9 334.1,371.0" fill="#4a5d8c"/>
<polygon points="360.0,358.1 361.9,360.0 360.0,361.9 358.1,360.0" fill="#4a5d8c"/>
<polygon points="349.5,360.6 351.4,362.5 349.5,364.4 347.6,362.5" fill="#4a5d8c"/>
<polygon points="348.9,349.7 350.8,351.6 348.9,353.5 347.0,351.6" fill="#4a5d8c"/>
<polygon points="348.1,353.4 350.0,355.3 348.1,357.2 346.2,355.3" fill="#4a5d8c"/>
<polygon points="358.2,359.1 360.1,361.0 358.2,362.9 356.3,361.0" fill="#4a5d8c"/>
<polygon points="361.1,360.6 363.0,362.5 361.1,364.4 359.2,362.5" fill="#4a5d8c"/>
<polygon points="351.0,357.7 352.9,359.6 351.0,361.5 349.1,359.6" fill="#4a5d8c"/>
<polygon points="338.8,367.1 340.7,369.0 338.8,370.9 336.9,369.0" fill="#4a5d8c"/>
<polygon points="352.5,369.9 354.4,371.8 352.5,373.7 350.6,371.8" fill="#4a5d8c"/>
<polygon points="315.5,347.4 317.4,349.3 315.5,351.2 313.6,349.3" fill="#4a5d8c"/>
<polygon points="312.2,358.5 314.1,360.4 312.2,362.3 310.3,360.4" fill="#4a5d8c"/>
<polygon points="318.8,356.3 320.7,358.2 318.8,360.1 316.9,358.2" fill="#4a5d8c"/>
<polygon points="350.6,294.1 352.5,296.0 350.6,297.9 348.7,296.0" fill="#4a5d8c"/>
<text x="462.9" y="309.4" font-size="6.2" fill="#333" stroke="#333" stroke-width="0" text-anchor="start" textLength="29.9" lengthAdjust="spacingAndGlyphs" >population</text>
<line x1="461.9" y1="317" x2="468.7" y2="317" stroke="#4a5d8c" stroke-width="0.9"/>
<polygon points="465.3,314.9 463.2,318.1 467.4,318.1" fill="#4a5d8c"/>
<text x="472" y="318.8" font-size="4.9" fill="#333" stroke="#333" stroke-width="0" text-anchor="start" textLength="16" lengthAdjust="spacingAndGlyphs" >PB CD4</text>
<line x1="461.9" y1="326.7" x2="468.7" y2="326.7" stroke="#4a5d8c" stroke-width="0.9"/>
<rect x="463.8" y="325.2" width="3" height="3" fill="#4a5d8c"/>
<text x="472" y="328.5" font-size="4.9" fill="#333" stroke="#333" stroke-width="0" text-anchor="start" textLength="16" lengthAdjust="spacingAndGlyphs" >PB CD8</text>
<line x1="461.9" y1="336.7" x2="468.7" y2="336.7" stroke="#4a5d8c" stroke-width="0.9"/>
<circle cx="465.3" cy="336.7" r="1.2" fill="#4a5d8c"/>
<text x="472" y="338.5" font-size="4.9" fill="#333" stroke="#333" stroke-width="0" text-anchor="start" textLength="16.3" lengthAdjust="spacingAndGlyphs" >TIL CD4</text>
<line x1="461.9" y1="346.8" x2="468.7" y2="346.8" stroke="#4a5d8c" stroke-width="0.9"/>
<polygon points="465.3,344.90000000000003 467.2,346.8 465.3,348.7 463.4,346.8" fill="#4a5d8c"/>
<text x="472" y="348.6" font-size="4.9" fill="#333" stroke="#333" stroke-width="0" text-anchor="start" textLength="16.3" lengthAdjust="spacingAndGlyphs" >TIL CD8</text>
<line x1="461.9" y1="357.3" x2="468.7" y2="357.3" stroke="#c0505a" stroke-width="0.9"/>
<polygon points="465.3,355.40000000000003 467.2,357.3 465.3,359.2 463.4,357.3" fill="#c0505a"/>
<text x="472" y="359.1" font-size="4.9" fill="#333" stroke="#333" stroke-width="0" text-anchor="start" textLength="13.5" lengthAdjust="spacingAndGlyphs" >Tumor</text>
<rect x="0" y="0" width="520" height="1.5" fill="#555"/>
<rect x="0" y="0" width="1.5" height="451" fill="#555"/>
<rect x="518.8" y="0" width="1.2" height="451" fill="#000"/>
<rect x="0" y="449.6" width="520" height="1.4" fill="#000"/>
</svg></body></html>
